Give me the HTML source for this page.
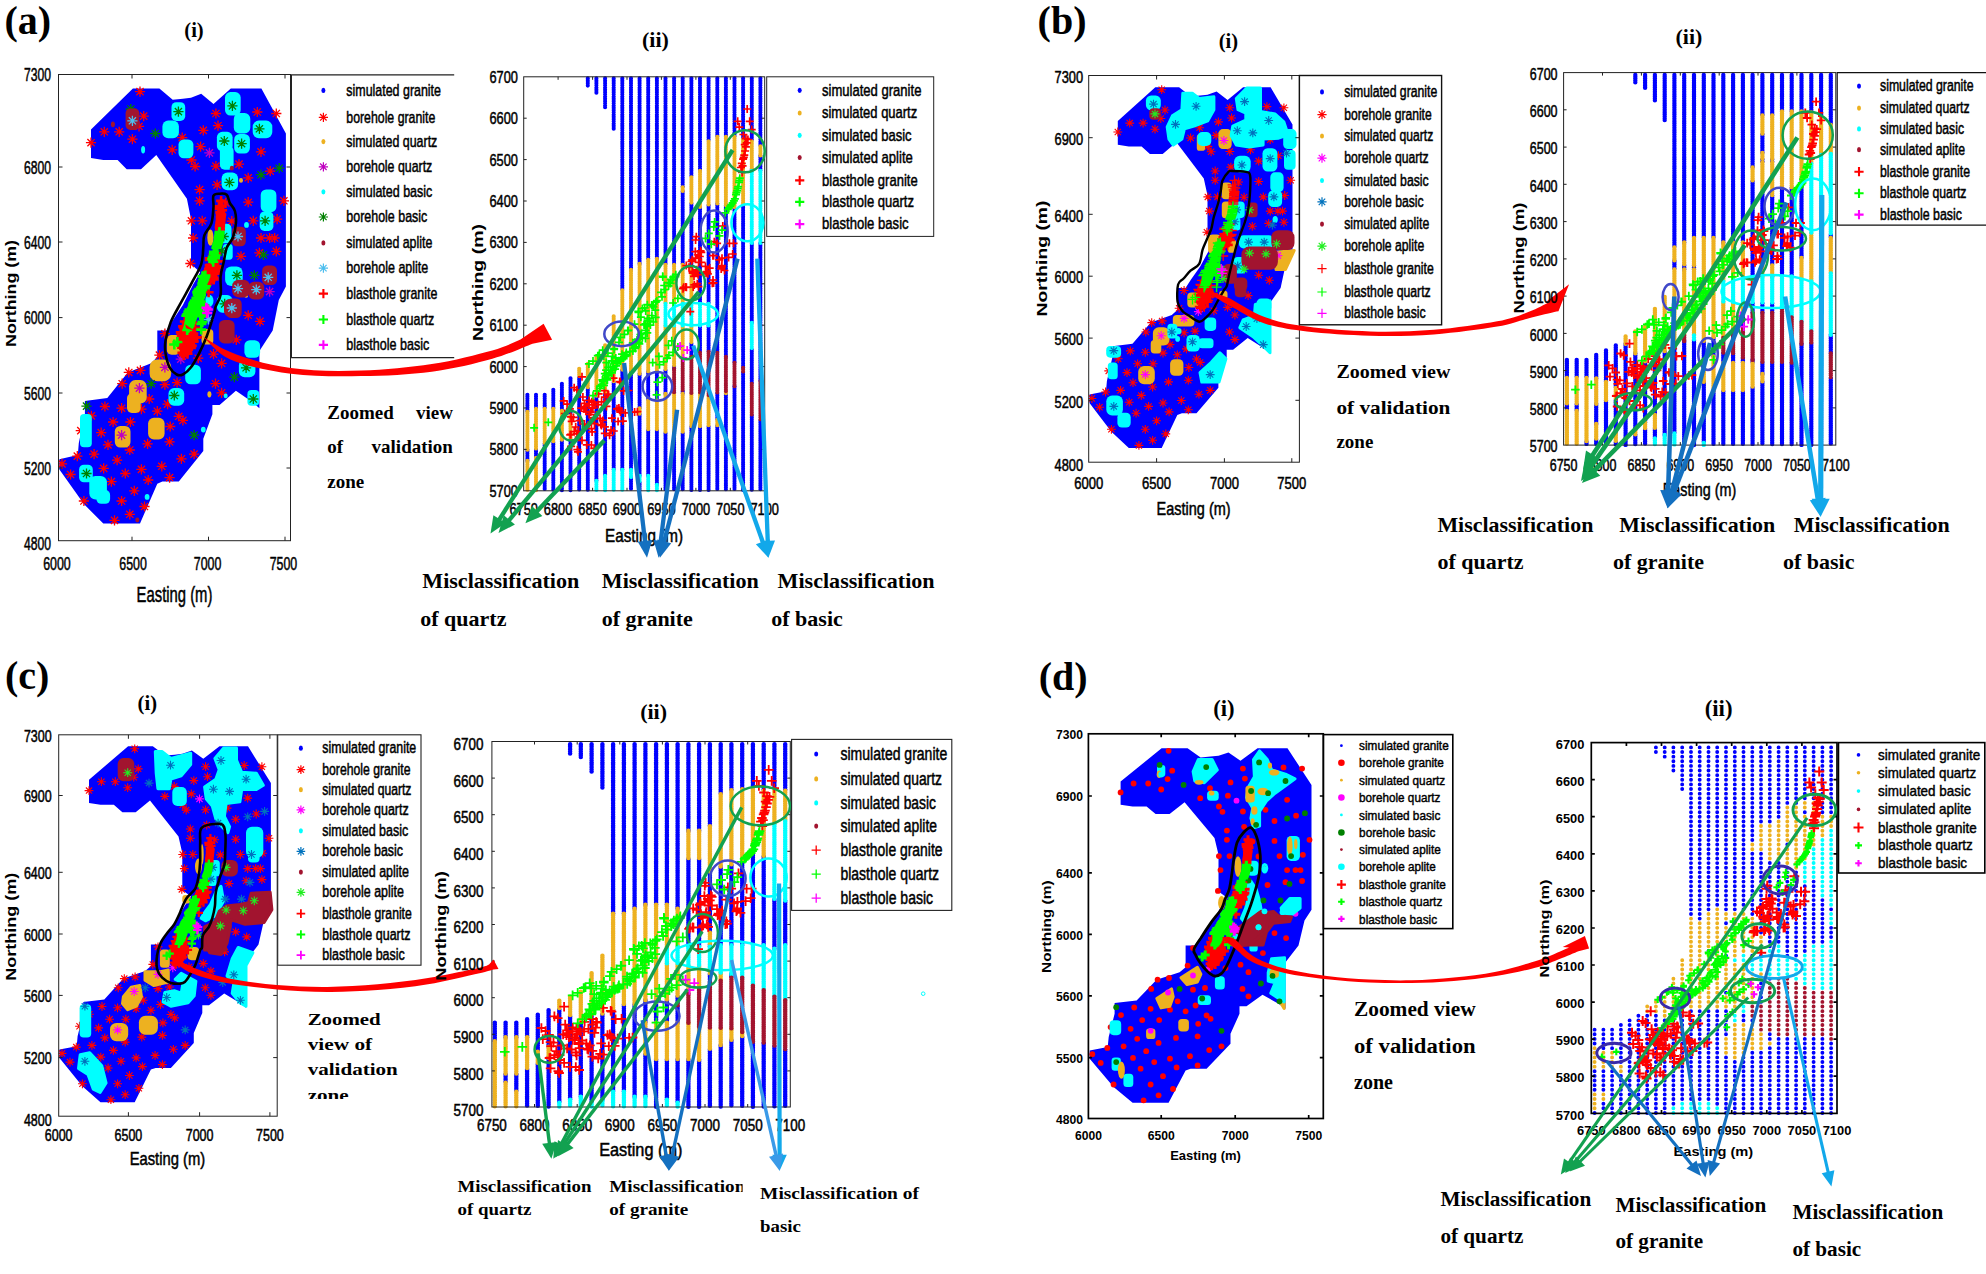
<!DOCTYPE html>
<html><head><meta charset="utf-8"><title>Figure</title>
<style>
html,body{margin:0;padding:0;background:#fff}
svg{display:block}
.lt2{stroke:#000;stroke-width:.45px}
.lt{stroke:#000;stroke-width:.5px}
text{font-family:"Liberation Sans",sans-serif}
.sf{font-family:"Liberation Serif",serif;font-weight:bold}
</style></head><body>
<svg width="1986" height="1274" viewBox="0 0 1986 1274">
<rect width="1986" height="1274" fill="#fff"/>
<clipPath id="ca"><rect x="58.5" y="74.5" width="232" height="466.2"/></clipPath><g clip-path="url(#ca)"><polygon points="132.9,88.6 159.4,88.6 172.7,99.8 182.9,98.8 191,97.8 201.2,93.7 213.5,103.9 230.8,88.6 261.4,88.6 285.9,133.5 285.9,286.5 278.8,300 272.7,330.6 259.4,351 259.4,408.2 252.2,402 235.9,390.8 219.6,405.1 212.4,405.1 212.4,414.3 203.3,438.8 203.3,451 178.8,481.6 162.4,481.6 157.3,483.7 140,523.5 103.3,523.5 83.9,504.1 59.4,469.4 59.4,459.2 77.8,455.1 78.8,442.9 84.9,414.3 84.9,401 107.3,398 127.8,372.4 151.2,363.3 157.3,357.1 157.3,330.6 166.5,330.6 172.7,320.4 182.9,304.9 193.1,284.5 200.2,272.2 191,264.1 191,219.2 186.9,198.8 156.3,154.9 141,169.2 126.7,169.2 117.6,160 103.3,160 91,158 91,129.4" fill="#0000ff" /><path d="M140 86.5v10.2M134.9 91.6h10.2M136.4 88l7.2 7.2M136.4 95.2l7.2 -7.2M143.7 111v10.2M138.6 116.1h10.2M140.1 112.5l7.2 7.2M140.1 119.7l7.2 -7.2M139 121.2v10.2M133.9 126.3h10.2M135.4 122.7l7.2 7.2M135.4 129.9l7.2 -7.2M104.3 126.7v10.2M99.2 131.8h10.2M100.7 128.2l7.2 7.2M100.7 135.4l7.2 -7.2M119.2 126.7v10.2M114.1 131.8h10.2M115.6 128.2l7.2 7.2M115.6 135.4l7.2 -7.2M91 137.6v10.2M85.9 142.7h10.2M87.4 139l7.2 7.2M87.4 146.3l7.2 -7.2M132.4 134.1v10.2M127.3 139.2h10.2M128.8 135.6l7.2 7.2M128.8 142.8l7.2 -7.2M215.9 108.4v10.2M210.8 113.5h10.2M212.3 109.9l7.2 7.2M212.3 117.1l7.2 -7.2M218 120.6v10.2M212.9 125.7h10.2M214.4 122.1l7.2 7.2M214.4 129.3l7.2 -7.2M203.3 125.3v10.2M198.2 130.4h10.2M199.7 126.8l7.2 7.2M199.7 134l7.2 -7.2M182.2 132.5v10.2M177.1 137.6h10.2M178.6 133.9l7.2 7.2M178.6 141.2l7.2 -7.2M172.2 144.7v10.2M167.1 149.8h10.2M168.6 146.2l7.2 7.2M168.6 153.4l7.2 -7.2M200.6 141.6v10.2M195.5 146.7h10.2M197 143.1l7.2 7.2M197 150.3l7.2 -7.2M191.4 154.9v10.2M186.3 160h10.2M187.8 156.4l7.2 7.2M187.8 163.6l7.2 -7.2M195.1 161.4v10.2M190 166.5h10.2M191.5 162.9l7.2 7.2M191.5 170.1l7.2 -7.2M215.9 161v10.2M210.8 166.1h10.2M212.3 162.5l7.2 7.2M212.3 169.7l7.2 -7.2M239 159v10.2M233.9 164.1h10.2M235.4 160.5l7.2 7.2M235.4 167.7l7.2 -7.2M257.3 106.9v10.2M252.2 112h10.2M253.7 108.4l7.2 7.2M253.7 115.6l7.2 -7.2M276.3 108.4v10.2M271.2 113.5h10.2M272.7 109.9l7.2 7.2M272.7 117.1l7.2 -7.2M261 146.7v10.2M255.9 151.8h10.2M257.4 148.2l7.2 7.2M257.4 155.4l7.2 -7.2M248.2 172.7v10.2M243.1 177.8h10.2M244.6 174.1l7.2 7.2M244.6 181.4l7.2 -7.2M270.2 166.1v10.2M265.1 171.2h10.2M266.6 167.6l7.2 7.2M266.6 174.8l7.2 -7.2M217.1 179.8v10.2M212 184.9h10.2M213.5 181.3l7.2 7.2M213.5 188.5l7.2 -7.2M199.6 184.5v10.2M194.5 189.6h10.2M196 186l7.2 7.2M196 193.2l7.2 -7.2M199.6 195.7v10.2M194.5 200.8h10.2M196 197.2l7.2 7.2M196 204.4l7.2 -7.2M248.2 197.1v10.2M243.1 202.2h10.2M244.6 198.6l7.2 7.2M244.6 205.9l7.2 -7.2M283.9 195.7v10.2M278.8 200.8h10.2M280.3 197.2l7.2 7.2M280.3 204.4l7.2 -7.2M191.4 215.7v10.2M186.3 220.8h10.2M187.8 217.2l7.2 7.2M187.8 224.4l7.2 -7.2M202.2 215.7v10.2M197.1 220.8h10.2M198.6 217.2l7.2 7.2M198.6 224.4l7.2 -7.2M231.8 216.1v10.2M226.7 221.2h10.2M228.2 217.6l7.2 7.2M228.2 224.8l7.2 -7.2M253.3 215.7v10.2M248.2 220.8h10.2M249.7 217.2l7.2 7.2M249.7 224.4l7.2 -7.2M277.1 214.1v10.2M272 219.2h10.2M273.5 215.6l7.2 7.2M273.5 222.8l7.2 -7.2M193.1 232.9v10.2M188 238h10.2M189.5 234.4l7.2 7.2M189.5 241.6l7.2 -7.2M261 232.9v10.2M255.9 238h10.2M257.4 234.4l7.2 7.2M257.4 241.6l7.2 -7.2M269.6 232.9v10.2M264.5 238h10.2M266 234.4l7.2 7.2M266 241.6l7.2 -7.2M274.7 232.9v10.2M269.6 238h10.2M271.1 234.4l7.2 7.2M271.1 241.6l7.2 -7.2M259.4 247.8v10.2M254.3 252.9h10.2M255.8 249.3l7.2 7.2M255.8 256.5l7.2 -7.2M276.3 246.3v10.2M271.2 251.4h10.2M272.7 247.8l7.2 7.2M272.7 255l7.2 -7.2M241 251.2v10.2M235.9 256.3h10.2M237.4 252.7l7.2 7.2M237.4 259.9l7.2 -7.2M190.4 258.4v10.2M185.3 263.5h10.2M186.8 259.9l7.2 7.2M186.8 267.1l7.2 -7.2M225.7 197.8v10.2M220.6 202.9h10.2M222.1 199.3l7.2 7.2M222.1 206.5l7.2 -7.2M248.2 310.2v10.2M243.1 315.3h10.2M244.6 311.7l7.2 7.2M244.6 318.9l7.2 -7.2M260 316.3v10.2M254.9 321.4h10.2M256.4 317.8l7.2 7.2M256.4 325l7.2 -7.2M236.3 334.7v10.2M231.2 339.8h10.2M232.7 336.2l7.2 7.2M232.7 343.4l7.2 -7.2M221.6 358.2v10.2M216.5 363.3h10.2M218 359.7l7.2 7.2M218 366.9l7.2 -7.2M198.2 353.1v10.2M193.1 358.2h10.2M194.6 354.6l7.2 7.2M194.6 361.8l7.2 -7.2M213.5 349v10.2M208.4 354.1h10.2M209.9 350.5l7.2 7.2M209.9 357.7l7.2 -7.2M159.4 350v10.2M154.3 355.1h10.2M155.8 351.5l7.2 7.2M155.8 358.7l7.2 -7.2M164.9 328.6v10.2M159.8 333.7h10.2M161.3 330.1l7.2 7.2M161.3 337.3l7.2 -7.2M128.8 367.3v10.2M123.7 372.4h10.2M125.2 368.8l7.2 7.2M125.2 376.1l7.2 -7.2M140.4 365.3v10.2M135.3 370.4h10.2M136.8 366.8l7.2 7.2M136.8 374l7.2 -7.2M122.2 378.6v10.2M117.1 383.7h10.2M118.6 380.1l7.2 7.2M118.6 387.3l7.2 -7.2M164.9 379.6v10.2M159.8 384.7h10.2M161.3 381.1l7.2 7.2M161.3 388.3l7.2 -7.2M177.1 377.6v10.2M172 382.7h10.2M173.5 379l7.2 7.2M173.5 386.3l7.2 -7.2M215.5 378.6v10.2M210.4 383.7h10.2M211.9 380.1l7.2 7.2M211.9 387.3l7.2 -7.2M221.6 387.8v10.2M216.5 392.9h10.2M218 389.3l7.2 7.2M218 396.5l7.2 -7.2M149.2 393.9v10.2M144.1 399h10.2M145.6 395.4l7.2 7.2M145.6 402.6l7.2 -7.2M104.9 401.4v10.2M99.8 406.5h10.2M101.3 402.9l7.2 7.2M101.3 410.1l7.2 -7.2M121.6 403.1v10.2M116.5 408.2h10.2M118 404.6l7.2 7.2M118 411.8l7.2 -7.2M141.4 404.1v10.2M136.3 409.2h10.2M137.8 405.6l7.2 7.2M137.8 412.8l7.2 -7.2M157.3 406.1v10.2M152.2 411.2h10.2M153.7 407.6l7.2 7.2M153.7 414.8l7.2 -7.2M167.6 399v10.2M162.5 404.1h10.2M163.9 400.5l7.2 7.2M163.9 407.7l7.2 -7.2M91.4 410.8v10.2M86.3 415.9h10.2M87.8 412.3l7.2 7.2M87.8 419.5l7.2 -7.2M113.1 416.9v10.2M108 422h10.2M109.5 418.4l7.2 7.2M109.5 425.6l7.2 -7.2M130.4 416.9v10.2M125.3 422h10.2M126.8 418.4l7.2 7.2M126.8 425.6l7.2 -7.2M178.8 411.2v10.2M173.7 416.3h10.2M175.2 412.7l7.2 7.2M175.2 419.9l7.2 -7.2M182.9 415.3v10.2M177.8 420.4h10.2M179.3 416.8l7.2 7.2M179.3 424l7.2 -7.2M170.2 421.4v10.2M165.1 426.5h10.2M166.6 422.9l7.2 7.2M166.6 430.1l7.2 -7.2M101.2 427.6v10.2M96.1 432.7h10.2M97.6 429l7.2 7.2M97.6 436.3l7.2 -7.2M80.8 425.5v10.2M75.7 430.6h10.2M77.2 427l7.2 7.2M77.2 434.2l7.2 -7.2M108 439.8v10.2M102.9 444.9h10.2M104.4 441.3l7.2 7.2M104.4 448.5l7.2 -7.2M147.6 438.8v10.2M142.5 443.9h10.2M143.9 440.3l7.2 7.2M143.9 447.5l7.2 -7.2M169.6 436.7v10.2M164.5 441.8h10.2M166 438.2l7.2 7.2M166 445.4l7.2 -7.2M129.8 444.9v10.2M124.7 450h10.2M126.2 446.4l7.2 7.2M126.2 453.6l7.2 -7.2M77.3 451v10.2M72.2 456.1h10.2M73.7 452.5l7.2 7.2M73.7 459.7l7.2 -7.2M94.1 449v10.2M89 454.1h10.2M90.5 450.5l7.2 7.2M90.5 457.7l7.2 -7.2M62 458.8v10.2M56.9 463.9h10.2M58.4 460.3l7.2 7.2M58.4 467.5l7.2 -7.2M117.1 455.1v10.2M112 460.2h10.2M113.5 456.6l7.2 7.2M113.5 463.8l7.2 -7.2M194.1 449v10.2M189 454.1h10.2M190.5 450.5l7.2 7.2M190.5 457.7l7.2 -7.2M181.4 453.7v10.2M176.3 458.8h10.2M177.8 455.2l7.2 7.2M177.8 462.4l7.2 -7.2M70.6 469.4v10.2M65.5 474.5h10.2M67 470.9l7.2 7.2M67 478.1l7.2 -7.2M103.7 463.3v10.2M98.6 468.4h10.2M100.1 464.8l7.2 7.2M100.1 472l7.2 -7.2M125.3 468.4v10.2M120.2 473.5h10.2M121.7 469.9l7.2 7.2M121.7 477.1l7.2 -7.2M141.4 464.3v10.2M136.3 469.4h10.2M137.8 465.8l7.2 7.2M137.8 473l7.2 -7.2M161.8 461.2v10.2M156.7 466.3h10.2M158.2 462.7l7.2 7.2M158.2 469.9l7.2 -7.2M169.6 472.5v10.2M164.5 477.6h10.2M166 473.9l7.2 7.2M166 481.2l7.2 -7.2M111.4 476.5v10.2M106.3 481.6h10.2M107.8 478l7.2 7.2M107.8 485.2l7.2 -7.2M148.2 474.9v10.2M143.1 480h10.2M144.6 476.4l7.2 7.2M144.6 483.6l7.2 -7.2M134.3 485.7v10.2M129.2 490.8h10.2M130.7 487.2l7.2 7.2M130.7 494.4l7.2 -7.2M83.9 495.9v10.2M78.8 501h10.2M80.3 497.4l7.2 7.2M80.3 504.6l7.2 -7.2M121.6 495.9v10.2M116.5 501h10.2M118 497.4l7.2 7.2M118 504.6l7.2 -7.2M144.5 501.4v10.2M139.4 506.5h10.2M140.9 502.9l7.2 7.2M140.9 510.1l7.2 -7.2M129.8 509.2v10.2M124.7 514.3h10.2M126.2 510.7l7.2 7.2M126.2 517.9l7.2 -7.2M114.5 515.3v10.2M109.4 520.4h10.2M110.9 516.8l7.2 7.2M110.9 524l7.2 -7.2" stroke="#ff0000" stroke-width="1.3" fill="none"/><ellipse cx="241" cy="180.4" rx="2" ry="2.4" fill="#edb120" /><ellipse cx="210.4" cy="237.6" rx="3.1" ry="8.2" fill="#edb120" /><ellipse cx="246.1" cy="295.7" rx="2" ry="2" fill="#edb120" /><rect x="149.6" y="359.6" width="21.6" height="21.6" rx="7.5" fill="#edb120"/><rect x="129.1" y="380.1" width="17.6" height="23.5" rx="6.2" fill="#edb120"/><rect x="127" y="393.3" width="13.7" height="19.6" rx="4.8" fill="#edb120"/><rect x="148.1" y="417.8" width="16.5" height="21.6" rx="5.8" fill="#edb120"/><rect x="114.8" y="426" width="15.7" height="21.6" rx="5.5" fill="#edb120"/><ellipse cx="209.4" cy="394.3" rx="2" ry="3.1" fill="#edb120" /><rect x="166.8" y="335.1" width="13.7" height="19.6" rx="4.8" fill="#edb120"/><rect x="201.5" y="328.9" width="11.8" height="15.7" rx="4.1" fill="#edb120"/><path d="M209.4 147.8v10.2M204.3 152.9h10.2M205.8 149.3l7.2 7.2M205.8 156.5l7.2 -7.2M269.6 286.5v10.2M264.5 291.6h10.2M266 288l7.2 7.2M266 295.2l7.2 -7.2M139.4 383.1v10.2M134.3 388.2h10.2M135.8 384.6l7.2 7.2M135.8 391.8l7.2 -7.2M121.6 430v10.2M116.5 435.1h10.2M118 431.5l7.2 7.2M118 438.7l7.2 -7.2M164.9 362.2v10.2M159.8 367.3h10.2M161.3 363.7l7.2 7.2M161.3 371l7.2 -7.2M180.8 354.1v10.2M175.7 359.2h10.2M177.2 355.6l7.2 7.2M177.2 362.8l7.2 -7.2" stroke="#bf00bf" stroke-width="1.3" fill="none"/><rect x="171.5" y="102.2" width="13.7" height="18.8" rx="4.8" fill="#00ffff"/><rect x="162.4" y="120.6" width="16.5" height="17.6" rx="5.8" fill="#00ffff"/><rect x="178.5" y="139.4" width="14.9" height="18.8" rx="5.2" fill="#00ffff"/><ellipse cx="143.1" cy="149.8" rx="2" ry="3.7" fill="#00ffff" /><rect x="225" y="92.1" width="15.7" height="23.5" rx="5.5" fill="#00ffff"/><rect x="233.8" y="113.1" width="16.5" height="20.4" rx="5.8" fill="#00ffff"/><rect x="252.7" y="120.6" width="19.6" height="17.6" rx="6.2" fill="#00ffff"/><rect x="216.9" y="131.8" width="15.7" height="19.6" rx="5.5" fill="#00ffff"/><rect x="234.2" y="133.9" width="15.7" height="19.6" rx="5.5" fill="#00ffff"/><rect x="219.9" y="146.2" width="13.7" height="23.5" rx="4.8" fill="#00ffff"/><rect x="221.6" y="172.6" width="16.5" height="17.6" rx="5.8" fill="#00ffff"/><rect x="260.7" y="189.5" width="15.7" height="22.7" rx="5.5" fill="#00ffff"/><rect x="259.7" y="211.4" width="13.7" height="19.6" rx="4.8" fill="#00ffff"/><ellipse cx="246.5" cy="224.9" rx="2.4" ry="2.9" fill="#00ffff" /><rect x="217.8" y="223.7" width="13.7" height="19.6" rx="4.8" fill="#00ffff"/><rect x="222.9" y="244" width="9.8" height="15.7" rx="3.4" fill="#00ffff"/><rect x="225.1" y="266.5" width="17.6" height="19.6" rx="6.2" fill="#00ffff"/><rect x="216.9" y="295.1" width="15.7" height="17.6" rx="5.5" fill="#00ffff"/><ellipse cx="209.4" cy="300.8" rx="4.1" ry="6.1" fill="#00ffff" /><rect x="244.4" y="340.2" width="15.7" height="17.6" rx="5.5" fill="#00ffff"/><rect x="238.9" y="359.6" width="16.5" height="17.6" rx="5.8" fill="#00ffff"/><rect x="185.2" y="364.7" width="15.7" height="19.6" rx="5.5" fill="#00ffff"/><rect x="168.5" y="388.1" width="15.7" height="17.6" rx="5.5" fill="#00ffff"/><rect x="247.4" y="390.1" width="11.8" height="15.7" rx="4.1" fill="#00ffff"/><rect x="80" y="414" width="11.8" height="33.3" rx="4.1" fill="#00ffff"/><ellipse cx="203.3" cy="429.6" rx="2.4" ry="2.9" fill="#00ffff" /><rect x="79.1" y="464.7" width="13.7" height="17.6" rx="4.8" fill="#00ffff"/><rect x="89.3" y="476" width="17.6" height="23.5" rx="6.2" fill="#00ffff"/><rect x="96.4" y="490.1" width="13.7" height="13.7" rx="4.8" fill="#00ffff"/><ellipse cx="147.1" cy="496.9" rx="2.4" ry="2.9" fill="#00ffff" /><ellipse cx="225.7" cy="395.9" rx="2" ry="2.4" fill="#00ffff" /><path d="M130.8 103.9v10.2M125.7 109h10.2M127.2 105.4l7.2 7.2M127.2 112.6l7.2 -7.2M178.4 106.5v10.2M173.3 111.6h10.2M174.8 108l7.2 7.2M174.8 115.2l7.2 -7.2M155.3 128.4v10.2M150.2 133.5h10.2M151.7 129.9l7.2 7.2M151.7 137.1l7.2 -7.2M232.4 100.8v10.2M227.3 105.9h10.2M228.8 102.3l7.2 7.2M228.8 109.5l7.2 -7.2M259.4 123.7v10.2M254.3 128.8h10.2M255.8 125.2l7.2 7.2M255.8 132.4l7.2 -7.2M224.3 135.9v10.2M219.2 141h10.2M220.7 137.4l7.2 7.2M220.7 144.6l7.2 -7.2M241.6 138.6v10.2M236.5 143.7h10.2M238 140.1l7.2 7.2M238 147.3l7.2 -7.2M279.2 163.1v10.2M274.1 168.2h10.2M275.6 164.6l7.2 7.2M275.6 171.8l7.2 -7.2M261 169.6v10.2M255.9 174.7h10.2M257.4 171.1l7.2 7.2M257.4 178.3l7.2 -7.2M229.4 177.3v10.2M224.3 182.4h10.2M225.8 178.8l7.2 7.2M225.8 186.1l7.2 -7.2M265.1 215.7v10.2M260 220.8h10.2M261.5 217.2l7.2 7.2M261.5 224.4l7.2 -7.2M223.7 231.4v10.2M218.6 236.5h10.2M220.1 232.9l7.2 7.2M220.1 240.1l7.2 -7.2M221.6 245.7v10.2M216.5 250.8h10.2M218 247.2l7.2 7.2M218 254.4l7.2 -7.2M263.5 249.8v10.2M258.4 254.9h10.2M259.9 251.3l7.2 7.2M259.9 258.5l7.2 -7.2M236.9 270.2v10.2M231.8 275.3h10.2M233.3 271.7l7.2 7.2M233.3 278.9l7.2 -7.2M254.3 270.2v10.2M249.2 275.3h10.2M250.7 271.7l7.2 7.2M250.7 278.9l7.2 -7.2M224.7 298.8v10.2M219.6 303.9h10.2M221.1 300.3l7.2 7.2M221.1 307.5l7.2 -7.2M246.1 362.7v10.2M241 367.8h10.2M242.5 364.1l7.2 7.2M242.5 371.4l7.2 -7.2M234.3 372v10.2M229.2 377.1h10.2M230.7 373.5l7.2 7.2M230.7 380.7l7.2 -7.2M151.2 378.6v10.2M146.1 383.7h10.2M147.6 380.1l7.2 7.2M147.6 387.3l7.2 -7.2M174.3 390.4v10.2M169.2 395.5h10.2M170.7 391.9l7.2 7.2M170.7 399.1l7.2 -7.2M253.3 393.9v10.2M248.2 399h10.2M249.7 395.4l7.2 7.2M249.7 402.6l7.2 -7.2M86.5 401v10.2M81.4 406.1h10.2M82.9 402.5l7.2 7.2M82.9 409.7l7.2 -7.2M194.1 430v10.2M189 435.1h10.2M190.5 431.5l7.2 7.2M190.5 438.7l7.2 -7.2M86.5 468.4v10.2M81.4 473.5h10.2M82.9 469.9l7.2 7.2M82.9 477.1l7.2 -7.2" stroke="#008000" stroke-width="1.3" fill="none"/><rect x="125.6" y="108.4" width="13.7" height="21.6" rx="4.8" fill="#a2142f"/><ellipse cx="112.9" cy="124.3" rx="2" ry="2.9" fill="#a2142f" /><ellipse cx="231.8" cy="168.2" rx="2" ry="2.4" fill="#a2142f" /><rect x="232.1" y="226.7" width="13.7" height="19.6" rx="4.8" fill="#a2142f"/><rect x="262.1" y="265.5" width="14.9" height="19.6" rx="5.2" fill="#a2142f"/><rect x="232.2" y="279.8" width="17.6" height="17.6" rx="6.2" fill="#a2142f"/><rect x="248.5" y="281.8" width="15.7" height="17.6" rx="5.5" fill="#a2142f"/><rect x="224" y="299.1" width="15.7" height="17.6" rx="5.5" fill="#a2142f"/><rect x="218.9" y="319.9" width="15.7" height="23.5" rx="5.5" fill="#a2142f"/><rect x="226" y="298.4" width="15.7" height="19.6" rx="5.5" fill="#a2142f"/><ellipse cx="137.3" cy="520" rx="2" ry="2.4" fill="#a2142f" /><path d="M132.4 115.7v10.2M127.3 120.8h10.2M128.8 117.2l7.2 7.2M128.8 124.4l7.2 -7.2M238 231.4v10.2M232.9 236.5h10.2M234.4 232.9l7.2 7.2M234.4 240.1l7.2 -7.2M268.2 272.2v10.2M263.1 277.3h10.2M264.6 273.7l7.2 7.2M264.6 281l7.2 -7.2M238 283.5v10.2M232.9 288.6h10.2M234.4 285l7.2 7.2M234.4 292.2l7.2 -7.2M256.3 284.5v10.2M251.2 289.6h10.2M252.7 286l7.2 7.2M252.7 293.2l7.2 -7.2M231.8 302.9v10.2M226.7 308h10.2M228.2 304.4l7.2 7.2M228.2 311.6l7.2 -7.2M231.8 303.1v10.2M226.7 308.2h10.2M228.2 304.6l7.2 7.2M228.2 311.8l7.2 -7.2M208.4 314.3v10.2M203.3 319.4h10.2M204.8 315.8l7.2 7.2M204.8 323l7.2 -7.2" stroke="#4dbeee" stroke-width="1.3" fill="none"/><path d="M221.1 195.9v10M216.1 200.9h10M219 201.4v10M214 206.4h10M221.7 201.4v10M216.7 206.4h10M219.4 204v10M214.4 209h10M222.1 205.2v10M217.1 210.2h10M220.3 207.4v10M215.3 212.4h10M220.8 209.2v10M215.8 214.2h10M221 211.1v10M216 216.1h10M220.8 213v10M215.8 218h10M220.7 214.8v10M215.7 219.8h10M220.5 216.7v10M215.5 221.7h10M220.2 218.5v10M215.2 223.5h10M219.9 220.4v10M214.9 225.4h10M219.7 222.2v10M214.7 227.2h10M220 224.5v10M215 229.5h10M215.8 248.6v10M210.8 253.6h10M209.8 254.9v10M204.8 259.9h10M214.5 256.4v10M209.5 261.4h10M217.2 256.4v10M212.2 261.4h10M210.9 259.7v10M205.9 264.7h10M210.3 261.6v10M205.3 266.6h10M209.8 263.1v10M204.8 268.1h10M213.6 262v10M208.6 267h10M215.6 263.1v10M210.6 268.1h10M217 262.7v10M212 267.7h10M208.9 264.6v10M203.9 269.6h10M211.1 264.9v10M206.1 269.9h10M212 266.8v10M207 271.8h10M215.4 267.9v10M210.4 272.9h10M208.3 267.2v10M203.3 272.2h10M209.1 269v10M204.1 274h10M212.3 269.4v10M207.3 274.4h10M216.1 268.7v10M211.1 273.7h10M209.4 271.3v10M204.4 276.3h10M213.6 274.2v10M208.6 279.2h10M207.6 276.1v10M202.6 281.1h10M209.2 276.1v10M204.2 281.1h10M221.3 209.6v10M216.3 214.6h10M220.6 212v10M215.6 217h10M220.4 217.6v10M215.4 222.6h10M220.1 221.5v10M215.1 226.5h10M209.1 269.8v10M204.1 274.8h10M212.1 269.8v10M207.1 274.8h10M207.8 276.2v10M202.8 281.2h10M209.5 275.1v10M204.5 280.1h10M213.4 274.4v10M208.4 279.4h10M208.6 287.2v10M203.6 292.2h10M184.8 316.5v10M179.8 321.5h10M183.1 321.4v10M178.1 326.4h10M193.1 318.6v10M188.1 323.6h10M194 322.9v10M189 327.9h10M181.5 328.9v10M176.5 333.9h10M185.3 328.5v10M180.3 333.5h10M186.4 327.1v10M181.4 332.1h10M184.6 330.6v10M179.6 335.6h10M187.1 330.6v10M182.1 335.6h10M189.1 327.8v10M184.1 332.8h10M189.8 325.7v10M184.8 330.7h10M192.9 330.6v10M187.9 335.6h10M193.3 332.4v10M188.3 337.4h10M196.4 332.4v10M191.4 337.4h10M182.4 334.5v10M177.4 339.5h10M186.4 333.5v10M181.4 338.5h10M188.8 335.2v10M183.8 340.2h10M189 338.1v10M184 343.1h10M192.7 336.6v10M187.7 341.6h10M183.4 339.1v10M178.4 344.1h10M186.9 339.8v10M181.9 344.8h10M189.8 342v10M184.8 347h10M191.2 340.5v10M186.2 345.5h10M182.2 342.7v10M177.2 347.7h10M184.8 345.1v10M179.8 350.1h10M186.9 347.3v10M181.9 352.3h10M183.8 349.4v10M178.8 354.4h10M185.7 332.1v10M180.7 337.1h10M187.7 329.2v10M182.7 334.2h10M187.4 335.6v10M182.4 340.6h10M184.3 336.3v10M179.3 341.3h10M183.1 341.2v10M178.1 346.2h10M190.5 324.3v10M185.5 329.3h10M209.9 253.4v10M204.9 258.4h10M213.9 255.7v10M208.9 260.7h10M218.1 256.4v10M213.1 261.4h10M211 260.5v10M206 265.5h10M209.7 260.1v10M204.7 265.1h10M210.7 262.3v10M205.7 267.3h10M213.7 262v10M208.7 267h10M215 263.8v10M210 268.8h10M217.9 261.2v10M212.9 266.2h10M209 263.8v10M204 268.8h10M210.4 264.9v10M205.4 269.9h10M212.9 267.5v10M207.9 272.5h10M215.5 266.4v10M210.5 271.4h10M207.7 266.4v10M202.7 271.4h10M210 269v10M205 274h10M212.5 270.1v10M207.5 275.1h10M215.5 267.2v10M210.5 272.2h10M210.3 270.5v10M205.3 275.5h10M213.7 274.2v10M208.7 279.2h10M207 276.8v10M202 281.8h10M210.1 274.6v10M205.1 279.6h10M210 268.3v10M205 273.3h10M212.2 269.1v10M207.2 274.1h10M207.1 276.2v10M202.1 281.2h10M210.4 275.9v10M205.4 280.9h10M213.6 272.9v10M208.6 277.9h10M183.7 322.4v10M178.7 327.4h10M193.2 319v10M188.2 324h10M191.7 317.1v10M186.7 322.1h10M195 322.7v10M190 327.7h10M182.1 330.9v10M177.1 335.9h10M180.8 327.4v10M175.8 332.4h10M185.5 330v10M180.5 335h10M187.4 328v10M182.4 333h10M185 325.6v10M180 330.6h10M185.2 331v10M180.2 336h10M187.2 330.5v10M182.2 335.5h10M186.3 329.1v10M181.3 334.1h10M190.2 329.9v10M185.2 334.9h10M190.4 327.2v10M185.4 332.2h10M188.5 324.2v10M183.5 329.2h10M193.1 331.6v10M188.1 336.6h10M194.3 332.8v10M189.3 337.8h10M192.5 330.9v10M187.5 335.9h10M197 332.2v10M192 337.2h10M182.5 336.6v10M177.5 341.6h10M181 333v10M176 338h10M187.4 335v10M182.4 340h10M189.4 336.2v10M184.4 341.2h10M188 333.7v10M183 338.7h10M189.1 338.4v10M184.1 343.4h10M193.8 336.5v10M188.8 341.5h10M191.4 335.2v10M186.4 340.2h10M184 341.2v10M179 346.2h10M187 341.3v10M182 346.3h10M186.1 338.3v10M181.1 343.3h10M190.9 342.9v10M185.9 347.9h10M191.8 340.9v10M186.8 345.9h10M189.8 339v10M184.8 344h10M182.4 342.5v10M177.4 347.5h10M185.9 347.2v10M180.9 352.2h10M184.1 343.6v10M179.1 348.6h10M187.5 348.7v10M182.5 353.7h10M183.9 350.3v10M178.9 355.3h10M182.4 347.9v10M177.4 352.9h10M186.7 332.4v10M181.7 337.4h10M188.3 329v10M183.3 334h10M187 327.7v10M182 332.7h10M187.6 337.6v10M182.6 342.6h10M185.4 337.8v10M180.4 342.8h10M182.9 334.8v10M177.9 339.8h10M183.7 342.2v10M178.7 347.2h10M190.7 324.6v10M185.7 329.6h10M189.7 322.8v10M184.7 327.8h10" stroke="#ff0000" stroke-width="2.6" fill="none"/><path d="M219.5 227.1v10M214.5 232.1h10M219.3 228.9v10M214.3 233.9h10M219.1 230.8v10M214.1 235.8h10M218.9 232.6v10M213.9 237.6h10M218.7 234.5v10M213.7 239.5h10M218.4 236.4v10M213.4 241.4h10M217.9 238.2v10M212.9 243.2h10M217.4 239.7v10M212.4 244.7h10M216.8 241.2v10M211.8 246.2h10M216.3 242.7v10M211.3 247.7h10M213.9 246.7v10M208.9 251.7h10M213.8 249v10M208.8 254h10M215.6 250.5v10M210.6 255.5h10M212.7 251.9v10M207.7 256.9h10M212 254.2v10M207 259.2h10M215 253.1v10M210 258.1h10M213.2 256.8v10M208.2 261.8h10M202.5 271.3v10M197.5 276.3h10M204 274.2v10M199 279.2h10M203.1 277.2v10M198.1 282.2h10M204.7 272.7v10M199.7 277.7h10M205.4 270.5v10M200.4 275.5h10M219.4 228v10M214.4 233h10M219 231.7v10M214 236.7h10M218.8 233.5v10M213.8 238.5h10M218.2 237.2v10M213.2 242.2h10M217.6 238.9v10M212.6 243.9h10M217.1 240.4v10M212.1 245.4h10M202.6 271.6v10M197.6 276.6h10M203.8 274.1v10M198.8 279.1h10M202.9 277.3v10M197.9 282.3h10M204.3 272.7v10M199.3 277.7h10M204.8 283.3v10M199.8 288.3h10M201 282.9v10M196 287.9h10M200.5 285v10M195.5 290h10M198.1 285.7v10M193.1 290.7h10M197.2 287.5v10M192.2 292.5h10M200.2 288.9v10M195.2 293.9h10M197.7 289.6v10M192.7 294.6h10M199.6 291.4v10M194.6 296.4h10M198.4 293.2v10M193.4 298.2h10M198.8 295.6v10M193.8 300.6h10M195 295.6v10M190 300.6h10M194.1 297.4v10M189.1 302.4h10M198.1 298.8v10M193.1 303.8h10M197.4 301.6v10M192.4 306.6h10M196.5 303.8v10M191.5 308.8h10M195.3 305.2v10M190.3 310.2h10M194.6 306.9v10M189.6 311.9h10M193.8 308v10M188.8 313h10M191.9 303.8v10M186.9 308.8h10M190.5 305.9v10M185.5 310.9h10M188.6 306.6v10M183.6 311.6h10M187.2 309.4v10M182.2 314.4h10M190.2 310.1v10M185.2 315.1h10M192.6 310.5v10M187.6 315.5h10M193.3 309.4v10M188.3 314.4h10M191 312.3v10M186 317.3h10M189.8 315.1v10M184.8 320.1h10M191 314.7v10M186 319.7h10M189.3 317.9v10M184.3 322.9h10M189.6 320.4v10M184.6 325.4h10M188.1 322.9v10M183.1 327.9h10M187.2 325v10M182.2 330h10M203.8 302.4v10M198.8 307.4h10M204.8 305.5v10M199.8 310.5h10M200.3 310.1v10M195.3 315.1h10M202.8 309.8v10M197.8 314.8h10M201.4 319v10M196.4 324h10M201.2 324.6v10M196.2 329.6h10M177.4 337v10M172.4 342h10M174.3 339.5v10M169.3 344.5h10M199.1 293.9v10M194.1 298.9h10M196.9 299.9v10M191.9 304.9h10M196 302.4v10M191 307.4h10M192.2 308v10M187.2 313h10M191.5 313.7v10M186.5 318.7h10M190.3 317.2v10M185.3 322.2h10M188.8 320.7v10M183.8 325.7h10M205.3 271.4v10M200.3 276.4h10M203.8 275.5v10M198.8 280.5h10M202.2 278.5v10M197.2 283.5h10M204.8 271.6v10M199.8 276.6h10M202.9 275.4v10M197.9 280.4h10M204.3 274.5v10M199.3 279.5h10M205.9 281.2v10M200.9 286.2h10M202.4 280.5v10M197.4 285.5h10M200.1 284.2v10M195.1 289.2h10M201.3 282.2v10M196.3 287.2h10M199.2 284.1v10M194.2 289.1h10M197.2 287v10M192.2 292h10M198.6 285.5v10M193.6 290.5h10M200.9 286.5v10M195.9 291.5h10M199.3 290.2v10M194.3 295.2h10M198.8 286.8v10M193.8 291.8h10M201 289.7v10M196 294.7h10M198.7 292.7v10M193.7 297.7h10M199.2 291.1v10M194.2 296.1h10M199.8 293.2v10M194.8 298.2h10M197.9 296.9v10M192.9 301.9h10M196.4 292.8v10M191.4 297.8h10M194.9 295.7v10M189.9 300.7h10M193.2 298.7v10M188.2 303.7h10M199.2 296.8v10M194.2 301.8h10M198.8 299.2v10M193.8 304.2h10M196.5 303v10M191.5 308h10M197.3 301v10M192.3 306h10M196.4 303.5v10M191.4 308.5h10M194.4 306.5v10M189.4 311.5h10M196 304.9v10M191 309.9h10M194.5 305.6v10M189.5 310.6h10M192.9 309.3v10M187.9 314.3h10M192.9 301v10M187.9 306h10M191.9 304.2v10M186.9 309.2h10M189.6 307.2v10M184.6 312.2h10M189.4 304.5v10M184.4 309.5h10M188.3 307v10M183.3 312h10M186.3 310.7v10M181.3 315.7h10M191.5 307.3v10M186.5 312.3h10M193.3 308.8v10M188.3 313.8h10M191.7 311.8v10M186.7 316.8h10M194.3 307.4v10M189.3 312.4h10M192.4 309.8v10M187.4 314.8h10M190.1 313.6v10M185.1 318.6h10M190.6 312.3v10M185.6 317.3h10M192.1 313v10M187.1 318h10M190.1 316v10M185.1 321h10M190.7 315.9v10M185.7 320.9h10M190.4 318v10M185.4 323h10M188.7 321.7v10M183.7 326.7h10M189.1 320.1v10M184.1 325.1h10M204.5 300.3v10M199.5 305.3h10M205.9 303.1v10M200.9 308.1h10M203.9 306.8v10M198.9 311.8h10M201.7 307.3v10M196.7 312.3h10M203.5 308.1v10M198.5 313.1h10M201.8 311.1v10M196.8 316.1h10M202.4 316.9v10M197.4 321.9h10M200.5 291.8v10M195.5 296.8h10M197.6 297.5v10M192.6 302.5h10M196 301.2v10M191 306.2h10M197.1 299.6v10M192.1 304.6h10M193.6 306.3v10M188.6 311.3h10M191.3 309.3v10M186.3 314.3h10M192.3 311.6v10M187.3 316.6h10M191.4 314.8v10M186.4 319.8h10M189.4 318.5v10M184.4 323.5h10M190.1 317.9v10M185.1 322.9h10" stroke="#00ff00" stroke-width="2.6" fill="none"/><path d="M206.4 302.7v10M201.4 307.7h10M207.9 304.5v10M202.9 309.5h10M207.1 308v10M202.1 313h10" stroke="#ff00ff" stroke-width="2.6" fill="none"/><path d="M213.5 195.7C214.5 193.5 217.4 193.8 219.6 193.7C221.8 193.5 225 193.2 226.7 194.7C228.4 196.2 228.4 200.1 229.8 202.9C231.2 205.6 233.9 207.6 234.9 211C235.9 214.4 236.3 218.8 235.9 223.3C235.6 227.7 234.4 233.5 232.9 237.6C231.3 241.6 228.3 243.7 226.7 247.8C225.2 251.8 224.7 257.3 223.7 262C222.7 266.8 221.1 270.9 220.6 276.3C220.1 281.8 221.5 289.6 220.6 294.7C219.8 299.8 216.5 304 215.5 306.9C214.5 309.9 215.9 307.6 214.5 312.2C213.1 316.9 209.9 327.9 207.3 334.7C204.8 341.5 201.9 347.6 199.2 353.1C196.5 358.5 193.7 363.8 191 367.3C188.3 370.9 185.2 373.3 182.9 374.5C180.5 375.7 178.9 375.7 176.7 374.5C174.5 373.3 171.5 370.9 169.6 367.3C167.7 363.8 166.2 357.5 165.5 353.1C164.8 348.6 164.7 345.9 165.5 340.8C166.4 335.7 168.1 328.8 170.6 322.4C173.2 316.1 177.2 309.5 180.8 302.9C184.4 296.2 188.6 288.9 192 282.4C195.4 276 199.4 269.9 201.2 264.1C203.1 258.3 202.8 252.5 203.3 247.8C203.8 243 202.9 239.6 204.3 235.5C205.6 231.4 209.9 228 211.4 223.3C213 218.5 213.1 211.5 213.5 206.9C213.8 202.3 212.4 197.9 213.5 195.7Z" fill="none" stroke="#000" stroke-width="2.6" stroke-linejoin="round"/></g><rect x="58.5" y="74.5" width="232" height="466.2" fill="none" stroke="#222" stroke-width="1"/><path d="M132 540.7v-4M132 74.5v4M208.5 540.7v-4M208.5 74.5v4M285 540.7v-4M285 74.5v4M58.5 167h4M290.5 167h-4M58.5 242h4M290.5 242h-4M58.5 317.6h4M290.5 317.6h-4M58.5 393h4M290.5 393h-4M58.5 468h4M290.5 468h-4" stroke="#222" stroke-width="1" fill="none"/><path d="M454.2 74.9H291.4V357.6H454.2" fill="#fff" stroke="#222" stroke-width="1.2"/><ellipse cx="323.4" cy="90.4" rx="2" ry="2.6" fill="#0000ff" /><path d="M323.4 112.7v9.2M318.8 117.3h9.2M320.1 114l6.5 6.5M320.1 120.6l6.5 -6.5" stroke="#ff0000" stroke-width="1.2" fill="none"/><ellipse cx="323.4" cy="141.6" rx="2" ry="2.6" fill="#edb120" /><path d="M323.4 162.2v9.2M318.8 166.8h9.2M320.1 163.5l6.5 6.5M320.1 170.1l6.5 -6.5" stroke="#bf00bf" stroke-width="1.2" fill="none"/><ellipse cx="323.4" cy="191.8" rx="2" ry="2.6" fill="#00ffff" /><path d="M323.4 212.4v9.2M318.8 217h9.2M320.1 213.7l6.5 6.5M320.1 220.3l6.5 -6.5" stroke="#008000" stroke-width="1.2" fill="none"/><ellipse cx="323.4" cy="242.9" rx="2" ry="2.6" fill="#a2142f" /><path d="M323.4 263.5v9.2M318.8 268.1h9.2M320.1 264.8l6.5 6.5M320.1 271.4l6.5 -6.5" stroke="#4dbeee" stroke-width="1.2" fill="none"/><path d="M323.4 289v9.2M318.8 293.6h9.2" stroke="#ff0000" stroke-width="2.1" fill="none"/><path d="M323.4 314.9v9.2M318.8 319.5h9.2" stroke="#00ff00" stroke-width="2.1" fill="none"/><path d="M323.4 340.3v9.2M318.8 344.9h9.2" stroke="#ff00ff" stroke-width="2.1" fill="none"/><text x="346.3" y="95.6" font-size="17" textLength="94.7" lengthAdjust="spacingAndGlyphs" class="lt">simulated granite</text><text x="346.3" y="122.5" font-size="17" textLength="89" lengthAdjust="spacingAndGlyphs" class="lt">borehole granite</text><text x="346.3" y="146.8" font-size="17" textLength="91" lengthAdjust="spacingAndGlyphs" class="lt">simulated quartz</text><text x="346.3" y="172" font-size="17" textLength="86" lengthAdjust="spacingAndGlyphs" class="lt">borehole quartz</text><text x="346.3" y="197" font-size="17" textLength="86" lengthAdjust="spacingAndGlyphs" class="lt">simulated basic</text><text x="346.3" y="222.2" font-size="17" textLength="81" lengthAdjust="spacingAndGlyphs" class="lt">borehole basic</text><text x="346.3" y="248.1" font-size="17" textLength="86" lengthAdjust="spacingAndGlyphs" class="lt">simulated aplite</text><text x="346.3" y="273.3" font-size="17" textLength="82" lengthAdjust="spacingAndGlyphs" class="lt">borehole aplite</text><text x="346.3" y="298.8" font-size="17" textLength="91" lengthAdjust="spacingAndGlyphs" class="lt">blasthole granite</text><text x="346.3" y="324.7" font-size="17" textLength="88" lengthAdjust="spacingAndGlyphs" class="lt">blasthole quartz</text><text x="346.3" y="350.1" font-size="17" textLength="83" lengthAdjust="spacingAndGlyphs" class="lt">blasthole basic</text><path d="M527.4 394.8V411.8M527.4 449.8V460.8M536 394.8V408.8M536 449.8V457.8M544.7 394.8V408.8M544.7 443.8V490.3M553.3 389.8V408.8M553.3 442.8V490.3M561.9 383.8V410.8M561.9 439.8V490.3M570.5 378.3V415.8M570.5 439.8V490.3M579.2 377.8V490.3M587.8 78.3V86.8M587.8 388.8V490.3M596.4 78.3V93.3M596.4 395.8V480.8M605.1 78.3V107.8M605.1 393.8V475.8M613.7 78.3V130.3M613.7 382.8V469.8M622.3 78.3V290.3M622.3 370.3V469.8M631 78.3V269.8M631 371.8V469.8M631 477.8V490.3M639.6 78.3V263.8M639.6 373.8V408.3M639.6 414.3V475.8M639.6 482.8V490.3M648.2 78.3V259.8M648.2 371.8V400.3M648.2 430.3V475.8M656.9 78.3V258.8M656.9 371.8V400.3M656.9 430.3V484.8M665.5 78.3V264.8M665.5 370.3V393.8M665.5 433.3V490.3M674.1 78.3V264.8M674.1 366.8V368.8M674.1 392.3V393.8M674.1 433.3V490.3M682.7 78.3V187.3M682.7 191.3V264.8M682.7 391.3V393.8M682.7 433.3V490.3M691.4 78.3V177.3M691.4 203.8V269.8M691.4 343.8V356.8M691.4 426.8V490.3M700 78.3V170.8M700 207.8V303.8M700 325.8V352.8M700 426.8V490.3M708.6 78.3V141.3M708.6 205.3V303.8M708.6 325.8V351.8M708.6 426.8V490.3M717.3 78.3V136.8M717.3 203.8V352.8M717.3 393.8V419.8M717.3 425.8V490.3M725.9 78.3V136.8M725.9 205.3V356.8M725.9 393.8V490.3M734.5 78.3V136.8M734.5 208.8V362.8M734.5 386.3V490.3M743.1 78.3V139.3M743.1 205.3V367.8M743.1 372.8V490.3M751.8 78.3V141.3M751.8 169.3V170.8M751.8 243.3V322.8M751.8 349.8V383.8M751.8 415.8V490.3M760.4 78.3V146.3M760.4 155.8V170.8M760.4 243.3V381.3M760.4 420.8V490.3" stroke="#0000ff" stroke-width="4.1" fill="none" stroke-dasharray="0.1 1.7" stroke-linecap="round"/><path d="M527.4 411.8V449.8M527.4 460.8V490.3M536 408.8V449.8M536 457.8V490.3M544.7 408.8V443.8M553.3 408.8V442.8M561.9 410.8V439.8M570.5 415.8V439.8M579.2 368.8V377.8M587.8 363.8V388.8M596.4 357.8V395.8M605.1 345.3V393.8M613.7 316.3V382.8M622.3 290.3V370.3M631 269.8V371.8M639.6 263.8V373.8M639.6 408.3V414.3M648.2 259.8V371.8M648.2 400.3V430.3M656.9 258.8V371.8M656.9 400.3V430.3M665.5 264.8V303.8M665.5 325.8V370.3M665.5 393.8V433.3M674.1 264.8V303.8M674.1 325.8V366.8M674.1 393.8V433.3M682.7 187.3V191.3M682.7 264.8V303.8M682.7 325.8V359.3M682.7 393.8V433.3M691.4 177.3V203.8M691.4 269.8V303.8M691.4 325.8V343.8M691.4 393.8V426.8M700 170.8V207.8M700 393.8V426.8M708.6 141.3V205.3M708.6 396.3V426.8M717.3 136.8V203.8M717.3 419.8V425.8M725.9 136.8V205.3M725.9 391.3V393.8M734.5 136.8V208.8M743.1 139.3V205.3M751.8 141.3V169.3M760.4 146.3V155.8" stroke="#edb120" stroke-width="4.1" fill="none" stroke-dasharray="0.1 1.7" stroke-linecap="round"/><path d="M596.4 480.8V490.3M605.1 475.8V490.3M613.7 469.8V490.3M622.3 469.8V490.3M631 469.8V477.8M639.6 475.8V482.8M648.2 475.8V490.3M656.9 484.8V490.3M665.5 303.8V325.8M674.1 303.8V325.8M682.7 303.8V325.8M691.4 303.8V325.8M700 303.8V325.8M708.6 303.8V325.8M751.8 170.8V243.3M751.8 322.8V349.8M760.4 170.8V243.3" stroke="#00ffff" stroke-width="4.1" fill="none" stroke-dasharray="0.1 1.7" stroke-linecap="round"/><path d="M674.1 368.8V392.3M682.7 359.3V391.3M691.4 356.8V393.8M700 352.8V393.8M708.6 351.8V396.3M717.3 352.8V393.8M725.9 356.8V391.3M734.5 362.8V386.3M743.1 367.8V372.8M751.8 383.8V415.8M760.4 381.3V420.8" stroke="#a2142f" stroke-width="4.1" fill="none" stroke-dasharray="0.1 1.7" stroke-linecap="round"/><path d="M747.2 105v8M743.2 109h8M737.7 117.3v8M733.7 121.3h8M749.7 117.3v8M745.7 121.3h8M739.3 123.1v8M735.3 127.1h8M751.7 125.6v8M747.7 129.6h8M743.4 130.5v8M739.4 134.5h8M745.9 134.6v8M741.9 138.6h8M746.7 138.8v8M742.7 142.8h8M745.9 142.9v8M741.9 146.9h8M745.1 147v8M741.1 151h8M744.3 151.1v8M740.3 155.1h8M743.1 155.2v8M739.1 159.2h8M741.8 159.4v8M737.8 163.4h8M741 163.5v8M737 167.5h8M742.1 168.4v8M738.1 172.4h8M722.8 222v8M718.8 226h8M695.6 236v8M691.6 240h8M717.1 239.3v8M713.1 243.3h8M729.4 239.3v8M725.4 243.3h8M700.6 246.8v8M696.6 250.8h8M698.1 250.9v8M694.1 254.9h8M695.6 254.2v8M691.6 258.2h8M712.9 251.7v8M708.9 255.7h8M722 254.2v8M718 258.2h8M728.6 253.4v8M724.6 257.4h8M691.5 257.5v8M687.5 261.5h8M701.4 258.3v8M697.4 262.3h8M705.5 262.4v8M701.5 266.4h8M721.2 264.9v8M717.2 268.9h8M689 263.2v8M685 267.2h8M692.3 267.4v8M688.3 271.4h8M707.2 268.2v8M703.2 272.2h8M724.5 266.5v8M720.5 270.5h8M694 272.3v8M690 276.3h8M712.9 278.9v8M708.9 282.9h8M685.7 283v8M681.7 287h8M693.2 283v8M689.2 287h8M747.9 135.5v8M743.9 139.5h8M744.8 140.7v8M740.8 144.7h8M743.8 153.3v8M739.8 157.3h8M742.6 161.8v8M738.6 165.8h8M692.7 269.1v8M688.7 273.1h8M706 269.1v8M702 273.1h8M686.4 283.3v8M682.4 287.3h8M694.3 280.9v8M690.3 284.9h8M712.3 279.3v8M708.3 283.3h8M690.3 307.6v8M686.3 311.6h8M582 372.8v8M578 376.8h8M574.2 383.7v8M570.2 387.7h8M619.7 377.5v8M615.7 381.5h8M623.6 386.9v8M619.6 390.9h8M567.1 400.2v8M563.1 404.2h8M584.4 399.4v8M580.4 403.4h8M589.1 396.3v8M585.1 400.3h8M581.2 404.1v8M577.2 408.1h8M592.2 404.1v8M588.2 408.1h8M601.6 397.9v8M597.6 401.9h8M604.8 393.2v8M600.8 397.2h8M618.9 404.1v8M614.9 408.1h8M620.5 408.1v8M616.5 412.1h8M634.6 408.1v8M630.6 412.1h8M571 412.8v8M567 416.8h8M589.1 410.4v8M585.1 414.4h8M600.1 414.4v8M596.1 418.4h8M600.8 420.6v8M596.8 424.6h8M618.1 417.5v8M614.1 421.5h8M575.7 423v8M571.7 427h8M591.4 424.6v8M587.4 428.6h8M604.8 429.3v8M600.8 433.3h8M611.1 426.1v8M607.1 430.1h8M570.2 430.8v8M566.2 434.8h8M582 436.3v8M578 440.3h8M591.4 441v8M587.4 445h8M577.3 445.7v8M573.3 449.7h8M585.9 407.3v8M581.9 411.3h8M595.4 401v8M591.4 405h8M593.8 415.1v8M589.8 419.1h8M579.7 416.7v8M575.7 420.7h8M574.2 427.7v8M570.2 431.7h8M607.9 390v8M603.9 394h8M696.3 232.7v8M692.3 236.7h8M714.3 237.7v8M710.3 241.7h8M733.6 239.3v8M729.6 243.3h8M701.3 248.4v8M697.3 252.4h8M695.3 247.6v8M691.3 251.6h8M699.8 252.5v8M695.8 256.5h8M713.6 251.7v8M709.6 255.7h8M719.3 255.8v8M715.3 259.8h8M732.7 250v8M728.7 254h8M692.2 255.8v8M688.2 259.8h8M698.6 258.3v8M694.6 262.3h8M709.7 264.1v8M705.7 268.1h8M721.9 261.6v8M717.9 265.6h8M686.3 261.6v8M682.3 265.6h8M696.5 267.4v8M692.5 271.4h8M707.9 269.8v8M703.9 273.8h8M721.7 263.2v8M717.7 267.2h8M698.1 270.7v8M694.1 274.7h8M713.6 278.9v8M709.6 282.9h8M683 284.7v8M679 288.7h8M697.3 279.7v8M693.3 283.7h8M696.8 265.8v8M692.8 269.8h8M706.7 267.5v8M702.7 271.5h8M683.7 283.3v8M679.7 287.3h8M698.4 282.6v8M694.4 286.6h8M713 276v8M709 280h8M576.9 385.8v8M572.9 389.8h8M620.4 378.3v8M616.4 382.3h8M613.5 374.1v8M609.5 378.1h8M628.4 386.5v8M624.4 390.5h8M569.9 404.8v8M565.9 408.8h8M563.7 396.9v8M559.7 400.9h8M585.1 402.7v8M581.1 406.7h8M593.9 398.4v8M589.9 402.4h8M582.9 393v8M578.9 397h8M584 405v8M580 409h8M592.9 403.7v8M588.9 407.7h8M588.8 400.8v8M584.8 404.8h8M606.5 402.4v8M602.5 406.4h8M607.5 396.5v8M603.5 400.5h8M598.6 389.8v8M594.6 393.8h8M619.6 406.2v8M615.6 410.2h8M625.3 408.9v8M621.3 412.9h8M617 404.8v8M613 408.8h8M637.4 407.7v8M633.4 411.7h8M571.7 417.3v8M567.7 421.3h8M564.8 409.5v8M560.8 413.5h8M593.9 413.7v8M589.9 417.7h8M602.8 416.4v8M598.8 420.4h8M596.6 411v8M592.6 415h8M601.5 421.5v8M597.5 425.5h8M622.9 417.1v8M618.9 421.1h8M611.9 414.2v8M607.9 418.2h8M578.5 427.5v8M574.5 431.5h8M592.1 427.9v8M588.1 431.9h8M588 421.2v8M584 425.2h8M609.6 431.3v8M605.6 435.3h8M613.8 427v8M609.8 431h8M604.9 422.8v8M600.9 426.8h8M570.9 430.4v8M566.9 434.4h8M586.8 440.9v8M582.8 444.9h8M578.6 433v8M574.6 437h8M594.2 444.4v8M590.2 448.4h8M578 447.8v8M574 451.8h8M571.1 442.4v8M567.1 446.4h8M590.8 408.1v8M586.8 412.1h8M598.1 400.6v8M594.1 404.6h8M591.9 397.7v8M587.9 401.7h8M594.5 419.7v8M590.5 423.7h8M584.5 420v8M580.5 424h8M573.5 413.4v8M569.5 417.4h8M576.9 429.8v8M572.9 433.8h8M608.6 390.8v8M604.6 394.8h8M604.5 386.7v8M600.5 390.7h8" stroke="#ff0000" stroke-width="1.7" fill="none"/><path d="M739.8 174.2v8M735.8 178.2h8M739 178.3v8M735 182.3h8M738.2 182.5v8M734.2 186.5h8M737.2 186.6v8M733.2 190.6h8M736 190.7v8M732 194.7h8M734.9 194.8v8M730.9 198.8h8M732.7 198.9v8M728.7 202.9h8M730.3 202.2v8M726.3 206.2h8M727.8 205.5v8M723.8 209.5h8M725.3 208.8v8M721.3 212.8h8M714.6 217.9v8M710.6 221.9h8M713.8 222.9v8M709.8 226.9h8M722 226.1v8M718 230.1h8M708.8 229.4v8M704.8 233.4h8M705.5 234.4v8M701.5 238.4h8M719.5 231.9v8M715.5 235.9h8M711.3 240.2v8M707.3 244.2h8M662.7 272.3v8M658.7 276.3h8M669.2 278.9v8M665.2 282.9h8M665.1 285.5v8M661.1 289.5h8M672.5 275.6v8M668.5 279.6h8M675.8 270.7v8M671.8 274.7h8M739.3 176.4v8M735.3 180.4h8M737.7 184.4v8M733.7 188.4h8M736.5 188.6v8M732.5 192.6h8M733.9 196.8v8M729.9 200.8h8M731.4 200.6v8M727.4 204.6h8M728.9 203.9v8M724.9 207.9h8M662.9 273.1v8M658.9 277.1h8M668.4 278.6v8M664.4 282.6h8M664.4 285.6v8M660.4 289.6h8M670.7 275.4v8M666.7 279.4h8M673.1 299v8M669.1 303h8M655.8 298.2v8M651.8 302.2h8M653.4 302.9v8M649.4 306.9h8M642.4 304.5v8M638.4 308.5h8M638.5 308.4v8M634.5 312.4h8M651.9 311.5v8M647.9 315.5h8M640.9 313.1v8M636.9 317.1h8M649.5 317v8M645.5 321h8M644 320.9v8M640 324.9h8M645.6 326.4v8M641.6 330.4h8M628.3 326.4v8M624.3 330.4h8M624.4 330.4v8M620.4 334.4h8M642.4 333.5v8M638.4 337.5h8M639.3 339.8v8M635.3 343.8h8M635.4 344.5v8M631.4 348.5h8M629.9 347.6v8M625.9 351.6h8M626.8 351.6v8M622.8 355.6h8M622.8 353.9v8M618.8 357.9h8M614.2 344.5v8M610.2 348.5h8M607.9 349.2v8M603.9 353.2h8M599.3 350.8v8M595.3 354.8h8M593 357.1v8M589 361.1h8M606.3 358.6v8M602.3 362.6h8M617.3 359.4v8M613.3 363.4h8M620.5 357.1v8M616.5 361.1h8M610.3 363.3v8M606.3 367.3h8M604.8 369.6v8M600.8 373.6h8M610.3 368.8v8M606.3 372.8h8M602.4 375.9v8M598.4 379.9h8M604 381.4v8M600 385.4h8M596.9 386.9v8M592.9 390.9h8M593 391.6v8M589 395.6h8M668.4 341.4v8M664.4 345.4h8M673.1 348.4v8M669.1 352.4h8M652.7 358.6v8M648.7 362.6h8M663.6 357.8v8M659.6 361.8h8M657.4 378.2v8M653.4 382.2h8M656.6 390.8v8M652.6 394.8h8M548.3 418.3v8M544.3 422.3h8M534.1 423.8v8M530.1 427.8h8M647.2 322.5v8M643.2 326.5h8M637 335.9v8M633 339.9h8M633 341.4v8M629 345.4h8M615.8 353.9v8M611.8 357.9h8M612.6 366.5v8M608.6 370.5h8M607.1 374.3v8M603.1 378.3h8M600.1 382.2v8M596.1 386.2h8M675.4 272.7v8M671.4 276.7h8M668.6 281.8v8M664.6 285.8h8M661 288.4v8M657 292.4h8M673.2 273.2v8M669.2 277.2h8M664.2 281.5v8M660.2 285.5h8M670.6 279.4v8M666.6 283.4h8M677.9 294.4v8M673.9 298.4h8M662 292.8v8M658 296.8h8M651.7 301.1v8M647.7 305.1h8M656.9 296.7v8M652.9 300.7h8M647.3 300.7v8M643.3 304.7h8M638.3 307.4v8M634.3 311.4h8M644.7 303.8v8M640.7 307.8h8M655.3 306.1v8M651.3 310.1h8M647.7 314.4v8M643.7 318.4h8M645.7 306.9v8M641.7 310.9h8M655.7 313.3v8M651.7 317.3h8M645.4 319.9v8M641.4 323.9h8M647.5 316.4v8M643.5 320.4h8M650.4 321.1v8M646.4 325.1h8M641.5 329.3v8M637.5 333.3h8M634.5 320.2v8M630.5 324.2h8M627.8 326.6v8M623.8 330.6h8M620.3 333.3v8M616.3 337.3h8M647.3 328.9v8M643.3 332.9h8M645.5 334.4v8M641.5 338.4h8M635.2 342.7v8M631.2 346.7h8M638.8 338.3v8M634.8 342.3h8M634.7 343.9v8M630.7 347.9h8M625.8 350.5v8M621.8 354.5h8M632.9 347v8M628.9 351h8M626.3 348.5v8M622.3 352.5h8M618.7 356.8v8M614.7 360.8h8M619 338.3v8M615 342.3h8M614.1 345.5v8M610.1 349.5h8M603.8 352.1v8M599.8 356.1h8M602.7 346.2v8M598.7 350.2h8M597.8 351.7v8M593.8 355.7h8M588.9 359.9v8M584.9 363.9h8M612.5 352.4v8M608.5 356.4h8M620.8 355.7v8M616.8 359.7h8M613.2 362.3v8M609.2 366.3h8M625.3 352.5v8M621.3 356.5h8M616.5 357.9v8M612.5 361.9h8M606.1 366.2v8M602.1 370.2h8M608.2 363.4v8M604.2 367.4h8M615.1 365.1v8M611.1 369.1h8M606.1 371.7v8M602.1 375.7h8M608.6 371.3v8M604.6 375.3h8M607.4 376v8M603.4 380h8M599.9 384.3v8M595.9 388.3h8M601.7 380.7v8M597.7 384.7h8M671.8 336.8v8M667.8 340.8h8M677.9 343v8M673.9 347h8M668.9 351.3v8M664.9 355.3h8M658.9 352.4v8M654.9 356.4h8M667.1 354.1v8M663.1 358.1h8M659.5 360.7v8M655.5 364.7h8M662.2 373.7v8M658.2 377.7h8M653.4 318v8M649.4 322h8M640.4 330.5v8M636.4 334.5h8M632.8 338.8v8M628.8 342.8h8M637.9 335.1v8M633.9 339.1h8M622 350.2v8M618 354.2h8M611.6 356.8v8M607.6 360.8h8M616.1 361.9v8M612.1 365.9h8M611.9 368.9v8M607.9 372.9h8M603 377.2v8M599 381.2h8M606.3 376v8M602.3 380h8" stroke="#00ff00" stroke-width="1.7" fill="none"/><path d="M680.1 342.1v8M676.1 346.1h8M687.2 346.1v8M683.2 350.1h8M683.3 353.9v8M679.3 357.9h8" stroke="#ff00ff" stroke-width="1.7" fill="none"/><rect x="523.7" y="76.8" width="241" height="414" fill="none" stroke="#222" stroke-width="1"/><path d="M558.1 490.8v-3M558.1 76.8v3M592.6 490.8v-3M592.6 76.8v3M627 490.8v-3M627 76.8v3M661.4 490.8v-3M661.4 76.8v3M695.9 490.8v-3M695.9 76.8v3M730.3 490.8v-3M730.3 76.8v3M523.7 118.2h3M764.7 118.2h-3M523.7 159.6h3M764.7 159.6h-3M523.7 201h3M764.7 201h-3M523.7 242.4h3M764.7 242.4h-3M523.7 283.8h3M764.7 283.8h-3M523.7 325.2h3M764.7 325.2h-3M523.7 366.6h3M764.7 366.6h-3M523.7 408h3M764.7 408h-3M523.7 449.4h3M764.7 449.4h-3" stroke="#222" stroke-width="1" fill="none"/><ellipse cx="745" cy="151.3" rx="19.7" ry="21" fill="none" stroke="#12a150" stroke-width="2.5"/><ellipse cx="714.1" cy="231.5" rx="13.6" ry="21" fill="none" stroke="#4048c8" stroke-width="2.5"/><ellipse cx="747.4" cy="222.8" rx="16" ry="18.5" fill="none" stroke="#00ffff" stroke-width="2.5"/><ellipse cx="690.7" cy="283.3" rx="14.3" ry="17.3" fill="none" stroke="#12a150" stroke-width="2.5"/><ellipse cx="693.2" cy="314.1" rx="24.7" ry="11.1" fill="none" stroke="#00ffff" stroke-width="2.5"/><ellipse cx="621.6" cy="333.9" rx="17.3" ry="12.3" fill="none" stroke="#4048c8" stroke-width="2.5"/><ellipse cx="686.5" cy="344.4" rx="12.3" ry="14.8" fill="none" stroke="#12a150" stroke-width="2.5"/><ellipse cx="657.4" cy="386.4" rx="14.8" ry="14.3" fill="none" stroke="#4048c8" stroke-width="2.5"/><ellipse cx="571" cy="425.8" rx="11.8" ry="14.8" fill="none" stroke="#12a150" stroke-width="2.5"/><rect x="766.7" y="76.8" width="167" height="159.6" fill="#fff" stroke="#222" stroke-width="1"/><ellipse cx="799.7" cy="90.3" rx="2" ry="2.6" fill="#0000ff" /><ellipse cx="799.7" cy="113" rx="2" ry="2.6" fill="#edb120" /><ellipse cx="799.7" cy="135.3" rx="2" ry="2.6" fill="#00ffff" /><ellipse cx="799.7" cy="157.5" rx="2" ry="2.6" fill="#a2142f" /><path d="M799.7 175.8v9.2M795.1 180.4h9.2" stroke="#ff0000" stroke-width="2.1" fill="none"/><path d="M799.7 197.3v9.2M795.1 201.9h9.2" stroke="#00ff00" stroke-width="2.1" fill="none"/><path d="M799.7 219.5v9.2M795.1 224.1h9.2" stroke="#ff00ff" stroke-width="2.1" fill="none"/><text x="822" y="95.5" font-size="17" textLength="99.4" lengthAdjust="spacingAndGlyphs" class="lt">simulated granite</text><text x="822" y="118.2" font-size="17" textLength="95.2" lengthAdjust="spacingAndGlyphs" class="lt">simulated quartz</text><text x="822" y="140.5" font-size="17" textLength="89.6" lengthAdjust="spacingAndGlyphs" class="lt">simulated basic</text><text x="822" y="162.7" font-size="17" textLength="90.8" lengthAdjust="spacingAndGlyphs" class="lt">simulated aplite</text><text x="822" y="185.6" font-size="17" textLength="95.7" lengthAdjust="spacingAndGlyphs" class="lt">blasthole granite</text><text x="822" y="207.1" font-size="17" textLength="92" lengthAdjust="spacingAndGlyphs" class="lt">blasthole quartz</text><text x="822" y="229.3" font-size="17" textLength="86.6" lengthAdjust="spacingAndGlyphs" class="lt">blasthole basic</text><path d="M185.1 324.2C192.7 328.8 212.8 344.6 230.4 352C248 359.3 269 365 290.8 368.1C312.7 371.2 337.8 371.2 361.3 370.5C384.8 369.8 410 367.4 431.8 364C453.7 360.7 477.5 354.4 492.3 350.4C507 346.3 515.8 341.3 520.5 339.5L543.6 323.8L552.1 339.7L532.5 343.7C525.8 346.2 509 354.1 492.3 358.8C475.5 363.5 453.7 368.8 431.8 371.7C410 374.6 384.8 375.8 361.3 376.1C337.8 376.5 312.7 376.5 290.8 373.7C269 370.9 245.5 366 230.4 359.4C215.3 352.8 207.6 339.4 200.2 334.2C192.8 329 188.5 329.2 186.1 328.2Z" fill="#ff0000"/><text x="4.4" y="34.2" font-size="40" class="sf">(a)</text><text x="194" y="36.7" font-size="20.6" class="sf" text-anchor="middle">(i)</text><text x="655.4" y="47.2" font-size="22" class="sf" text-anchor="middle">(ii)</text><text x="51" y="81.3" font-size="18" text-anchor="end" textLength="27" lengthAdjust="spacingAndGlyphs" class="lt">7300</text><text x="51" y="173.8" font-size="18" text-anchor="end" textLength="27" lengthAdjust="spacingAndGlyphs" class="lt">6800</text><text x="51" y="248.8" font-size="18" text-anchor="end" textLength="27" lengthAdjust="spacingAndGlyphs" class="lt">6400</text><text x="51" y="324.4" font-size="18" text-anchor="end" textLength="27" lengthAdjust="spacingAndGlyphs" class="lt">6000</text><text x="51" y="399.8" font-size="18" text-anchor="end" textLength="27" lengthAdjust="spacingAndGlyphs" class="lt">5600</text><text x="51" y="474.8" font-size="18" text-anchor="end" textLength="27" lengthAdjust="spacingAndGlyphs" class="lt">5200</text><text x="51" y="549.8" font-size="18" text-anchor="end" textLength="27" lengthAdjust="spacingAndGlyphs" class="lt">4800</text><text x="57" y="570.3" font-size="18" text-anchor="middle" textLength="27.5" lengthAdjust="spacingAndGlyphs" class="lt">6000</text><text x="133.1" y="570.3" font-size="18" text-anchor="middle" textLength="27.5" lengthAdjust="spacingAndGlyphs" class="lt">6500</text><text x="207.6" y="570.3" font-size="18" text-anchor="middle" textLength="27.5" lengthAdjust="spacingAndGlyphs" class="lt">7000</text><text x="283.5" y="570.3" font-size="18" text-anchor="middle" textLength="27.5" lengthAdjust="spacingAndGlyphs" class="lt">7500</text><text x="174.5" y="601.5" font-size="21.6" text-anchor="middle" textLength="75.8" lengthAdjust="spacingAndGlyphs" class="lt">Easting (m)</text><text x="16" y="293.5" font-size="15" font-weight="bold" text-anchor="middle" textLength="107" lengthAdjust="spacingAndGlyphs" transform="rotate(-90 16 293.5)">Northing (m)</text><text x="518" y="82.8" font-size="17" text-anchor="end" textLength="28.5" lengthAdjust="spacingAndGlyphs" class="lt">6700</text><text x="518" y="124.2" font-size="17" text-anchor="end" textLength="28.5" lengthAdjust="spacingAndGlyphs" class="lt">6600</text><text x="518" y="165.6" font-size="17" text-anchor="end" textLength="28.5" lengthAdjust="spacingAndGlyphs" class="lt">6500</text><text x="518" y="207" font-size="17" text-anchor="end" textLength="28.5" lengthAdjust="spacingAndGlyphs" class="lt">6400</text><text x="518" y="248.4" font-size="17" text-anchor="end" textLength="28.5" lengthAdjust="spacingAndGlyphs" class="lt">6300</text><text x="518" y="289.8" font-size="17" text-anchor="end" textLength="28.5" lengthAdjust="spacingAndGlyphs" class="lt">6200</text><text x="518" y="331.2" font-size="17" text-anchor="end" textLength="28.5" lengthAdjust="spacingAndGlyphs" class="lt">6100</text><text x="518" y="372.6" font-size="17" text-anchor="end" textLength="28.5" lengthAdjust="spacingAndGlyphs" class="lt">6000</text><text x="518" y="414" font-size="17" text-anchor="end" textLength="28.5" lengthAdjust="spacingAndGlyphs" class="lt">5900</text><text x="518" y="455.4" font-size="17" text-anchor="end" textLength="28.5" lengthAdjust="spacingAndGlyphs" class="lt">5800</text><text x="518" y="496.8" font-size="17" text-anchor="end" textLength="28.5" lengthAdjust="spacingAndGlyphs" class="lt">5700</text><text x="523.7" y="515" font-size="17" text-anchor="middle" textLength="28.5" lengthAdjust="spacingAndGlyphs" class="lt">6750</text><text x="558.1" y="515" font-size="17" text-anchor="middle" textLength="28.5" lengthAdjust="spacingAndGlyphs" class="lt">6800</text><text x="592.6" y="515" font-size="17" text-anchor="middle" textLength="28.5" lengthAdjust="spacingAndGlyphs" class="lt">6850</text><text x="627" y="515" font-size="17" text-anchor="middle" textLength="28.5" lengthAdjust="spacingAndGlyphs" class="lt">6900</text><text x="661.4" y="515" font-size="17" text-anchor="middle" textLength="28.5" lengthAdjust="spacingAndGlyphs" class="lt">6950</text><text x="695.9" y="515" font-size="17" text-anchor="middle" textLength="28.5" lengthAdjust="spacingAndGlyphs" class="lt">7000</text><text x="730.3" y="515" font-size="17" text-anchor="middle" textLength="28.5" lengthAdjust="spacingAndGlyphs" class="lt">7050</text><text x="764.7" y="515" font-size="17" text-anchor="middle" textLength="28.5" lengthAdjust="spacingAndGlyphs" class="lt">7100</text><text x="644" y="542" font-size="19" text-anchor="middle" textLength="78" lengthAdjust="spacingAndGlyphs" class="lt">Easting (m)</text><text x="483" y="282.5" font-size="15" font-weight="bold" text-anchor="middle" textLength="117" lengthAdjust="spacingAndGlyphs" transform="rotate(-90 483 282.5)">Northing (m)</text><text x="327.3" y="419.2" font-size="19" class="sf">Zoomed</text><text x="452.9" y="419.2" font-size="19" class="sf" text-anchor="end">view</text><text x="327.3" y="453.1" font-size="19" class="sf">of</text><text x="452.9" y="453.1" font-size="19" class="sf" text-anchor="end">validation</text><text x="327.3" y="488" font-size="19" class="sf">zone</text><text x="422.3" y="588.4" font-size="22" class="sf" textLength="157" lengthAdjust="spacingAndGlyphs">Misclassification</text><text x="420.3" y="625.9" font-size="22" class="sf">of quartz</text><text x="601.8" y="588.4" font-size="22" class="sf" textLength="157" lengthAdjust="spacingAndGlyphs">Misclassification</text><text x="601.8" y="625.9" font-size="22" class="sf">of granite</text><text x="777.6" y="588.4" font-size="22" class="sf" textLength="157" lengthAdjust="spacingAndGlyphs">Misclassification</text><text x="771.3" y="625.9" font-size="22" class="sf">of basic</text><line x1="732.6" y1="150" x2="498.5" y2="520.8" stroke="#12a150" stroke-width="4.3"/><polygon points="490.5,533.5 493.4,515.3 505.7,523" fill="#12a150" /><line x1="698.8" y1="292" x2="508.1" y2="521.5" stroke="#12a150" stroke-width="4.3"/><polygon points="498.5,533 503.8,515.3 514.9,524.6" fill="#12a150" /><line x1="604.3" y1="440.6" x2="535.8" y2="512.4" stroke="#12a150" stroke-width="4.3"/><polygon points="525.4,523.3 531.9,506 542.4,516" fill="#12a150" /><line x1="624.1" y1="362.9" x2="645.2" y2="542.9" stroke="#1470c0" stroke-width="4.3"/><polygon points="647,557.8 637.8,541.8 652.2,540.1" fill="#1470c0" /><line x1="677.1" y1="409.8" x2="660.5" y2="542.9" stroke="#1470c0" stroke-width="4.3"/><polygon points="658.6,557.8 653.5,540 667.9,541.8" fill="#1470c0" /><line x1="737.6" y1="258.6" x2="663.7" y2="543.3" stroke="#1470c0" stroke-width="4.3"/><polygon points="659.9,557.8 657.2,539.5 671.2,543.2" fill="#1470c0" /><line x1="693.2" y1="345.6" x2="763.4" y2="543.7" stroke="#12a8ea" stroke-width="4.3"/><polygon points="768.4,557.8 755.9,544.2 769.6,539.4" fill="#12a8ea" /><line x1="757.3" y1="258.6" x2="767.8" y2="542.8" stroke="#12a8ea" stroke-width="4.3"/><polygon points="768.4,557.8 760.5,541.1 775,540.5" fill="#12a8ea" />
<clipPath id="cb"><rect x="1088.7" y="75.5" width="210.7" height="386.7"/></clipPath><g clip-path="url(#cb)"><polygon points="1155.3,87.2 1179.1,87.2 1191,96.5 1200.2,95.6 1207.5,94.8 1216.6,91.4 1227.6,99.9 1243.1,87.2 1270.6,87.2 1292.5,124.4 1292.5,251.4 1286.1,262.5 1280.6,287.9 1268.7,304.9 1268.7,352.3 1262.3,347.2 1247.7,337.9 1233.1,349.7 1226.7,349.7 1226.7,357.3 1218.4,377.7 1218.4,387.8 1196.5,413.2 1181.9,413.2 1177.3,414.9 1161.7,447.9 1128.8,447.9 1111.4,431.8 1089.5,403 1089.5,394.6 1106,391.2 1106.9,381 1112.4,357.3 1112.4,346.3 1132.5,343.8 1150.8,322.6 1171.8,315 1177.3,309.9 1177.3,287.9 1185.5,287.9 1191,279.5 1200.2,266.6 1209.3,249.7 1215.7,239.5 1207.5,232.8 1207.5,195.5 1203.8,178.6 1176.4,142.2 1162.7,154 1149.9,154 1141.6,146.4 1128.8,146.4 1117.8,144.7 1117.8,121" fill="#0000ff" /><path d="M1161.7 85.3v8.8M1157.3 89.7h8.8M1158.6 86.6l6.2 6.2M1158.6 92.8l6.2 -6.2M1165 105.6v8.8M1160.6 110h8.8M1161.9 106.9l6.2 6.2M1161.9 113.1l6.2 -6.2M1160.8 114.1v8.8M1156.4 118.5h8.8M1157.7 115.4l6.2 6.2M1157.7 121.6l6.2 -6.2M1129.7 118.7v8.8M1125.3 123.1h8.8M1126.6 119.9l6.2 6.2M1126.6 126.2l6.2 -6.2M1143.1 118.7v8.8M1138.7 123.1h8.8M1140 119.9l6.2 6.2M1140 126.2l6.2 -6.2M1117.8 127.6v8.8M1113.4 132h8.8M1114.7 128.9l6.2 6.2M1114.7 135.1l6.2 -6.2M1155 124.8v8.8M1150.6 129.2h8.8M1151.9 126l6.2 6.2M1151.9 132.3l6.2 -6.2M1229.8 103.4v8.8M1225.4 107.8h8.8M1226.7 104.7l6.2 6.2M1226.7 110.9l6.2 -6.2M1231.6 113.6v8.8M1227.2 118h8.8M1228.5 114.9l6.2 6.2M1228.5 121.1l6.2 -6.2M1218.4 117.5v8.8M1214 121.9h8.8M1215.3 118.8l6.2 6.2M1215.3 125l6.2 -6.2M1199.6 123.4v8.8M1195.2 127.8h8.8M1196.5 124.7l6.2 6.2M1196.5 130.9l6.2 -6.2M1190.6 133.6v8.8M1186.2 138h8.8M1187.5 134.8l6.2 6.2M1187.5 141.1l6.2 -6.2M1216.1 131v8.8M1211.7 135.4h8.8M1213 132.3l6.2 6.2M1213 138.5l6.2 -6.2M1207.8 142v8.8M1203.4 146.4h8.8M1204.7 143.3l6.2 6.2M1204.7 149.5l6.2 -6.2M1211.1 147.4v8.8M1206.7 151.8h8.8M1208 148.7l6.2 6.2M1208 154.9l6.2 -6.2M1229.8 147.1v8.8M1225.4 151.5h8.8M1226.7 148.4l6.2 6.2M1226.7 154.6l6.2 -6.2M1250.5 145.4v8.8M1246.1 149.8h8.8M1247.3 146.7l6.2 6.2M1247.3 152.9l6.2 -6.2M1266.9 102.2v8.8M1262.5 106.6h8.8M1263.8 103.5l6.2 6.2M1263.8 109.8l6.2 -6.2M1283.9 103.4v8.8M1279.5 107.8h8.8M1280.8 104.7l6.2 6.2M1280.8 110.9l6.2 -6.2M1270.2 135.2v8.8M1265.8 139.6h8.8M1267.1 136.5l6.2 6.2M1267.1 142.8l6.2 -6.2M1258.7 156.7v8.8M1254.3 161.1h8.8M1255.6 158l6.2 6.2M1255.6 164.3l6.2 -6.2M1278.4 151.3v8.8M1274 155.7h8.8M1275.3 152.6l6.2 6.2M1275.3 158.8l6.2 -6.2M1230.9 162.7v8.8M1226.5 167.1h8.8M1227.8 164l6.2 6.2M1227.8 170.2l6.2 -6.2M1215.2 166.6v8.8M1210.8 171h8.8M1212 167.9l6.2 6.2M1212 174.1l6.2 -6.2M1215.2 175.9v8.8M1210.8 180.3h8.8M1212 177.2l6.2 6.2M1212 183.4l6.2 -6.2M1258.7 177.1v8.8M1254.3 181.5h8.8M1255.6 178.3l6.2 6.2M1255.6 184.6l6.2 -6.2M1290.7 175.9v8.8M1286.3 180.3h8.8M1287.6 177.2l6.2 6.2M1287.6 183.4l6.2 -6.2M1207.8 192.5v8.8M1203.4 196.9h8.8M1204.7 193.8l6.2 6.2M1204.7 200l6.2 -6.2M1217.5 192.5v8.8M1213.1 196.9h8.8M1214.4 193.8l6.2 6.2M1214.4 200l6.2 -6.2M1244.1 192.8v8.8M1239.7 197.2h8.8M1240.9 194.1l6.2 6.2M1240.9 200.3l6.2 -6.2M1263.3 192.5v8.8M1258.9 196.9h8.8M1260.1 193.8l6.2 6.2M1260.1 200l6.2 -6.2M1284.7 191.1v8.8M1280.3 195.5h8.8M1281.5 192.4l6.2 6.2M1281.5 198.6l6.2 -6.2M1209.3 206.7v8.8M1204.9 211.1h8.8M1206.2 208l6.2 6.2M1206.2 214.2l6.2 -6.2M1270.2 206.7v8.8M1265.8 211.1h8.8M1267.1 208l6.2 6.2M1267.1 214.2l6.2 -6.2M1277.9 206.7v8.8M1273.5 211.1h8.8M1274.8 208l6.2 6.2M1274.8 214.2l6.2 -6.2M1282.5 206.7v8.8M1278.1 211.1h8.8M1279.4 208l6.2 6.2M1279.4 214.2l6.2 -6.2M1268.7 219v8.8M1264.3 223.4h8.8M1265.6 220.3l6.2 6.2M1265.6 226.6l6.2 -6.2M1283.9 217.9v8.8M1279.5 222.3h8.8M1280.8 219.1l6.2 6.2M1280.8 225.4l6.2 -6.2M1252.3 221.9v8.8M1247.9 226.3h8.8M1249.2 223.2l6.2 6.2M1249.2 229.4l6.2 -6.2M1206.9 227.8v8.8M1202.5 232.2h8.8M1203.8 229.1l6.2 6.2M1203.8 235.4l6.2 -6.2M1238.6 177.6v8.8M1234.2 182h8.8M1235.5 178.9l6.2 6.2M1235.5 185.1l6.2 -6.2M1258.7 270.8v8.8M1254.3 275.2h8.8M1255.6 272.1l6.2 6.2M1255.6 278.4l6.2 -6.2M1269.3 275.9v8.8M1264.9 280.3h8.8M1266.2 277.2l6.2 6.2M1266.2 283.4l6.2 -6.2M1248.1 291.2v8.8M1243.7 295.6h8.8M1245 292.4l6.2 6.2M1245 298.7l6.2 -6.2M1234.9 310.6v8.8M1230.5 315h8.8M1231.8 311.9l6.2 6.2M1231.8 318.1l6.2 -6.2M1213.9 306.4v8.8M1209.5 310.8h8.8M1210.8 307.7l6.2 6.2M1210.8 313.9l6.2 -6.2M1227.6 303v8.8M1223.2 307.4h8.8M1224.5 304.3l6.2 6.2M1224.5 310.5l6.2 -6.2M1179.1 303.9v8.8M1174.7 308.3h8.8M1176 305.1l6.2 6.2M1176 311.4l6.2 -6.2M1184.1 286.1v8.8M1179.7 290.5h8.8M1180.9 287.4l6.2 6.2M1180.9 293.6l6.2 -6.2M1151.7 318.2v8.8M1147.3 322.6h8.8M1148.6 319.5l6.2 6.2M1148.6 325.8l6.2 -6.2M1162.1 316.5v8.8M1157.7 320.9h8.8M1159 317.8l6.2 6.2M1159 324.1l6.2 -6.2M1145.8 327.6v8.8M1141.4 332h8.8M1142.7 328.8l6.2 6.2M1142.7 335.1l6.2 -6.2M1184.1 328.4v8.8M1179.7 332.8h8.8M1180.9 329.7l6.2 6.2M1180.9 335.9l6.2 -6.2M1195 326.7v8.8M1190.6 331.1h8.8M1191.9 328l6.2 6.2M1191.9 334.2l6.2 -6.2M1229.4 327.6v8.8M1225 332h8.8M1226.3 328.8l6.2 6.2M1226.3 335.1l6.2 -6.2M1234.9 335.2v8.8M1230.5 339.6h8.8M1231.8 336.5l6.2 6.2M1231.8 342.7l6.2 -6.2M1170 340.2v8.8M1165.6 344.6h8.8M1166.9 341.5l6.2 6.2M1166.9 347.8l6.2 -6.2M1130.3 346.5v8.8M1125.9 350.9h8.8M1127.2 347.8l6.2 6.2M1127.2 354l6.2 -6.2M1145.3 347.9v8.8M1140.9 352.3h8.8M1142.2 349.2l6.2 6.2M1142.2 355.4l6.2 -6.2M1163 348.7v8.8M1158.6 353.1h8.8M1159.9 350l6.2 6.2M1159.9 356.2l6.2 -6.2M1177.3 350.4v8.8M1172.9 354.8h8.8M1174.2 351.7l6.2 6.2M1174.2 357.9l6.2 -6.2M1186.4 344.5v8.8M1182 348.9h8.8M1183.3 345.8l6.2 6.2M1183.3 352l6.2 -6.2M1118.2 354.3v8.8M1113.8 358.7h8.8M1115.1 355.6l6.2 6.2M1115.1 361.8l6.2 -6.2M1137.6 359.4v8.8M1133.2 363.8h8.8M1134.5 360.7l6.2 6.2M1134.5 366.9l6.2 -6.2M1153.1 359.4v8.8M1148.7 363.8h8.8M1150 360.7l6.2 6.2M1150 366.9l6.2 -6.2M1196.5 354.6v8.8M1192.1 359h8.8M1193.4 355.9l6.2 6.2M1193.4 362.1l6.2 -6.2M1200.2 358v8.8M1195.8 362.4h8.8M1197 359.3l6.2 6.2M1197 365.5l6.2 -6.2M1188.8 363.1v8.8M1184.4 367.5h8.8M1185.7 364.4l6.2 6.2M1185.7 370.6l6.2 -6.2M1127 368.2v8.8M1122.6 372.6h8.8M1123.9 369.5l6.2 6.2M1123.9 375.7l6.2 -6.2M1108.7 366.5v8.8M1104.3 370.9h8.8M1105.6 367.8l6.2 6.2M1105.6 374l6.2 -6.2M1133 378.3v8.8M1128.6 382.7h8.8M1129.9 379.6l6.2 6.2M1129.9 385.8l6.2 -6.2M1168.5 377.5v8.8M1164.1 381.9h8.8M1165.4 378.8l6.2 6.2M1165.4 385l6.2 -6.2M1188.3 375.8v8.8M1183.9 380.2h8.8M1185.2 377.1l6.2 6.2M1185.2 383.3l6.2 -6.2M1152.6 382.6v8.8M1148.2 387h8.8M1149.5 383.9l6.2 6.2M1149.5 390.1l6.2 -6.2M1105.6 387.6v8.8M1101.2 392h8.8M1102.5 388.9l6.2 6.2M1102.5 395.2l6.2 -6.2M1120.6 386v8.8M1116.2 390.4h8.8M1117.5 387.2l6.2 6.2M1117.5 393.5l6.2 -6.2M1091.9 394.1v8.8M1087.5 398.5h8.8M1088.8 395.4l6.2 6.2M1088.8 401.6l6.2 -6.2M1141.3 391v8.8M1136.9 395.4h8.8M1138.1 392.3l6.2 6.2M1138.1 398.5l6.2 -6.2M1210.2 386v8.8M1205.8 390.4h8.8M1207.1 387.2l6.2 6.2M1207.1 393.5l6.2 -6.2M1198.9 389.8v8.8M1194.5 394.2h8.8M1195.8 391.1l6.2 6.2M1195.8 397.4l6.2 -6.2M1099.6 402.9v8.8M1095.2 407.3h8.8M1096.4 404.2l6.2 6.2M1096.4 410.4l6.2 -6.2M1129.2 397.8v8.8M1124.8 402.2h8.8M1126.1 399.1l6.2 6.2M1126.1 405.3l6.2 -6.2M1148.6 402v8.8M1144.2 406.4h8.8M1145.5 403.3l6.2 6.2M1145.5 409.5l6.2 -6.2M1163 398.6v8.8M1158.6 403h8.8M1159.9 399.9l6.2 6.2M1159.9 406.2l6.2 -6.2M1181.3 396.1v8.8M1176.9 400.5h8.8M1178.2 397.4l6.2 6.2M1178.2 403.6l6.2 -6.2M1188.3 405.4v8.8M1183.9 409.8h8.8M1185.2 406.7l6.2 6.2M1185.2 412.9l6.2 -6.2M1136.1 408.8v8.8M1131.7 413.2h8.8M1133 410.1l6.2 6.2M1133 416.3l6.2 -6.2M1169.1 407.5v8.8M1164.7 411.9h8.8M1165.9 408.7l6.2 6.2M1165.9 415l6.2 -6.2M1156.6 416.4v8.8M1152.2 420.8h8.8M1153.5 417.7l6.2 6.2M1153.5 423.9l6.2 -6.2M1111.4 424.9v8.8M1107 429.3h8.8M1108.3 426.2l6.2 6.2M1108.3 432.4l6.2 -6.2M1145.3 424.9v8.8M1140.9 429.3h8.8M1142.2 426.2l6.2 6.2M1142.2 432.4l6.2 -6.2M1165.8 429.5v8.8M1161.4 433.9h8.8M1162.7 430.7l6.2 6.2M1162.7 437l6.2 -6.2M1152.6 435.9v8.8M1148.2 440.3h8.8M1149.5 437.2l6.2 6.2M1149.5 443.4l6.2 -6.2M1138.9 441v8.8M1134.5 445.4h8.8M1135.8 442.3l6.2 6.2M1135.8 448.5l6.2 -6.2" stroke="#ff0000" stroke-width="1.1" fill="none"/><rect x="1196.8" y="134.2" width="8.3" height="16.6" rx="2.9" fill="#edb120"/><rect x="1218.4" y="129.1" width="13.3" height="19.9" rx="4.6" fill="#edb120"/><rect x="1221.8" y="182.6" width="9.9" height="16.6" rx="3.5" fill="#edb120"/><rect x="1221.8" y="201.6" width="9.9" height="16.6" rx="3.5" fill="#edb120"/><rect x="1208.1" y="234.5" width="13.3" height="19.9" rx="4.6" fill="#edb120"/><rect x="1227.8" y="239.5" width="8.3" height="13.3" rx="2.9" fill="#edb120"/><polygon points="1276,252.2 1294.2,250.5 1285.5,269.5 1276,269.5" fill="#edb120" stroke="#edb120" stroke-width="3" stroke-linejoin="round"/><rect x="1172.8" y="315" width="21.6" height="11.6" rx="4.1" fill="#edb120"/><rect x="1152.9" y="327.2" width="16.6" height="18.2" rx="5.8" fill="#edb120"/><rect x="1150.7" y="340.1" width="10.6" height="13.3" rx="3.7" fill="#edb120"/><rect x="1170.1" y="359.2" width="13.3" height="16.6" rx="4.6" fill="#edb120"/><rect x="1138.2" y="366.1" width="16.6" height="18.2" rx="5.8" fill="#edb120"/><rect x="1187.3" y="292.6" width="11.6" height="14.9" rx="4.1" fill="#edb120"/><rect x="1219.2" y="290.8" width="8.3" height="8.3" rx="2.9" fill="#edb120"/><path d="M1223.9 136.1v8.8M1219.5 140.5h8.8M1220.8 137.4l6.2 6.2M1220.8 143.6l6.2 -6.2M1277.9 251.2v8.8M1273.5 255.6h8.8M1274.8 252.5l6.2 6.2M1274.8 258.7l6.2 -6.2M1161.2 331.3v8.8M1156.8 335.7h8.8M1158.1 332.6l6.2 6.2M1158.1 338.8l6.2 -6.2M1145.3 370.2v8.8M1140.9 374.6h8.8M1142.2 371.5l6.2 6.2M1142.2 377.7l6.2 -6.2M1184.1 314v8.8M1179.7 318.4h8.8M1180.9 315.3l6.2 6.2M1180.9 321.5l6.2 -6.2M1198.3 307.2v8.8M1193.9 311.6h8.8M1195.2 308.5l6.2 6.2M1195.2 314.7l6.2 -6.2" stroke="#ff00ff" stroke-width="1.1" fill="none"/><rect x="1145.9" y="95.4" width="14.9" height="14.9" rx="5.2" fill="#00ffff"/><rect x="1197.4" y="132.1" width="13.9" height="13.9" rx="4.9" fill="#00ffff"/><rect x="1234.1" y="155.8" width="16.6" height="16.6" rx="5.8" fill="#00ffff"/><rect x="1262.5" y="148.2" width="14.9" height="23.2" rx="5.2" fill="#00ffff"/><rect x="1283.2" y="129.1" width="13.3" height="19.9" rx="4.6" fill="#00ffff"/><rect x="1284" y="149.9" width="11.6" height="19.9" rx="4.1" fill="#00ffff"/><rect x="1270.3" y="172.3" width="13.3" height="19.9" rx="4.6" fill="#00ffff"/><rect x="1268.2" y="190.4" width="13.9" height="16.6" rx="4.9" fill="#00ffff"/><rect x="1233.1" y="201.6" width="11.6" height="16.6" rx="4.1" fill="#00ffff"/><rect x="1230.5" y="217.1" width="9.9" height="13.3" rx="3.5" fill="#00ffff"/><ellipse cx="1275.2" cy="219.4" rx="2.6" ry="3.5" fill="#00ffff" /><rect x="1233.1" y="256.9" width="13.3" height="16.6" rx="4.6" fill="#00ffff"/><rect x="1238.9" y="235.3" width="34.5" height="13.1" rx="4.6" fill="#00ffff"/><polygon points="1182.8,93.3 1192.3,93.3 1199.2,98.5 1213.9,96.8 1213.9,109.7 1207.8,120.9 1194,126.1 1184.5,128.7 1181.9,139.1 1173.3,145.1 1168.9,139.1 1167.2,127 1172.4,115.8 1181.9,109.7" fill="#00ffff" stroke="#00ffff" stroke-width="3" stroke-linejoin="round"/><polygon points="1246.7,88.1 1260.5,88.1 1260.5,111.5 1275.2,114 1283.8,121.8 1288.1,134.8 1278.6,138.2 1263.1,139.1 1263.1,145.1 1249.3,146.9 1236.3,145.1 1231.1,135.6 1232.8,126.1 1245.8,120.1 1245.8,113.2 1238,109.7 1236.3,98.5" fill="#00ffff" stroke="#00ffff" stroke-width="3" stroke-linejoin="round"/><rect x="1106.2" y="346.1" width="14.9" height="11.6" rx="4.1" fill="#00ffff"/><rect x="1107.8" y="362.6" width="9.9" height="16.6" rx="3.5" fill="#00ffff"/><rect x="1106.3" y="395.5" width="16.6" height="19.9" rx="5.8" fill="#00ffff"/><rect x="1117.4" y="412.7" width="13.3" height="14.9" rx="4.6" fill="#00ffff"/><rect x="1167.4" y="323.7" width="9.9" height="14.9" rx="3.5" fill="#00ffff"/><ellipse cx="1178.4" cy="331.2" rx="3.1" ry="3.1" fill="#00ffff" /><ellipse cx="1177.6" cy="338.9" rx="2.4" ry="2.8" fill="#00ffff" /><rect x="1186.5" y="335" width="13.3" height="16.6" rx="4.6" fill="#00ffff"/><rect x="1198.6" y="338.3" width="14.9" height="9.9" rx="3.5" fill="#00ffff"/><rect x="1204.6" y="317.6" width="11.6" height="13.3" rx="4.1" fill="#00ffff"/><rect x="1256.5" y="298.6" width="14.9" height="13.3" rx="4.6" fill="#00ffff"/><polygon points="1255.3,304.4 1270,300.9 1270,352.8 1263.1,345.9 1252.7,336.4 1239.8,327.7 1243.2,319.9 1254.4,315.6" fill="#00ffff" stroke="#00ffff" stroke-width="3" stroke-linejoin="round"/><polygon points="1219.9,352.8 1225.9,358.8 1219,382.1 1201.8,382.1 1200,372.6 1211.3,362.3" fill="#00ffff" stroke="#00ffff" stroke-width="3" stroke-linejoin="round"/><path d="M1153.5 99.7v8.8M1149.1 104.1h8.8M1150.4 101l6.2 6.2M1150.4 107.2l6.2 -6.2M1196.1 101.9v8.8M1191.7 106.3h8.8M1193 103.2l6.2 6.2M1193 109.4l6.2 -6.2M1175.5 120v8.8M1171.1 124.4h8.8M1172.4 121.3l6.2 6.2M1172.4 127.5l6.2 -6.2M1244.6 97.2v8.8M1240.2 101.6h8.8M1241.5 98.4l6.2 6.2M1241.5 104.7l6.2 -6.2M1268.7 116.1v8.8M1264.3 120.5h8.8M1265.6 117.4l6.2 6.2M1265.6 123.6l6.2 -6.2M1237.3 126.3v8.8M1232.9 130.7h8.8M1234.2 127.6l6.2 6.2M1234.2 133.8l6.2 -6.2M1252.8 128.5v8.8M1248.4 132.9h8.8M1249.7 129.8l6.2 6.2M1249.7 136l6.2 -6.2M1286.5 148.8v8.8M1282.1 153.2h8.8M1283.4 150.1l6.2 6.2M1283.4 156.3l6.2 -6.2M1270.2 154.2v8.8M1265.8 158.6h8.8M1267.1 155.5l6.2 6.2M1267.1 161.7l6.2 -6.2M1241.9 160.6v8.8M1237.5 165h8.8M1238.7 161.9l6.2 6.2M1238.7 168.2l6.2 -6.2M1273.9 192.5v8.8M1269.5 196.9h8.8M1270.8 193.8l6.2 6.2M1270.8 200l6.2 -6.2M1236.7 205.5v8.8M1232.3 209.9h8.8M1233.6 206.8l6.2 6.2M1233.6 213l6.2 -6.2M1234.9 217.3v8.8M1230.5 221.7h8.8M1231.8 218.6l6.2 6.2M1231.8 224.9l6.2 -6.2M1272.4 220.7v8.8M1268 225.1h8.8M1269.3 222l6.2 6.2M1269.3 228.2l6.2 -6.2M1248.6 237.7v8.8M1244.2 242.1h8.8M1245.5 239l6.2 6.2M1245.5 245.2l6.2 -6.2M1264.2 237.7v8.8M1259.8 242.1h8.8M1261.1 239l6.2 6.2M1261.1 245.2l6.2 -6.2M1237.7 261.4v8.8M1233.3 265.8h8.8M1234.5 262.7l6.2 6.2M1234.5 268.9l6.2 -6.2M1256.9 314.3v8.8M1252.5 318.7h8.8M1253.7 315.6l6.2 6.2M1253.7 321.9l6.2 -6.2M1246.2 322.1v8.8M1241.8 326.5h8.8M1243.1 323.4l6.2 6.2M1243.1 329.6l6.2 -6.2M1171.8 327.6v8.8M1167.4 332h8.8M1168.7 328.8l6.2 6.2M1168.7 335.1l6.2 -6.2M1192.5 337.4v8.8M1188.1 341.8h8.8M1189.4 338.7l6.2 6.2M1189.4 344.9l6.2 -6.2M1263.3 340.2v8.8M1258.9 344.6h8.8M1260.1 341.5l6.2 6.2M1260.1 347.8l6.2 -6.2M1113.8 346.2v8.8M1109.4 350.6h8.8M1110.7 347.5l6.2 6.2M1110.7 353.7l6.2 -6.2M1210.2 370.2v8.8M1205.8 374.6h8.8M1207.1 371.5l6.2 6.2M1207.1 377.7l6.2 -6.2M1113.8 402v8.8M1109.4 406.4h8.8M1110.7 403.3l6.2 6.2M1110.7 409.5l6.2 -6.2" stroke="#0072bd" stroke-width="1.1" fill="none"/><rect x="1149.3" y="108.2" width="11.6" height="11.6" rx="4.1" fill="#a2142f"/><rect x="1247.7" y="202.4" width="9.9" height="14.9" rx="3.5" fill="#a2142f"/><rect x="1271.3" y="230.2" width="23.2" height="19.9" rx="7" fill="#a2142f"/><rect x="1241.4" y="246.6" width="36.5" height="23.2" rx="8.1" fill="#a2142f"/><rect x="1223.6" y="263.9" width="13.3" height="19.9" rx="4.6" fill="#a2142f"/><rect x="1234" y="277.5" width="13.3" height="13.3" rx="4.6" fill="#a2142f"/><rect x="1234.8" y="280.6" width="11.6" height="16.6" rx="4.1" fill="#a2142f"/><path d="M1155 109.5v8.8M1150.6 113.9h8.8M1151.9 110.8l6.2 6.2M1151.9 117l6.2 -6.2M1249.5 205.5v8.8M1245.1 209.9h8.8M1246.4 206.8l6.2 6.2M1246.4 213l6.2 -6.2M1276.6 239.4v8.8M1272.2 243.8h8.8M1273.5 240.6l6.2 6.2M1273.5 246.9l6.2 -6.2M1249.5 248.7v8.8M1245.1 253.1h8.8M1246.4 250l6.2 6.2M1246.4 256.2l6.2 -6.2M1266 249.5v8.8M1261.6 253.9h8.8M1262.9 250.8l6.2 6.2M1262.9 257l6.2 -6.2M1244.1 264.7v8.8M1239.7 269.1h8.8M1240.9 266l6.2 6.2M1240.9 272.3l6.2 -6.2M1244.1 264.9v8.8M1239.7 269.3h8.8M1240.9 266.2l6.2 6.2M1240.9 272.4l6.2 -6.2M1223 274.2v8.8M1218.6 278.6h8.8M1219.9 275.5l6.2 6.2M1219.9 281.7l6.2 -6.2" stroke="#20ee20" stroke-width="1.1" fill="none"/><path d="M1234.5 175.3v10M1229.5 180.3h10M1232.6 179.9v10M1227.6 184.9h10M1234.9 179.9v10M1229.9 184.9h10M1232.9 182.1v10M1227.9 187.1h10M1235.3 183v10M1230.3 188h10M1233.7 184.9v10M1228.7 189.9h10M1234.2 186.4v10M1229.2 191.4h10M1234.4 188v10M1229.4 193h10M1234.2 189.5v10M1229.2 194.5h10M1234 191v10M1229 196h10M1233.9 192.6v10M1228.9 197.6h10M1233.6 194.1v10M1228.6 199.1h10M1233.4 195.7v10M1228.4 200.7h10M1233.2 197.2v10M1228.2 202.2h10M1233.4 199v10M1228.4 204h10M1229.6 219.1v10M1224.6 224.1h10M1224.3 224.3v10M1219.3 229.3h10M1228.5 225.5v10M1223.5 230.5h10M1230.9 225.5v10M1225.9 230.5h10M1225.3 228.3v10M1220.3 233.3h10M1224.8 229.8v10M1219.8 234.8h10M1224.3 231.1v10M1219.3 236.1h10M1227.7 230.2v10M1222.7 235.2h10M1229.5 231.1v10M1224.5 236.1h10M1230.8 230.8v10M1225.8 235.8h10M1223.5 232.3v10M1218.5 237.3h10M1225.4 232.6v10M1220.4 237.6h10M1226.2 234.2v10M1221.2 239.2h10M1229.3 235.1v10M1224.3 240.1h10M1223 234.5v10M1218 239.5h10M1223.6 236v10M1218.6 241h10M1226.6 236.3v10M1221.6 241.3h10M1230 235.7v10M1225 240.7h10M1224 237.9v10M1219 242.9h10M1227.7 240.3v10M1222.7 245.3h10M1222.3 241.9v10M1217.3 246.9h10M1223.8 241.9v10M1218.8 246.9h10M1234.6 186.7v10M1229.6 191.7h10M1234 188.7v10M1229 193.7h10M1233.8 193.4v10M1228.8 198.4h10M1233.5 196.6v10M1228.5 201.6h10M1223.7 236.7v10M1218.7 241.7h10M1226.3 236.7v10M1221.3 241.7h10M1222.5 241.9v10M1217.5 246.9h10M1224 241.1v10M1219 246.1h10M1227.6 240.5v10M1222.6 245.5h10M1223.2 251v10M1218.2 256h10M1201.9 275.4v10M1196.9 280.4h10M1200.4 279.5v10M1195.4 284.5h10M1209.3 277.1v10M1204.3 282.1h10M1210.1 280.7v10M1205.1 285.7h10M1199 285.6v10M1194 290.6h10M1202.4 285.3v10M1197.4 290.3h10M1203.3 284.2v10M1198.3 289.2h10M1201.8 287.1v10M1196.8 292.1h10M1203.9 287.1v10M1198.9 292.1h10M1205.8 284.8v10M1200.8 289.8h10M1206.4 283v10M1201.4 288h10M1209.2 287.1v10M1204.2 292.1h10M1209.5 288.6v10M1204.5 293.6h10M1212.3 288.6v10M1207.3 293.6h10M1199.7 290.3v10M1194.7 295.3h10M1203.3 289.5v10M1198.3 294.5h10M1205.5 290.9v10M1200.5 295.9h10M1205.6 293.3v10M1200.6 298.3h10M1209 292.1v10M1204 297.1h10M1200.7 294.1v10M1195.7 299.1h10M1203.8 294.7v10M1198.8 299.7h10M1206.4 296.5v10M1201.4 301.5h10M1207.6 295.3v10M1202.6 300.3h10M1199.6 297.1v10M1194.6 302.1h10M1201.9 299.1v10M1196.9 304.1h10M1203.8 300.9v10M1198.8 305.9h10M1201 302.7v10M1196 307.7h10M1202.7 288.3v10M1197.7 293.3h10M1204.5 285.9v10M1199.5 290.9h10M1204.2 291.2v10M1199.2 296.2h10M1201.4 291.8v10M1196.4 296.8h10M1200.4 295.9v10M1195.4 300.9h10M1207 281.8v10M1202 286.8h10M1224.4 223.1v10M1219.4 228.1h10M1228 224.9v10M1223 229.9h10M1231.8 225.5v10M1226.8 230.5h10M1225.4 228.9v10M1220.4 233.9h10M1224.2 228.6v10M1219.2 233.6h10M1225.1 230.5v10M1220.1 235.5h10M1227.8 230.2v10M1222.8 235.2h10M1228.9 231.7v10M1223.9 236.7h10M1231.6 229.5v10M1226.6 234.5h10M1223.6 231.7v10M1218.6 236.7h10M1224.9 232.6v10M1219.9 237.6h10M1227 234.8v10M1222 239.8h10M1229.5 233.8v10M1224.5 238.8h10M1222.4 233.8v10M1217.4 238.8h10M1224.5 236v10M1219.5 241h10M1226.7 236.9v10M1221.7 241.9h10M1229.4 234.5v10M1224.4 239.5h10M1224.8 237.2v10M1219.8 242.2h10M1227.8 240.3v10M1222.8 245.3h10M1221.8 242.5v10M1216.8 247.5h10M1224.6 240.6v10M1219.6 245.6h10M1224.5 235.4v10M1219.5 240.4h10M1226.5 236v10M1221.5 241h10M1221.9 241.9v10M1216.9 246.9h10M1224.8 241.7v10M1219.8 246.7h10M1227.7 239.2v10M1222.7 244.2h10M1200.9 280.3v10M1195.9 285.3h10M1209.5 277.4v10M1204.5 282.4h10M1208.1 275.9v10M1203.1 280.9h10M1211.1 280.5v10M1206.1 285.5h10M1199.5 287.3v10M1194.5 292.3h10M1198.3 284.4v10M1193.3 289.4h10M1202.5 286.6v10M1197.5 291.6h10M1204.2 284.9v10M1199.2 289.9h10M1202.1 282.9v10M1197.1 287.9h10M1202.3 287.4v10M1197.3 292.4h10M1204.1 287v10M1199.1 292h10M1203.2 285.9v10M1198.2 290.9h10M1206.7 286.5v10M1201.7 291.5h10M1206.9 284.2v10M1201.9 289.2h10M1205.2 281.8v10M1200.2 286.8h10M1209.3 287.9v10M1204.3 292.9h10M1210.4 288.9v10M1205.4 293.9h10M1208.8 287.3v10M1203.8 292.3h10M1212.8 288.4v10M1207.8 293.4h10M1199.9 292v10M1194.9 297h10M1198.5 289.1v10M1193.5 294.1h10M1204.2 290.7v10M1199.2 295.7h10M1206 291.7v10M1201 296.7h10M1204.8 289.7v10M1199.8 294.7h10M1205.8 293.6v10M1200.8 298.6h10M1210 291.9v10M1205 296.9h10M1207.8 290.9v10M1202.8 295.9h10M1201.2 295.8v10M1196.2 300.8h10M1203.9 296v10M1198.9 301h10M1203.1 293.5v10M1198.1 298.5h10M1207.3 297.3v10M1202.3 302.3h10M1208.2 295.6v10M1203.2 300.6h10M1206.4 294.1v10M1201.4 299.1h10M1199.7 296.9v10M1194.7 301.9h10M1202.9 300.8v10M1197.9 305.8h10M1201.2 297.9v10M1196.2 302.9h10M1204.3 302.1v10M1199.3 307.1h10M1201.1 303.4v10M1196.1 308.4h10M1199.8 301.4v10M1194.8 306.4h10M1203.6 288.6v10M1198.6 293.6h10M1205.1 285.8v10M1200.1 290.8h10M1203.9 284.7v10M1198.9 289.7h10M1204.4 292.9v10M1199.4 297.9h10M1202.4 293v10M1197.4 298h10M1200.2 290.6v10M1195.2 295.6h10M1200.9 296.7v10M1195.9 301.7h10M1207.1 282.1v10M1202.1 287.1h10M1206.3 280.6v10M1201.3 285.6h10" stroke="#ff0000" stroke-width="1.3" fill="none"/><path d="M1233 201.2v10M1228 206.2h10M1232.8 202.7v10M1227.8 207.7h10M1232.7 204.3v10M1227.7 209.3h10M1232.5 205.8v10M1227.5 210.8h10M1232.2 207.4v10M1227.2 212.4h10M1232 208.9v10M1227 213.9h10M1231.6 210.4v10M1226.6 215.4h10M1231.1 211.7v10M1226.1 216.7h10M1230.6 212.9v10M1225.6 217.9h10M1230.1 214.1v10M1225.1 219.1h10M1228 217.5v10M1223 222.5h10M1227.9 219.4v10M1222.9 224.4h10M1229.5 220.6v10M1224.5 225.6h10M1226.9 221.8v10M1221.9 226.8h10M1226.2 223.7v10M1221.2 228.7h10M1229 222.8v10M1224 227.8h10M1227.4 225.8v10M1222.4 230.8h10M1217.8 237.9v10M1212.8 242.9h10M1219.1 240.3v10M1214.1 245.3h10M1218.3 242.8v10M1213.3 247.8h10M1219.7 239.1v10M1214.7 244.1h10M1220.4 237.2v10M1215.4 242.2h10M1232.9 202v10M1227.9 207h10M1232.6 205v10M1227.6 210h10M1232.3 206.6v10M1227.3 211.6h10M1231.8 209.6v10M1226.8 214.6h10M1231.3 211.1v10M1226.3 216.1h10M1230.8 212.3v10M1225.8 217.3h10M1217.8 238.1v10M1212.8 243.1h10M1218.9 240.2v10M1213.9 245.2h10M1218.1 242.8v10M1213.1 247.8h10M1219.4 239v10M1214.4 244h10M1219.8 247.8v10M1214.8 252.8h10M1216.4 247.5v10M1211.4 252.5h10M1216 249.3v10M1211 254.3h10M1213.8 249.9v10M1208.8 254.9h10M1213 251.3v10M1208 256.3h10M1215.7 252.5v10M1210.7 257.5h10M1213.5 253.1v10M1208.5 258.1h10M1215.2 254.6v10M1210.2 259.6h10M1214.1 256v10M1209.1 261h10M1214.4 258.1v10M1209.4 263.1h10M1211 258.1v10M1206 263.1h10M1210.3 259.5v10M1205.3 264.5h10M1213.8 260.7v10M1208.8 265.7h10M1213.2 263.1v10M1208.2 268.1h10M1212.4 264.8v10M1207.4 269.8h10M1211.3 266v10M1206.3 271h10M1210.7 267.5v10M1205.7 272.5h10M1209.9 268.3v10M1204.9 273.3h10M1208.2 264.8v10M1203.2 269.8h10M1207 266.6v10M1202 271.6h10M1205.3 267.2v10M1200.3 272.2h10M1204.1 269.5v10M1199.1 274.5h10M1206.7 270.1v10M1201.7 275.1h10M1208.9 270.4v10M1203.9 275.4h10M1209.5 269.5v10M1204.5 274.5h10M1207.5 271.9v10M1202.5 276.9h10M1206.4 274.2v10M1201.4 279.2h10M1207.5 273.9v10M1202.5 278.9h10M1205.9 276.5v10M1200.9 281.5h10M1206.2 278.6v10M1201.2 283.6h10M1204.8 280.7v10M1199.8 285.7h10M1204.1 282.4v10M1199.1 287.4h10M1218.9 263.6v10M1213.9 268.6h10M1219.8 266.3v10M1214.8 271.3h10M1215.8 270.1v10M1210.8 275.1h10M1218 269.8v10M1213 274.8h10M1216.7 277.4v10M1211.7 282.4h10M1216.6 282.1v10M1211.6 287.1h10M1195.3 292.4v10M1190.3 297.4h10M1192.5 294.4v10M1187.5 299.4h10M1214.7 256.6v10M1209.7 261.6h10M1212.7 261.6v10M1207.7 266.6h10M1212 263.6v10M1207 268.6h10M1208.6 268.3v10M1203.6 273.3h10M1207.9 273v10M1202.9 278h10M1206.9 276v10M1201.9 281h10M1205.5 278.9v10M1200.5 283.9h10M1220.3 238v10M1215.3 243h10M1219 241.4v10M1214 246.4h10M1217.5 243.9v10M1212.5 248.9h10M1219.9 238.2v10M1214.9 243.2h10M1218.1 241.3v10M1213.1 246.3h10M1219.4 240.5v10M1214.4 245.5h10M1220.8 246.1v10M1215.8 251.1h10M1217.7 245.5v10M1212.7 250.5h10M1215.6 248.6v10M1210.6 253.6h10M1216.7 247v10M1211.7 252h10M1214.8 248.5v10M1209.8 253.5h10M1213 250.9v10M1208 255.9h10M1214.3 249.6v10M1209.3 254.6h10M1216.3 250.5v10M1211.3 255.5h10M1214.9 253.6v10M1209.9 258.6h10M1214.5 250.8v10M1209.5 255.8h10M1216.4 253.2v10M1211.4 258.2h10M1214.4 255.6v10M1209.4 260.6h10M1214.8 254.3v10M1209.8 259.3h10M1215.4 256.1v10M1210.4 261.1h10M1213.6 259.2v10M1208.6 264.2h10M1212.2 255.8v10M1207.2 260.8h10M1210.9 258.1v10M1205.9 263.1h10M1209.4 260.6v10M1204.4 265.6h10M1214.8 259v10M1209.8 264h10M1214.4 261v10M1209.4 266h10M1212.4 264.1v10M1207.4 269.1h10M1213.1 262.5v10M1208.1 267.5h10M1212.3 264.6v10M1207.3 269.6h10M1210.5 267.1v10M1205.5 272.1h10M1211.9 265.8v10M1206.9 270.8h10M1210.6 266.3v10M1205.6 271.3h10M1209.1 269.4v10M1204.1 274.4h10M1209.2 262.5v10M1204.2 267.5h10M1208.2 265.2v10M1203.2 270.2h10M1206.2 267.7v10M1201.2 272.7h10M1206 265.5v10M1201 270.5h10M1205 267.5v10M1200 272.5h10M1203.3 270.6v10M1198.3 275.6h10M1207.9 267.8v10M1202.9 272.8h10M1209.5 269v10M1204.5 274h10M1208.1 271.5v10M1203.1 276.5h10M1210.4 267.8v10M1205.4 272.8h10M1208.7 269.8v10M1203.7 274.8h10M1206.7 272.9v10M1201.7 277.9h10M1207.1 271.9v10M1202.1 276.9h10M1208.4 272.5v10M1203.4 277.5h10M1206.7 275v10M1201.7 280h10M1207.1 274.8v10M1202.1 279.8h10M1206.9 276.6v10M1201.9 281.6h10M1205.4 279.7v10M1200.4 284.7h10M1205.8 278.3v10M1200.8 283.3h10M1219.6 261.9v10M1214.6 266.9h10M1220.8 264.3v10M1215.8 269.3h10M1219 267.4v10M1214 272.4h10M1217 267.8v10M1212 272.8h10M1218.7 268.4v10M1213.7 273.4h10M1217.2 270.9v10M1212.2 275.9h10M1217.7 275.7v10M1212.7 280.7h10M1216 254.9v10M1211 259.9h10M1213.4 259.6v10M1208.4 264.6h10M1211.9 262.7v10M1206.9 267.7h10M1212.9 261.3v10M1207.9 266.3h10M1209.8 266.9v10M1204.8 271.9h10M1207.7 269.4v10M1202.7 274.4h10M1208.6 271.3v10M1203.6 276.3h10M1207.8 274v10M1202.8 279h10M1206 277v10M1201 282h10M1206.7 276.6v10M1201.7 281.6h10" stroke="#00ff00" stroke-width="1.3" fill="none"/><path d="M1221.2 263.9v10M1216.2 268.9h10M1222.6 265.4v10M1217.6 270.4h10M1221.9 268.3v10M1216.9 273.3h10" stroke="#ff00ff" stroke-width="1.3" fill="none"/><path d="M1232 171C1234.9 171 1242.8 171.2 1245.8 171.9C1248.8 172.6 1249.4 172.2 1250.1 175.4C1250.8 178.5 1250.4 185.4 1250.1 190.9C1249.8 196.4 1249.3 203 1248.4 208.2C1247.5 213.4 1246.4 217.4 1244.9 222C1243.5 226.6 1241.2 231.8 1239.8 235.8C1238.3 239.8 1237.5 242.1 1236.3 246.2C1235.2 250.2 1234 255.4 1232.8 260C1231.7 264.6 1230.4 269.5 1229.4 273.8C1228.4 278.1 1227.7 283.2 1226.8 285.9C1225.9 288.5 1225.7 287.4 1224.2 289.7C1222.8 292.1 1220 296.8 1218.2 300.1C1216.3 303.4 1215 306.7 1213 309.6C1211 312.5 1208.4 315.3 1206.1 317.4C1203.8 319.4 1202 322 1199.2 321.7C1196.3 321.4 1191.7 317.5 1188.8 315.6C1185.9 313.8 1183.8 312.8 1181.9 310.4C1180 308.1 1178.2 306.1 1177.6 301.8C1176.9 297.5 1177.1 288.4 1178.1 284.5C1179.1 280.7 1181.6 280.8 1183.6 278.5C1185.7 276.2 1187.9 273.2 1190.5 270.7C1193.1 268.3 1197.2 267.3 1199.2 263.8C1201.2 260.3 1201.3 253.7 1202.6 249.6C1203.9 245.5 1205.5 242.7 1206.9 239.3C1208.4 235.8 1210.1 232.6 1211.3 228.9C1212.4 225.2 1212.7 221.1 1213.9 216.8C1215 212.5 1217 207.3 1218.2 203C1219.3 198.7 1220 194.6 1220.8 190.9C1221.5 187.2 1221.2 183.7 1222.5 180.5C1223.8 177.4 1226.9 173.5 1228.5 171.9C1230.1 170.3 1229.1 171 1232 171Z" fill="none" stroke="#000" stroke-width="2.4" stroke-linejoin="round"/></g><rect x="1088.7" y="75.5" width="210.7" height="386.7" fill="none" stroke="#222" stroke-width="1"/><path d="M1156.6 462.2v-4M1156.6 75.5v4M1224.4 462.2v-4M1224.4 75.5v4M1291.8 462.2v-4M1291.8 75.5v4M1088.7 137.7h4M1299.4 137.7h-4M1088.7 214.3h4M1299.4 214.3h-4M1088.7 276.2h4M1299.4 276.2h-4M1088.7 338.1h4M1299.4 338.1h-4M1088.7 400.3h4M1299.4 400.3h-4" stroke="#222" stroke-width="1" fill="none"/><rect x="1299.4" y="75.5" width="142.2" height="249.3" fill="#fff" stroke="#111" stroke-width="1.4"/><ellipse cx="1322" cy="91.9" rx="2" ry="2.6" fill="#0000ff" /><path d="M1322 110v9.2M1317.4 114.6h9.2M1318.7 111.3l6.5 6.5M1318.7 117.9l6.5 -6.5" stroke="#ff0000" stroke-width="1.2" fill="none"/><ellipse cx="1322" cy="136" rx="2" ry="2.6" fill="#edb120" /><path d="M1322 153.5v9.2M1317.4 158.1h9.2M1318.7 154.8l6.5 6.5M1318.7 161.4l6.5 -6.5" stroke="#ff00ff" stroke-width="1.2" fill="none"/><ellipse cx="1322" cy="180.5" rx="2" ry="2.6" fill="#00ffff" /><path d="M1322 197.3v9.2M1317.4 201.9h9.2M1318.7 198.6l6.5 6.5M1318.7 205.2l6.5 -6.5" stroke="#0072bd" stroke-width="1.2" fill="none"/><ellipse cx="1322" cy="224.1" rx="2" ry="2.6" fill="#a2142f" /><path d="M1322 241.6v9.2M1317.4 246.2h9.2M1318.7 242.9l6.5 6.5M1318.7 249.5l6.5 -6.5" stroke="#20ee20" stroke-width="1.2" fill="none"/><path d="M1322 264v9.2M1317.4 268.6h9.2" stroke="#ff0000" stroke-width="1.2" fill="none"/><path d="M1322 287.4v9.2M1317.4 292h9.2" stroke="#00ff00" stroke-width="1.2" fill="none"/><path d="M1322 308.8v9.2M1317.4 313.4h9.2" stroke="#ff00ff" stroke-width="1.2" fill="none"/><text x="1344.2" y="96.9" font-size="16" textLength="93" lengthAdjust="spacingAndGlyphs" class="lt">simulated granite</text><text x="1344.2" y="119.6" font-size="16" textLength="87.5" lengthAdjust="spacingAndGlyphs" class="lt">borehole granite</text><text x="1344.2" y="141" font-size="16" textLength="89" lengthAdjust="spacingAndGlyphs" class="lt">simulated quartz</text><text x="1344.2" y="163.1" font-size="16" textLength="84.5" lengthAdjust="spacingAndGlyphs" class="lt">borehole quartz</text><text x="1344.2" y="185.5" font-size="16" textLength="84.5" lengthAdjust="spacingAndGlyphs" class="lt">simulated basic</text><text x="1344.2" y="206.9" font-size="16" textLength="79.5" lengthAdjust="spacingAndGlyphs" class="lt">borehole basic</text><text x="1344.2" y="229.1" font-size="16" textLength="85" lengthAdjust="spacingAndGlyphs" class="lt">simulated aplite</text><text x="1344.2" y="251.2" font-size="16" textLength="80" lengthAdjust="spacingAndGlyphs" class="lt">borehole aplite</text><text x="1344.2" y="273.6" font-size="16" textLength="89.5" lengthAdjust="spacingAndGlyphs" class="lt">blasthole granite</text><text x="1344.2" y="297" font-size="16" textLength="86.5" lengthAdjust="spacingAndGlyphs" class="lt">blasthole quartz</text><text x="1344.2" y="318.4" font-size="16" textLength="81.5" lengthAdjust="spacingAndGlyphs" class="lt">blasthole basic</text><path d="M1566.9 360V378M1566.9 404.5V411M1576.7 360V378M1576.7 404.5V411M1586.5 360V378M1586.5 442V445M1596.2 355V378.5M1596.2 404V424M1596.2 440V445M1606 350.5V382M1606 400.5V445M1615.8 345.5V388M1615.8 400.5V433.5M1615.8 442.5V445M1625.6 344V445M1635.3 75V83.5M1635.3 353.5V430.5M1635.3 435V445M1645.1 75V88M1645.1 363V422.5M1645.1 429V445M1654.9 75V102M1654.9 360V415M1654.9 429V438.5M1664.7 75V120.5M1664.7 352V435M1674.4 75V247.5M1674.4 261V269.5M1674.4 344V433.5M1684.2 75V242.5M1684.2 265.5V269.5M1684.2 341V445M1694 75V238M1694 265.5V269.5M1694 340.5V445M1703.8 75V238M1703.8 341V360M1703.8 382V443M1713.5 75V238M1713.5 338V356.5M1713.5 391.5V445M1723.3 75V242.5M1723.3 353.5V363M1723.3 391.5V445M1733.1 75V242.5M1733.1 328.5V335M1733.1 353.5V363M1733.1 391.5V445M1742.9 75V242.5M1742.9 316V328.5M1742.9 358.5V363M1742.9 391.5V445M1752.6 75V167.5M1752.6 181.5V278.5M1752.6 303.5V313M1752.6 360V363M1752.6 388V445M1762.4 75V115.5M1762.4 134.5V153M1762.4 159.5V162.5M1762.4 192.5V264M1762.4 303.5V313M1762.4 363V374M1762.4 382V445M1772.2 75V115.5M1772.2 159.5V162.5M1772.2 195.5V265.5M1772.2 276.5V277M1772.2 303.5V313M1772.2 363V445M1782 75V111.5M1782 188V276.5M1782 308V309.5M1782 363V445M1791.7 75V111.5M1791.7 188V276.5M1791.7 363V445M1801.5 75V111.5M1801.5 180V258M1801.5 344V445M1811.3 75V112.5M1811.3 344V445M1821.1 75V117M1821.1 230V238M1821.1 335V445M1830.8 75V125M1830.8 235V238M1830.8 335V353.5M1830.8 378.5V445" stroke="#0000ff" stroke-width="4.4" fill="none" stroke-dasharray="0.1 1.7" stroke-linecap="round"/><path d="M1566.9 378V404.5M1566.9 411V445M1576.7 378V404.5M1576.7 411V445M1586.5 378V442M1596.2 378.5V404M1596.2 424V440M1606 382V400.5M1615.8 388V400.5M1615.8 433.5V442.5M1625.6 336.5V344M1635.3 331.5V353.5M1635.3 430.5V435M1645.1 327V363M1645.1 422.5V429M1654.9 309V360M1654.9 415V429M1664.7 297V352M1674.4 247.5V261M1674.4 269.5V344M1684.2 242.5V265.5M1684.2 269.5V335.5M1694 238V265.5M1694 269.5V335.5M1703.8 238V341M1703.8 360V382M1713.5 238V338M1713.5 356.5V391.5M1723.3 242.5V281.5M1723.3 302V338M1723.3 363V391.5M1733.1 242.5V280M1733.1 302V328.5M1733.1 363V391.5M1742.9 242.5V278.5M1742.9 303.5V316M1742.9 363V391.5M1752.6 167.5V181.5M1752.6 363V388M1762.4 115.5V134.5M1762.4 153V159.5M1762.4 162.5V192.5M1762.4 264V277M1762.4 374V382M1772.2 115.5V159.5M1772.2 162.5V195.5M1772.2 265.5V276.5M1782 111.5V188M1791.7 111.5V188M1801.5 111.5V180M1801.5 258V280M1811.3 112.5V164M1811.3 233.5V281.5M1821.1 117V155M1821.1 238V273.5M1830.8 125V154M1830.8 238V273.5" stroke="#edb120" stroke-width="4.4" fill="none" stroke-dasharray="0.1 1.7" stroke-linecap="round"/><path d="M1654.9 438.5V445M1664.7 435V445M1674.4 433.5V445M1694 335.5V340.5M1703.8 443V445M1723.3 281.5V302M1733.1 280V302M1742.9 278.5V303.5M1752.6 278.5V303.5M1762.4 277V303.5M1772.2 277V303.5M1782 276.5V308M1791.7 276.5V317.5M1801.5 280V322M1811.3 164V233.5M1811.3 281.5V331.5M1821.1 155V230M1821.1 273.5V335M1830.8 154V235M1830.8 273.5V335" stroke="#00ffff" stroke-width="4.4" fill="none" stroke-dasharray="0.1 1.7" stroke-linecap="round"/><path d="M1684.2 335.5V341M1723.3 338V353.5M1733.1 335V353.5M1742.9 328.5V358.5M1752.6 313V360M1762.4 313V363M1772.2 313V363M1782 309.5V363M1791.7 317.5V363M1801.5 322V344M1811.3 331.5V344M1830.8 353.5V378.5" stroke="#a2142f" stroke-width="4.4" fill="none" stroke-dasharray="0.1 1.7" stroke-linecap="round"/><path d="M1816.1 97.4v8.6M1811.8 101.7h8.6M1805.3 108.5v8.6M1801 112.8h8.6M1818.9 108.5v8.6M1814.6 112.8h8.6M1807.1 113.7v8.6M1802.8 118h8.6M1821.1 116v8.6M1816.8 120.3h8.6M1811.8 120.4v8.6M1807.5 124.7h8.6M1814.6 124.2v8.6M1810.3 128.5h8.6M1815.5 127.9v8.6M1811.2 132.2h8.6M1814.6 131.6v8.6M1810.3 135.9h8.6M1813.6 135.3v8.6M1809.3 139.6h8.6M1812.7 139.1v8.6M1808.4 143.4h8.6M1811.4 142.8v8.6M1807.1 147.1h8.6M1809.9 146.5v8.6M1805.6 150.8h8.6M1809 150.2v8.6M1804.7 154.5h8.6M1810.3 154.7v8.6M1806 159h8.6M1788.5 203.1v8.6M1784.2 207.4h8.6M1757.8 215.8v8.6M1753.5 220.1h8.6M1782 218.7v8.6M1777.7 223h8.6M1796 218.7v8.6M1791.7 223h8.6M1763.4 225.5v8.6M1759.1 229.8h8.6M1760.6 229.2v8.6M1756.3 233.5h8.6M1757.8 232.2v8.6M1753.5 236.5h8.6M1777.3 229.9v8.6M1773 234.2h8.6M1787.6 232.2v8.6M1783.3 236.5h8.6M1795 231.4v8.6M1790.7 235.7h8.6M1753.1 235.1v8.6M1748.8 239.4h8.6M1764.3 235.9v8.6M1760 240.2h8.6M1769 239.6v8.6M1764.7 243.9h8.6M1786.6 241.8v8.6M1782.3 246.1h8.6M1750.3 240.3v8.6M1746 244.6h8.6M1754.1 244.1v8.6M1749.8 248.4h8.6M1770.8 244.8v8.6M1766.5 249.1h8.6M1790.4 243.3v8.6M1786.1 247.6h8.6M1755.9 248.5v8.6M1751.6 252.8h8.6M1777.3 254.5v8.6M1773 258.8h8.6M1746.6 258.2v8.6M1742.3 262.5h8.6M1755 258.2v8.6M1750.7 262.5h8.6M1816.8 124.9v8.6M1812.5 129.2h8.6M1813.3 129.7v8.6M1809 134h8.6M1812.2 141v8.6M1807.9 145.3h8.6M1810.8 148.7v8.6M1806.5 153h8.6M1754.4 245.7v8.6M1750.1 250h8.6M1769.5 245.7v8.6M1765.2 250h8.6M1747.4 258.4v8.6M1743.1 262.7h8.6M1756.2 256.3v8.6M1751.9 260.6h8.6M1776.6 254.9v8.6M1772.3 259.2h8.6M1751.8 280.4v8.6M1747.5 284.7h8.6M1629.5 339.3v8.6M1625.2 343.6h8.6M1620.6 349.2v8.6M1616.3 353.5h8.6M1672 343.5v8.6M1667.7 347.8h8.6M1676.4 352v8.6M1672.1 356.3h8.6M1612.6 364.1v8.6M1608.3 368.4h8.6M1632.1 363.4v8.6M1627.8 367.7h8.6M1637.4 360.5v8.6M1633.1 364.8h8.6M1628.6 367.6v8.6M1624.3 371.9h8.6M1641 367.6v8.6M1636.7 371.9h8.6M1651.6 362v8.6M1647.3 366.3h8.6M1655.2 357.7v8.6M1650.9 362h8.6M1671.1 367.6v8.6M1666.8 371.9h8.6M1672.9 371.2v8.6M1668.6 375.5h8.6M1688.8 371.2v8.6M1684.5 375.5h8.6M1617 375.4v8.6M1612.7 379.7h8.6M1637.4 373.3v8.6M1633.1 377.6h8.6M1649.8 376.9v8.6M1645.5 381.2h8.6M1650.7 382.5v8.6M1646.4 386.8h8.6M1670.2 379.7v8.6M1665.9 384h8.6M1622.4 384.7v8.6M1618.1 389h8.6M1640.1 386.1v8.6M1635.8 390.4h8.6M1655.2 390.3v8.6M1650.9 394.6h8.6M1662.3 387.5v8.6M1658 391.8h8.6M1616.2 391.7v8.6M1611.9 396h8.6M1629.5 396.7v8.6M1625.2 401h8.6M1640.1 401v8.6M1635.8 405.3h8.6M1624.1 405.2v8.6M1619.8 409.5h8.6M1633.9 370.5v8.6M1629.6 374.8h8.6M1644.5 364.8v8.6M1640.2 369.1h8.6M1642.8 377.6v8.6M1638.5 381.9h8.6M1626.8 379v8.6M1622.5 383.3h8.6M1620.6 388.9v8.6M1616.3 393.2h8.6M1658.7 354.9v8.6M1654.4 359.2h8.6M1758.6 212.8v8.6M1754.3 217.1h8.6M1778.9 217.3v8.6M1774.6 221.6h8.6M1800.6 218.7v8.6M1796.3 223h8.6M1764.1 226.9v8.6M1759.8 231.2h8.6M1757.5 226.2v8.6M1753.2 230.5h8.6M1762.4 230.7v8.6M1758.1 235h8.6M1778.1 229.9v8.6M1773.8 234.2h8.6M1784.5 233.6v8.6M1780.2 237.9h8.6M1799.7 228.4v8.6M1795.4 232.7h8.6M1753.9 233.6v8.6M1749.6 237.9h8.6M1761.2 235.9v8.6M1756.9 240.2h8.6M1773.6 241.1v8.6M1769.3 245.4h8.6M1787.4 238.8v8.6M1783.1 243.1h8.6M1747.2 238.8v8.6M1742.9 243.1h8.6M1758.7 244.1v8.6M1754.4 248.4h8.6M1771.6 246.3v8.6M1767.3 250.6h8.6M1787.3 240.3v8.6M1783 244.6h8.6M1760.6 247v8.6M1756.3 251.3h8.6M1778.1 254.5v8.6M1773.8 258.8h8.6M1743.5 259.7v8.6M1739.2 264h8.6M1759.7 255.2v8.6M1755.4 259.5h8.6M1759.1 242.7v8.6M1754.8 247h8.6M1770.3 244.2v8.6M1766 248.5h8.6M1744.2 258.4v8.6M1739.9 262.7h8.6M1760.9 257.8v8.6M1756.6 262.1h8.6M1777.4 251.9v8.6M1773.1 256.2h8.6M1623.7 351.1v8.6M1619.4 355.4h8.6M1672.8 344.3v8.6M1668.5 348.6h8.6M1665 340.5v8.6M1660.7 344.8h8.6M1681.9 351.7v8.6M1677.6 356h8.6M1615.7 368.2v8.6M1611.4 372.5h8.6M1608.7 361.1v8.6M1604.4 365.4h8.6M1632.9 366.4v8.6M1628.6 370.7h8.6M1642.9 362.4v8.6M1638.6 366.7h8.6M1630.4 357.6v8.6M1626.1 361.9h8.6M1631.7 368.4v8.6M1627.4 372.7h8.6M1641.8 367.3v8.6M1637.5 371.6h8.6M1637.1 364.6v8.6M1632.8 368.9h8.6M1657.1 366.1v8.6M1652.8 370.4h8.6M1658.3 360.7v8.6M1654 365h8.6M1648.2 354.7v8.6M1643.9 359h8.6M1671.9 369.5v8.6M1667.6 373.8h8.6M1678.3 371.9v8.6M1674 376.2h8.6M1669 368.2v8.6M1664.7 372.5h8.6M1692 370.8v8.6M1687.7 375.1h8.6M1617.8 379.5v8.6M1613.5 383.8h8.6M1610 372.4v8.6M1605.7 376.7h8.6M1642.9 376.3v8.6M1638.6 380.6h8.6M1653 378.7v8.6M1648.7 383h8.6M1646 373.9v8.6M1641.7 378.2h8.6M1651.5 383.3v8.6M1647.2 387.6h8.6M1675.7 379.3v8.6M1671.4 383.6h8.6M1663.2 376.7v8.6M1658.9 381h8.6M1625.5 388.8v8.6M1621.2 393.1h8.6M1640.9 389.1v8.6M1636.6 393.4h8.6M1636.2 383.1v8.6M1631.9 387.4h8.6M1660.6 392.2v8.6M1656.3 396.5h8.6M1665.4 388.2v8.6M1661.1 392.5h8.6M1655.3 384.5v8.6M1651 388.8h8.6M1616.9 391.4v8.6M1612.6 395.7h8.6M1634.9 400.8v8.6M1630.6 405.1h8.6M1625.6 393.7v8.6M1621.3 398h8.6M1643.2 404v8.6M1638.9 408.3h8.6M1624.9 407.1v8.6M1620.6 411.4h8.6M1617.1 402.2v8.6M1612.8 406.5h8.6M1639.3 371.2v8.6M1635 375.5h8.6M1647.6 364.4v8.6M1643.3 368.7h8.6M1640.6 361.8v8.6M1636.3 366.1h8.6M1643.5 381.7v8.6M1639.2 386h8.6M1632.2 382v8.6M1627.9 386.3h8.6M1619.8 376v8.6M1615.5 380.3h8.6M1623.7 390.8v8.6M1619.4 395.1h8.6M1659.5 355.6v8.6M1655.2 359.9h8.6M1654.8 351.9v8.6M1650.5 356.2h8.6" stroke="#ff0000" stroke-width="1.8" fill="none"/><path d="M1807.7 159.9v8.6M1803.4 164.2h8.6M1806.8 163.6v8.6M1802.5 167.9h8.6M1805.8 167.4v8.6M1801.5 171.7h8.6M1804.7 171.1v8.6M1800.4 175.4h8.6M1803.4 174.8v8.6M1799.1 179.1h8.6M1802.1 178.5v8.6M1797.8 182.8h8.6M1799.7 182.3v8.6M1795.4 186.6h8.6M1796.9 185.2v8.6M1792.6 189.5h8.6M1794.1 188.2v8.6M1789.8 192.5h8.6M1791.3 191.2v8.6M1787 195.5h8.6M1779.2 199.4v8.6M1774.9 203.7h8.6M1778.3 203.9v8.6M1774 208.2h8.6M1787.6 206.8v8.6M1783.3 211.1h8.6M1772.7 209.8v8.6M1768.4 214.1h8.6M1769 214.3v8.6M1764.7 218.6h8.6M1784.8 212v8.6M1780.5 216.3h8.6M1775.5 219.5v8.6M1771.2 223.8h8.6M1720.5 248.5v8.6M1716.2 252.8h8.6M1728 254.5v8.6M1723.7 258.8h8.6M1723.3 260.5v8.6M1719 264.8h8.6M1731.7 251.5v8.6M1727.4 255.8h8.6M1735.4 247v8.6M1731.1 251.3h8.6M1807.1 161.8v8.6M1802.8 166.1h8.6M1805.3 169.1v8.6M1801 173.4h8.6M1804 172.9v8.6M1799.7 177.2h8.6M1801 180.3v8.6M1796.7 184.6h8.6M1798.2 183.7v8.6M1793.9 188h8.6M1795.4 186.7v8.6M1791.1 191h8.6M1720.8 249.2v8.6M1716.5 253.5h8.6M1727 254.2v8.6M1722.7 258.5h8.6M1722.5 260.6v8.6M1718.2 264.9h8.6M1729.6 251.3v8.6M1725.3 255.6h8.6M1732.3 272.6v8.6M1728 276.9h8.6M1712.8 271.9v8.6M1708.5 276.2h8.6M1710.1 276.2v8.6M1705.8 280.5h8.6M1697.7 277.6v8.6M1693.4 281.9h8.6M1693.3 281.1v8.6M1689 285.4h8.6M1708.4 284v8.6M1704.1 288.3h8.6M1695.9 285.4v8.6M1691.6 289.7h8.6M1705.7 288.9v8.6M1701.4 293.2h8.6M1699.5 292.5v8.6M1695.2 296.8h8.6M1701.3 297.4v8.6M1697 301.7h8.6M1681.8 297.4v8.6M1677.5 301.7h8.6M1677.3 301v8.6M1673 305.3h8.6M1697.7 303.8v8.6M1693.4 308.1h8.6M1694.2 309.5v8.6M1689.9 313.8h8.6M1689.7 313.7v8.6M1685.4 318h8.6M1683.5 316.6v8.6M1679.2 320.9h8.6M1680 320.1v8.6M1675.7 324.4h8.6M1675.6 322.3v8.6M1671.3 326.6h8.6M1665.8 313.7v8.6M1661.5 318h8.6M1658.7 318v8.6M1654.4 322.3h8.6M1649 319.4v8.6M1644.7 323.7h8.6M1641.9 325.1v8.6M1637.6 329.4h8.6M1656.9 326.5v8.6M1652.6 330.8h8.6M1669.3 327.2v8.6M1665 331.5h8.6M1672.9 325.1v8.6M1668.6 329.4h8.6M1661.4 330.8v8.6M1657.1 335.1h8.6M1655.2 336.4v8.6M1650.9 340.7h8.6M1661.4 335.7v8.6M1657.1 340h8.6M1652.5 342.1v8.6M1648.2 346.4h8.6M1654.3 347.1v8.6M1650 351.4h8.6M1646.3 352v8.6M1642 356.3h8.6M1641.9 356.3v8.6M1637.6 360.6h8.6M1727 310.9v8.6M1722.7 315.2h8.6M1732.3 317.3v8.6M1728 321.6h8.6M1709.2 326.5v8.6M1704.9 330.8h8.6M1721.6 325.8v8.6M1717.3 330.1h8.6M1714.6 344.2v8.6M1710.3 348.5h8.6M1713.7 355.6v8.6M1709.4 359.9h8.6M1591.3 380.4v8.6M1587 384.7h8.6M1575.4 385.4v8.6M1571.1 389.7h8.6M1703 293.9v8.6M1698.7 298.2h8.6M1691.5 305.9v8.6M1687.2 310.2h8.6M1687.1 310.9v8.6M1682.8 315.2h8.6M1667.6 322.3v8.6M1663.3 326.6h8.6M1664 333.6v8.6M1659.7 337.9h8.6M1657.8 340.7v8.6M1653.5 345h8.6M1649.8 347.8v8.6M1645.5 352.1h8.6M1735 248.9v8.6M1730.7 253.2h8.6M1727.2 257.1v8.6M1722.9 261.4h8.6M1718.7 263.1v8.6M1714.4 267.4h8.6M1732.4 249.3v8.6M1728.1 253.6h8.6M1722.3 256.8v8.6M1718 261.1h8.6M1729.5 255v8.6M1725.2 259.3h8.6M1737.7 268.5v8.6M1733.4 272.8h8.6M1719.8 267v8.6M1715.5 271.3h8.6M1708.1 274.5v8.6M1703.8 278.8h8.6M1714 270.6v8.6M1709.7 274.9h8.6M1703.2 274.2v8.6M1698.9 278.5h8.6M1693 280.2v8.6M1688.7 284.5h8.6M1700.3 277v8.6M1696 281.3h8.6M1712.2 279.1v8.6M1707.9 283.4h8.6M1703.7 286.6v8.6M1699.4 290.9h8.6M1701.4 279.8v8.6M1697.1 284.1h8.6M1712.7 285.6v8.6M1708.4 289.9h8.6M1701 291.5v8.6M1696.7 295.8h8.6M1703.4 288.4v8.6M1699.1 292.7h8.6M1706.7 292.6v8.6M1702.4 296.9h8.6M1696.6 300.1v8.6M1692.3 304.4h8.6M1688.8 291.8v8.6M1684.5 296.1h8.6M1681.2 297.6v8.6M1676.9 301.9h8.6M1672.7 303.6v8.6M1668.4 307.9h8.6M1703.2 299.7v8.6M1698.9 304h8.6M1701.2 304.6v8.6M1696.9 308.9h8.6M1689.5 312.1v8.6M1685.2 316.4h8.6M1693.6 308.1v8.6M1689.3 312.4h8.6M1689 313.2v8.6M1684.7 317.5h8.6M1678.9 319.2v8.6M1674.6 323.5h8.6M1687 316v8.6M1682.7 320.3h8.6M1679.4 317.4v8.6M1675.1 321.7h8.6M1670.9 324.9v8.6M1666.6 329.2h8.6M1671.2 308.1v8.6M1666.9 312.4h8.6M1665.7 314.6v8.6M1661.4 318.9h8.6M1654 320.6v8.6M1649.7 324.9h8.6M1652.8 315.3v8.6M1648.5 319.6h8.6M1647.3 320.2v8.6M1643 324.5h8.6M1637.2 327.7v8.6M1632.9 332h8.6M1663.9 320.9v8.6M1659.6 325.2h8.6M1673.2 323.8v8.6M1668.9 328.1h8.6M1664.7 329.8v8.6M1660.4 334.1h8.6M1678.3 321v8.6M1674 325.3h8.6M1668.4 325.9v8.6M1664.1 330.2h8.6M1656.7 333.4v8.6M1652.4 337.7h8.6M1659.1 330.8v8.6M1654.8 335.1h8.6M1666.8 332.4v8.6M1662.5 336.7h8.6M1656.7 338.3v8.6M1652.4 342.6h8.6M1659.5 338v8.6M1655.2 342.3h8.6M1658.2 342.2v8.6M1653.9 346.5h8.6M1649.6 349.7v8.6M1645.3 354h8.6M1651.7 346.4v8.6M1647.4 350.7h8.6M1730.9 306.8v8.6M1726.6 311.1h8.6M1737.7 312.4v8.6M1733.4 316.7h8.6M1727.6 319.9v8.6M1723.3 324.2h8.6M1716.2 320.9v8.6M1711.9 325.2h8.6M1725.5 322.4v8.6M1721.2 326.7h8.6M1717 328.4v8.6M1712.7 332.7h8.6M1720 340.1v8.6M1715.7 344.4h8.6M1710 289.8v8.6M1705.7 294.1h8.6M1695.4 301.1v8.6M1691.1 305.4h8.6M1686.8 308.6v8.6M1682.5 312.9h8.6M1692.5 305.3v8.6M1688.2 309.6h8.6M1674.6 318.9v8.6M1670.3 323.2h8.6M1662.9 324.9v8.6M1658.6 329.2h8.6M1667.9 329.5v8.6M1663.6 333.8h8.6M1663.3 335.8v8.6M1659 340.1h8.6M1653.2 343.3v8.6M1648.9 347.6h8.6M1656.8 342.2v8.6M1652.5 346.5h8.6" stroke="#00ff00" stroke-width="1.8" fill="none"/><path d="M1740.3 311.6v8.6M1736 315.9h8.6M1748.2 315.2v8.6M1743.9 319.5h8.6M1743.8 322.3v8.6M1739.5 326.6h8.6" stroke="#ff00ff" stroke-width="1.8" fill="none"/><rect x="1563.6" y="72.6" width="272.2" height="372.5" fill="none" stroke="#222" stroke-width="1"/><path d="M1602.5 445.1v-3M1602.5 72.6v3M1641.4 445.1v-3M1641.4 72.6v3M1680.3 445.1v-3M1680.3 72.6v3M1719.2 445.1v-3M1719.2 72.6v3M1758 445.1v-3M1758 72.6v3M1796.9 445.1v-3M1796.9 72.6v3M1563.6 109.8h3M1835.8 109.8h-3M1563.6 147.1h3M1835.8 147.1h-3M1563.6 184.3h3M1835.8 184.3h-3M1563.6 221.6h3M1835.8 221.6h-3M1563.6 258.9h3M1835.8 258.9h-3M1563.6 296.1h3M1835.8 296.1h-3M1563.6 333.4h3M1835.8 333.4h-3M1563.6 370.6h3M1835.8 370.6h-3M1563.6 407.9h3M1835.8 407.9h-3" stroke="#222" stroke-width="1" fill="none"/><ellipse cx="1807.7" cy="135.2" rx="25.1" ry="23.6" fill="none" stroke="#12a150" stroke-width="2.5"/><ellipse cx="1779.4" cy="206.6" rx="14.9" ry="18.8" fill="none" stroke="#4048c8" stroke-width="2.5"/><ellipse cx="1813.2" cy="204.3" rx="18" ry="25.9" fill="none" stroke="#00ffff" stroke-width="2.5"/><ellipse cx="1781.7" cy="238.8" rx="24.3" ry="11.8" fill="none" stroke="#12a150" stroke-width="2.5"/><ellipse cx="1750.9" cy="254.9" rx="17.1" ry="24.5" fill="none" stroke="#12a150" stroke-width="2.5"/><ellipse cx="1771" cy="291.6" rx="49.5" ry="16.5" fill="none" stroke="#00ffff" stroke-width="2.5"/><ellipse cx="1670.6" cy="297" rx="8" ry="13" fill="none" stroke="#4048c8" stroke-width="2.5"/><ellipse cx="1745.5" cy="319.7" rx="8.6" ry="17.1" fill="none" stroke="#12a150" stroke-width="2.5"/><ellipse cx="1708" cy="354" rx="9.8" ry="15.9" fill="none" stroke="#4048c8" stroke-width="2.5"/><ellipse cx="1633.4" cy="401.7" rx="18.4" ry="8.6" fill="none" stroke="#12a150" stroke-width="2.5"/><path d="M1990 72.6H1837.2V225.1H1990" fill="#fff" stroke="#111" stroke-width="1.2"/><ellipse cx="1859" cy="86.1" rx="2" ry="2.6" fill="#0000ff" /><ellipse cx="1859" cy="108.1" rx="2" ry="2.6" fill="#edb120" /><ellipse cx="1859" cy="128.9" rx="2" ry="2.6" fill="#00ffff" /><ellipse cx="1859" cy="149.7" rx="2" ry="2.6" fill="#a2142f" /><path d="M1859 167.1v9.2M1854.4 171.7h9.2" stroke="#ff0000" stroke-width="2.1" fill="none"/><path d="M1859 188.7v9.2M1854.4 193.3h9.2" stroke="#00ff00" stroke-width="2.1" fill="none"/><path d="M1859 210v9.2M1854.4 214.6h9.2" stroke="#ff00ff" stroke-width="2.1" fill="none"/><text x="1880" y="91.1" font-size="16" textLength="93.6" lengthAdjust="spacingAndGlyphs" class="lt">simulated granite</text><text x="1880" y="113.1" font-size="16" textLength="89.5" lengthAdjust="spacingAndGlyphs" class="lt">simulated quartz</text><text x="1880" y="133.9" font-size="16" textLength="84" lengthAdjust="spacingAndGlyphs" class="lt">simulated basic</text><text x="1880" y="154.7" font-size="16" textLength="85" lengthAdjust="spacingAndGlyphs" class="lt">simulated aplite</text><text x="1880" y="176.7" font-size="16" textLength="90" lengthAdjust="spacingAndGlyphs" class="lt">blasthole granite</text><text x="1880" y="198.3" font-size="16" textLength="86.5" lengthAdjust="spacingAndGlyphs" class="lt">blasthole quartz</text><text x="1880" y="219.6" font-size="16" textLength="82" lengthAdjust="spacingAndGlyphs" class="lt">blasthole basic</text><path d="M1205.4 291.7C1208.9 292.6 1216.7 292.8 1226.5 297C1236.4 301.2 1251.2 312.2 1264.6 317.1C1278 322 1289.3 324.2 1306.9 326.6C1324.5 329 1349.2 330.9 1370.3 331.5C1391.5 332 1412.6 331.5 1433.8 329.8C1454.9 328.1 1481.3 324.3 1497.2 321.3C1513.1 318.3 1520.3 315 1528.9 311.8C1537.5 308.6 1545.7 303.9 1549 302.3L1546.9 301.2L1569.1 284.3L1558.5 311.2L1556.4 311.4C1551.8 312.5 1538.8 315.6 1528.9 318.2C1519 320.7 1513.1 323.9 1497.2 326.6C1481.3 329.3 1454.9 332.9 1433.8 334.4C1412.6 335.9 1391.5 336.2 1370.3 335.7C1349.2 335.2 1324.5 333.5 1306.9 331.5C1289.3 329.4 1276.9 327.4 1264.6 323.4C1252.2 319.5 1241.7 312.3 1232.9 307.6C1224.1 302.8 1215.2 297 1211.7 294.9Z" fill="#ff0000"/><text x="1037.6" y="34" font-size="40" class="sf">(b)</text><text x="1228.4" y="47.8" font-size="20.6" class="sf" text-anchor="middle">(i)</text><text x="1689" y="44" font-size="22" class="sf" text-anchor="middle">(ii)</text><text x="1083" y="82.7" font-size="16" text-anchor="end" textLength="28.5" lengthAdjust="spacingAndGlyphs" class="lt">7300</text><text x="1083" y="144.9" font-size="16" text-anchor="end" textLength="28.5" lengthAdjust="spacingAndGlyphs" class="lt">6900</text><text x="1083" y="221.5" font-size="16" text-anchor="end" textLength="28.5" lengthAdjust="spacingAndGlyphs" class="lt">6400</text><text x="1083" y="283.4" font-size="16" text-anchor="end" textLength="28.5" lengthAdjust="spacingAndGlyphs" class="lt">6000</text><text x="1083" y="345.3" font-size="16" text-anchor="end" textLength="28.5" lengthAdjust="spacingAndGlyphs" class="lt">5600</text><text x="1083" y="407.5" font-size="16" text-anchor="end" textLength="28.5" lengthAdjust="spacingAndGlyphs" class="lt">5200</text><text x="1083" y="471.4" font-size="16" text-anchor="end" textLength="28.5" lengthAdjust="spacingAndGlyphs" class="lt">4800</text><text x="1088.7" y="489.3" font-size="16" text-anchor="middle" textLength="29" lengthAdjust="spacingAndGlyphs" class="lt">6000</text><text x="1156.6" y="489.3" font-size="16" text-anchor="middle" textLength="29" lengthAdjust="spacingAndGlyphs" class="lt">6500</text><text x="1224.4" y="489.3" font-size="16" text-anchor="middle" textLength="29" lengthAdjust="spacingAndGlyphs" class="lt">7000</text><text x="1291.8" y="489.3" font-size="16" text-anchor="middle" textLength="29" lengthAdjust="spacingAndGlyphs" class="lt">7500</text><text x="1193.6" y="514.5" font-size="18" text-anchor="middle" textLength="74" lengthAdjust="spacingAndGlyphs" class="lt">Easting (m)</text><text x="1047" y="258.5" font-size="15" font-weight="bold" text-anchor="middle" textLength="116" lengthAdjust="spacingAndGlyphs" transform="rotate(-90 1047 258.5)">Northing (m)</text><text x="1557.5" y="79.8" font-size="16" text-anchor="end" textLength="27.7" lengthAdjust="spacingAndGlyphs" class="lt">6700</text><text x="1557.5" y="117" font-size="16" text-anchor="end" textLength="27.7" lengthAdjust="spacingAndGlyphs" class="lt">6600</text><text x="1557.5" y="154.3" font-size="16" text-anchor="end" textLength="27.7" lengthAdjust="spacingAndGlyphs" class="lt">6500</text><text x="1557.5" y="191.5" font-size="16" text-anchor="end" textLength="27.7" lengthAdjust="spacingAndGlyphs" class="lt">6400</text><text x="1557.5" y="228.8" font-size="16" text-anchor="end" textLength="27.7" lengthAdjust="spacingAndGlyphs" class="lt">6300</text><text x="1557.5" y="266.1" font-size="16" text-anchor="end" textLength="27.7" lengthAdjust="spacingAndGlyphs" class="lt">6200</text><text x="1557.5" y="303.3" font-size="16" text-anchor="end" textLength="27.7" lengthAdjust="spacingAndGlyphs" class="lt">6100</text><text x="1557.5" y="340.6" font-size="16" text-anchor="end" textLength="27.7" lengthAdjust="spacingAndGlyphs" class="lt">6000</text><text x="1557.5" y="377.8" font-size="16" text-anchor="end" textLength="27.7" lengthAdjust="spacingAndGlyphs" class="lt">5900</text><text x="1557.5" y="415.1" font-size="16" text-anchor="end" textLength="27.7" lengthAdjust="spacingAndGlyphs" class="lt">5800</text><text x="1557.5" y="452.3" font-size="16" text-anchor="end" textLength="27.7" lengthAdjust="spacingAndGlyphs" class="lt">5700</text><text x="1563.6" y="471" font-size="16" text-anchor="middle" textLength="27.7" lengthAdjust="spacingAndGlyphs" class="lt">6750</text><text x="1602.5" y="471" font-size="16" text-anchor="middle" textLength="27.7" lengthAdjust="spacingAndGlyphs" class="lt">6800</text><text x="1641.4" y="471" font-size="16" text-anchor="middle" textLength="27.7" lengthAdjust="spacingAndGlyphs" class="lt">6850</text><text x="1680.3" y="471" font-size="16" text-anchor="middle" textLength="27.7" lengthAdjust="spacingAndGlyphs" class="lt">6900</text><text x="1719.2" y="471" font-size="16" text-anchor="middle" textLength="27.7" lengthAdjust="spacingAndGlyphs" class="lt">6950</text><text x="1758" y="471" font-size="16" text-anchor="middle" textLength="27.7" lengthAdjust="spacingAndGlyphs" class="lt">7000</text><text x="1796.9" y="471" font-size="16" text-anchor="middle" textLength="27.7" lengthAdjust="spacingAndGlyphs" class="lt">7050</text><text x="1835.8" y="471" font-size="16" text-anchor="middle" textLength="27.7" lengthAdjust="spacingAndGlyphs" class="lt">7100</text><text x="1699.5" y="496.3" font-size="18" text-anchor="middle" textLength="73.4" lengthAdjust="spacingAndGlyphs" class="lt">Easting (m)</text><text x="1523.5" y="258" font-size="15" font-weight="bold" text-anchor="middle" textLength="111" lengthAdjust="spacingAndGlyphs" transform="rotate(-90 1523.5 258)">Northing (m)</text><text x="1336.4" y="378.4" font-size="19" class="sf" textLength="114" lengthAdjust="spacingAndGlyphs">Zoomed view</text><text x="1336.4" y="413.6" font-size="19" class="sf" textLength="114" lengthAdjust="spacingAndGlyphs">of  validation</text><text x="1336.4" y="447.6" font-size="19" class="sf">zone</text><text x="1437.4" y="531.5" font-size="22" class="sf" textLength="156" lengthAdjust="spacingAndGlyphs">Misclassification</text><text x="1437.4" y="568.7" font-size="22" class="sf">of quartz</text><text x="1619.2" y="531.5" font-size="22" class="sf" textLength="156" lengthAdjust="spacingAndGlyphs">Misclassification</text><text x="1613" y="568.7" font-size="22" class="sf">of granite</text><text x="1793.7" y="531.5" font-size="22" class="sf" textLength="156" lengthAdjust="spacingAndGlyphs">Misclassification</text><text x="1783" y="568.7" font-size="22" class="sf">of basic</text><line x1="1797.4" y1="137.5" x2="1591.7" y2="456.6" stroke="#12a150" stroke-width="4.6"/><polygon points="1583,470 1586,450.5 1599.5,459.2" fill="#12a150" /><line x1="1744.7" y1="245.2" x2="1590.1" y2="467.9" stroke="#12a150" stroke-width="4.6"/><polygon points="1581,481 1584.7,461.7 1597.8,470.8" fill="#12a150" /><line x1="1745" y1="318" x2="1593.2" y2="471.6" stroke="#12a150" stroke-width="4.6"/><polygon points="1582,483 1589,464.6 1600.3,475.8" fill="#12a150" /><line x1="1786.3" y1="202.3" x2="1673.4" y2="493.3" stroke="#1470c0" stroke-width="4.6"/><polygon points="1667.6,508.2 1666.7,488.5 1681.6,494.3" fill="#1470c0" /><line x1="1674.3" y1="296.5" x2="1668.1" y2="492.2" stroke="#1470c0" stroke-width="4.6"/><polygon points="1667.6,508.2 1660.2,490 1676.2,490.5" fill="#1470c0" /><line x1="1710" y1="343" x2="1671.6" y2="492.7" stroke="#1470c0" stroke-width="4.6"/><polygon points="1667.6,508.2 1664.3,488.8 1679.8,492.8" fill="#1470c0" /><line x1="1821.8" y1="195" x2="1820.7" y2="500.8" stroke="#12a8ea" stroke-width="5.2"/><polygon points="1820.6,516.8 1811.7,498.8 1829.7,498.8" fill="#12a8ea" /><line x1="1785.1" y1="296.5" x2="1818.1" y2="501" stroke="#12a8ea" stroke-width="4.6"/><polygon points="1820.6,516.8 1809.8,500.3 1825.6,497.8" fill="#12a8ea" />
<clipPath id="cc"><rect x="58.7" y="734.8" width="218.5" height="381.4"/></clipPath><g clip-path="url(#cc)"><polygon points="128.1,746.3 152.8,746.3 165.2,755.5 174.7,754.7 182.3,753.8 191.9,750.5 203.3,758.8 219.5,746.3 248,746.3 270.9,783.1 270.9,908.3 264.2,919.3 258.5,944.4 246.1,961.1 246.1,1007.8 239.5,1002.8 224.2,993.6 209,1005.3 202.3,1005.3 202.3,1012.9 193.8,1032.9 193.8,1042.9 170.9,1068 155.7,1068 150.9,1069.6 134.7,1102.2 100.5,1102.2 82.4,1086.3 59.5,1057.9 59.5,1049.6 76.7,1046.3 77.6,1036.2 83.3,1012.9 83.3,1002 104.3,999.5 123.3,978.6 145.2,971.1 150.9,966.1 150.9,944.4 159.5,944.4 165.2,936 174.7,923.3 184.3,906.6 190.9,896.6 182.3,889.9 182.3,853.2 178.5,836.5 150,800.6 135.7,812.3 122.4,812.3 113.8,804.8 100.5,804.8 89,803.1 89,779.7" fill="#0000ff" /><path d="M134.7 744.4v8.8M130.3 748.8h8.8M131.6 745.7l6.2 6.2M131.6 751.9l6.2 -6.2M138.2 764.5v8.8M133.8 768.9h8.8M135.1 765.7l6.2 6.2M135.1 772l6.2 -6.2M133.8 772.8v8.8M129.4 777.2h8.8M130.7 774.1l6.2 6.2M130.7 780.3l6.2 -6.2M101.4 777.3v8.8M97 781.7h8.8M98.3 778.6l6.2 6.2M98.3 784.8l6.2 -6.2M115.3 777.3v8.8M110.9 781.7h8.8M112.2 778.6l6.2 6.2M112.2 784.8l6.2 -6.2M89 786.2v8.8M84.6 790.6h8.8M85.9 787.5l6.2 6.2M85.9 793.7l6.2 -6.2M127.7 783.3v8.8M123.3 787.7h8.8M124.6 784.6l6.2 6.2M124.6 790.8l6.2 -6.2M205.6 762.3v8.8M201.2 766.7h8.8M202.5 763.6l6.2 6.2M202.5 769.8l6.2 -6.2M207.5 772.3v8.8M203.1 776.7h8.8M204.4 773.6l6.2 6.2M204.4 779.8l6.2 -6.2M193.8 776.2v8.8M189.4 780.6h8.8M190.7 777.4l6.2 6.2M190.7 783.7l6.2 -6.2M174.2 782v8.8M169.8 786.4h8.8M171.1 783.3l6.2 6.2M171.1 789.5l6.2 -6.2M164.8 792v8.8M160.4 796.4h8.8M161.7 793.3l6.2 6.2M161.7 799.5l6.2 -6.2M191.3 789.5v8.8M186.9 793.9h8.8M188.2 790.8l6.2 6.2M188.2 797l6.2 -6.2M182.7 800.4v8.8M178.3 804.8h8.8M179.6 801.7l6.2 6.2M179.6 807.9l6.2 -6.2M186.2 805.7v8.8M181.8 810.1h8.8M183 807l6.2 6.2M183 813.2l6.2 -6.2M205.6 805.4v8.8M201.2 809.8h8.8M202.5 806.7l6.2 6.2M202.5 812.9l6.2 -6.2M227.1 803.7v8.8M222.7 808.1h8.8M224 805l6.2 6.2M224 811.2l6.2 -6.2M244.2 761.1v8.8M239.8 765.5h8.8M241.1 762.4l6.2 6.2M241.1 768.6l6.2 -6.2M261.9 762.3v8.8M257.5 766.7h8.8M258.8 763.6l6.2 6.2M258.8 769.8l6.2 -6.2M247.7 793.7v8.8M243.3 798.1h8.8M244.6 795l6.2 6.2M244.6 801.2l6.2 -6.2M235.7 814.9v8.8M231.3 819.3h8.8M232.6 816.2l6.2 6.2M232.6 822.4l6.2 -6.2M256.2 809.6v8.8M251.8 814h8.8M253.1 810.8l6.2 6.2M253.1 817.1l6.2 -6.2M206.7 820.7v8.8M202.3 825.1h8.8M203.6 822l6.2 6.2M203.6 828.3l6.2 -6.2M190.3 824.6v8.8M185.9 829h8.8M187.2 825.9l6.2 6.2M187.2 832.1l6.2 -6.2M190.3 833.8v8.8M185.9 838.2h8.8M187.2 835.1l6.2 6.2M187.2 841.3l6.2 -6.2M235.7 834.9v8.8M231.3 839.3h8.8M232.6 836.2l6.2 6.2M232.6 842.4l6.2 -6.2M269 833.8v8.8M264.6 838.2h8.8M265.9 835.1l6.2 6.2M265.9 841.3l6.2 -6.2M182.7 850.1v8.8M178.3 854.5h8.8M179.6 851.4l6.2 6.2M179.6 857.6l6.2 -6.2M192.8 850.1v8.8M188.4 854.5h8.8M189.7 851.4l6.2 6.2M189.7 857.6l6.2 -6.2M220.4 850.5v8.8M216 854.9h8.8M217.3 851.8l6.2 6.2M217.3 858l6.2 -6.2M240.4 850.1v8.8M236 854.5h8.8M237.3 851.4l6.2 6.2M237.3 857.6l6.2 -6.2M262.7 848.8v8.8M258.3 853.2h8.8M259.6 850.1l6.2 6.2M259.6 856.3l6.2 -6.2M184.3 864.2v8.8M179.9 868.6h8.8M181.1 865.5l6.2 6.2M181.1 871.7l6.2 -6.2M247.7 864.2v8.8M243.3 868.6h8.8M244.6 865.5l6.2 6.2M244.6 871.7l6.2 -6.2M255.7 864.2v8.8M251.3 868.6h8.8M252.6 865.5l6.2 6.2M252.6 871.7l6.2 -6.2M260.4 864.2v8.8M256 868.6h8.8M257.3 865.5l6.2 6.2M257.3 871.7l6.2 -6.2M246.1 876.4v8.8M241.7 880.8h8.8M243 877.6l6.2 6.2M243 883.9l6.2 -6.2M261.9 875.2v8.8M257.5 879.6h8.8M258.8 876.5l6.2 6.2M258.8 882.7l6.2 -6.2M229 879.2v8.8M224.6 883.6h8.8M225.9 880.5l6.2 6.2M225.9 886.7l6.2 -6.2M181.8 885v8.8M177.4 889.4h8.8M178.7 886.3l6.2 6.2M178.7 892.5l6.2 -6.2M214.7 835.4v8.8M210.3 839.8h8.8M211.6 836.7l6.2 6.2M211.6 842.9l6.2 -6.2M235.7 927.5v8.8M231.3 931.9h8.8M232.6 928.7l6.2 6.2M232.6 935l6.2 -6.2M246.7 932.5v8.8M242.3 936.9h8.8M243.6 933.8l6.2 6.2M243.6 940l6.2 -6.2M224.6 947.5v8.8M220.2 951.9h8.8M221.5 948.8l6.2 6.2M221.5 955l6.2 -6.2M210.9 966.7v8.8M206.5 971.1h8.8M207.8 968l6.2 6.2M207.8 974.2l6.2 -6.2M189 962.5v8.8M184.6 966.9h8.8M185.9 963.8l6.2 6.2M185.9 970l6.2 -6.2M203.3 959.2v8.8M198.9 963.6h8.8M200.2 960.5l6.2 6.2M200.2 966.7l6.2 -6.2M152.8 960v8.8M148.4 964.4h8.8M149.7 961.3l6.2 6.2M149.7 967.5l6.2 -6.2M158 942.5v8.8M153.6 946.9h8.8M154.9 943.8l6.2 6.2M154.9 950l6.2 -6.2M124.3 974.2v8.8M119.9 978.6h8.8M121.2 975.5l6.2 6.2M121.2 981.7l6.2 -6.2M135.1 972.5v8.8M130.7 976.9h8.8M132 973.8l6.2 6.2M132 980.1l6.2 -6.2M118.2 983.4v8.8M113.8 987.8h8.8M115.1 984.7l6.2 6.2M115.1 990.9l6.2 -6.2M158 984.2v8.8M153.6 988.6h8.8M154.9 985.5l6.2 6.2M154.9 991.7l6.2 -6.2M169.4 982.6v8.8M165 987h8.8M166.3 983.9l6.2 6.2M166.3 990.1l6.2 -6.2M205.2 983.4v8.8M200.8 987.8h8.8M202.1 984.7l6.2 6.2M202.1 990.9l6.2 -6.2M210.9 990.9v8.8M206.5 995.3h8.8M207.8 992.2l6.2 6.2M207.8 998.4l6.2 -6.2M143.3 995.9v8.8M138.9 1000.3h8.8M140.2 997.2l6.2 6.2M140.2 1003.4l6.2 -6.2M102 1002.1v8.8M97.6 1006.5h8.8M98.9 1003.4l6.2 6.2M98.9 1009.6l6.2 -6.2M117.6 1003.4v8.8M113.2 1007.8h8.8M114.5 1004.7l6.2 6.2M114.5 1011l6.2 -6.2M136.1 1004.3v8.8M131.7 1008.7h8.8M133 1005.6l6.2 6.2M133 1011.8l6.2 -6.2M150.9 1005.9v8.8M146.5 1010.3h8.8M147.8 1007.2l6.2 6.2M147.8 1013.5l6.2 -6.2M160.5 1000.1v8.8M156.1 1004.5h8.8M157.3 1001.4l6.2 6.2M157.3 1007.6l6.2 -6.2M89.4 1009.8v8.8M85 1014.2h8.8M86.3 1011.1l6.2 6.2M86.3 1017.3l6.2 -6.2M109.6 1014.8v8.8M105.2 1019.2h8.8M106.5 1016.1l6.2 6.2M106.5 1022.3l6.2 -6.2M125.8 1014.8v8.8M121.4 1019.2h8.8M122.7 1016.1l6.2 6.2M122.7 1022.3l6.2 -6.2M170.9 1010.1v8.8M166.5 1014.5h8.8M167.8 1011.4l6.2 6.2M167.8 1017.6l6.2 -6.2M174.7 1013.5v8.8M170.3 1017.9h8.8M171.6 1014.8l6.2 6.2M171.6 1021l6.2 -6.2M162.9 1018.5v8.8M158.5 1022.9h8.8M159.8 1019.8l6.2 6.2M159.8 1026l6.2 -6.2M98.6 1023.5v8.8M94.2 1027.9h8.8M95.5 1024.8l6.2 6.2M95.5 1031l6.2 -6.2M79.5 1021.8v8.8M75.1 1026.2h8.8M76.4 1023.1l6.2 6.2M76.4 1029.3l6.2 -6.2M104.8 1033.5v8.8M100.4 1037.9h8.8M101.7 1034.8l6.2 6.2M101.7 1041l6.2 -6.2M141.8 1032.7v8.8M137.4 1037.1h8.8M138.7 1034l6.2 6.2M138.7 1040.2l6.2 -6.2M162.4 1031v8.8M158 1035.4h8.8M159.2 1032.3l6.2 6.2M159.2 1038.5l6.2 -6.2M125.2 1037.7v8.8M120.8 1042.1h8.8M122.1 1039l6.2 6.2M122.1 1045.2l6.2 -6.2M76.3 1042.7v8.8M71.9 1047.1h8.8M73.2 1044l6.2 6.2M73.2 1050.2l6.2 -6.2M91.9 1041v8.8M87.5 1045.4h8.8M88.8 1042.3l6.2 6.2M88.8 1048.5l6.2 -6.2M62 1049v8.8M57.6 1053.4h8.8M58.9 1050.3l6.2 6.2M58.9 1056.5l6.2 -6.2M113.4 1046v8.8M109 1050.4h8.8M110.3 1047.3l6.2 6.2M110.3 1053.5l6.2 -6.2M185.2 1041v8.8M180.8 1045.4h8.8M182.1 1042.3l6.2 6.2M182.1 1048.5l6.2 -6.2M173.4 1044.9v8.8M169 1049.3h8.8M170.3 1046.1l6.2 6.2M170.3 1052.4l6.2 -6.2M70 1057.7v8.8M65.6 1062.1h8.8M66.9 1059l6.2 6.2M66.9 1065.2l6.2 -6.2M100.8 1052.7v8.8M96.4 1057.1h8.8M97.7 1054l6.2 6.2M97.7 1060.2l6.2 -6.2M121 1056.9v8.8M116.6 1061.3h8.8M117.9 1058.2l6.2 6.2M117.9 1064.4l6.2 -6.2M136.1 1053.5v8.8M131.7 1057.9h8.8M133 1054.8l6.2 6.2M133 1061.1l6.2 -6.2M155.1 1051v8.8M150.7 1055.4h8.8M152 1052.3l6.2 6.2M152 1058.6l6.2 -6.2M162.4 1060.2v8.8M158 1064.6h8.8M159.2 1061.5l6.2 6.2M159.2 1067.7l6.2 -6.2M108.1 1063.6v8.8M103.7 1068h8.8M105 1064.9l6.2 6.2M105 1071.1l6.2 -6.2M142.4 1062.2v8.8M138 1066.6h8.8M139.2 1063.5l6.2 6.2M139.2 1069.7l6.2 -6.2M129.4 1071.1v8.8M125 1075.5h8.8M126.3 1072.4l6.2 6.2M126.3 1078.6l6.2 -6.2M82.4 1079.4v8.8M78 1083.8h8.8M79.3 1080.7l6.2 6.2M79.3 1086.9l6.2 -6.2M117.6 1079.4v8.8M113.2 1083.8h8.8M114.5 1080.7l6.2 6.2M114.5 1086.9l6.2 -6.2M138.9 1083.9v8.8M134.5 1088.3h8.8M135.8 1085.2l6.2 6.2M135.8 1091.4l6.2 -6.2M125.2 1090.3v8.8M120.8 1094.7h8.8M122.1 1091.6l6.2 6.2M122.1 1097.8l6.2 -6.2M110.9 1095.3v8.8M106.5 1099.7h8.8M107.8 1096.6l6.2 6.2M107.8 1102.8l6.2 -6.2" stroke="#ff0000" stroke-width="1.1" fill="none"/><ellipse cx="198.5" cy="866.4" rx="3.5" ry="7.8" fill="#edb120" /><rect x="182.3" y="895.1" width="8.3" height="8.3" rx="2.9" fill="#edb120"/><ellipse cx="202" cy="854.3" rx="1.7" ry="10.4" fill="#edb120" /><rect x="110" y="1023" width="18.2" height="18.2" rx="6.4" fill="#edb120"/><rect x="159.9" y="949.6" width="9.9" height="18.2" rx="3.5" fill="#edb120"/><rect x="187.5" y="946.9" width="11.6" height="13.3" rx="4.1" fill="#edb120"/><rect x="138.9" y="1015.7" width="19" height="19" rx="6.6" fill="#edb120"/><polygon points="145,971.7 160.5,971.7 168.3,969.9 168.3,982 153.6,985.5 145,980.3" fill="#edb120" stroke="#edb120" stroke-width="3" stroke-linejoin="round"/><polygon points="131.2,987.2 139.8,985.5 141.5,996.7 136.3,1006.2 127.7,1009.7 122.5,1003.6 123.4,996.7" fill="#edb120" stroke="#edb120" stroke-width="3" stroke-linejoin="round"/><path d="M199.5 794.5v8.8M195.1 798.9h8.8M196.4 795.8l6.2 6.2M196.4 802l6.2 -6.2M255.7 908.1v8.8M251.3 912.5h8.8M252.6 909.4l6.2 6.2M252.6 915.6l6.2 -6.2M134.2 987.1v8.8M129.8 991.5h8.8M131.1 988.4l6.2 6.2M131.1 994.6l6.2 -6.2M117.6 1025.5v8.8M113.2 1029.9h8.8M114.5 1026.8l6.2 6.2M114.5 1033l6.2 -6.2M158 970v8.8M153.6 974.4h8.8M154.9 971.3l6.2 6.2M154.9 977.6l6.2 -6.2M172.8 963.4v8.8M168.4 967.8h8.8M169.7 964.7l6.2 6.2M169.7 970.9l6.2 -6.2" stroke="#ff00ff" stroke-width="1.1" fill="none"/><rect x="209.9" y="859.9" width="9.9" height="16.6" rx="3.5" fill="#00ffff"/><rect x="208.2" y="874.4" width="8.3" height="11.6" rx="2.9" fill="#00ffff"/><rect x="248" y="846" width="11.6" height="16.6" rx="4.1" fill="#00ffff"/><rect x="172.3" y="787" width="14.5" height="19" rx="5.1" fill="#00ffff"/><rect x="246" y="826.7" width="17.3" height="31.1" rx="6" fill="#00ffff"/><polygon points="155.3,751.6 162.2,751.6 170.9,758.5 190.7,753.3 190.7,764.5 181.2,775.8 170.9,779.2 169.2,788.7 157.9,788.7 156.2,773.2" fill="#00ffff" stroke="#00ffff" stroke-width="3" stroke-linejoin="round"/><polygon points="223.5,748.1 236.5,748.1 236.5,760.2 241.7,772.3 256.4,773.2 263.3,785.3 256.4,789.6 241.7,789.6 239.9,801.7 226.1,803.4 224.4,816.3 229.6,826.7 227.9,832.7 221,825.8 215.8,818.9 212.3,806 206.3,799.1 204.6,787 215.8,779.2 219.2,769.7 214.9,758.5" fill="#00ffff" stroke="#00ffff" stroke-width="3" stroke-linejoin="round"/><polygon points="221,886.3 223.5,901 215.8,915.6 205.4,920.8 201.1,918.2 205.4,911.3 210.6,904.4 215.8,892.3" fill="#00ffff" stroke="#00ffff" stroke-width="3" stroke-linejoin="round"/><rect x="79.6" y="1004.3" width="11.6" height="33.2" rx="4.1" fill="#00ffff"/><polygon points="238.2,947.5 252.9,952.7 246,965.6 246,1006.2 239.9,1002.7 232.2,993.2 233.9,982.9 227,976 232.2,958.7" fill="#00ffff" stroke="#00ffff" stroke-width="3" stroke-linejoin="round"/><polygon points="181.2,973.4 195.9,981.2 194.2,995.8 188.1,1002.7 170.9,1006.2 163.1,1001.9 164.8,992.4 174.3,990.7 181.2,993.2 183,982.9 175.2,979.4" fill="#00ffff" stroke="#00ffff" stroke-width="3" stroke-linejoin="round"/><polygon points="80.2,1054.6 89.7,1052.8 101.8,1065.8 106.1,1083 100.1,1092.5 93.2,1089.1 88,1074.4 78.5,1068.4" fill="#00ffff" stroke="#00ffff" stroke-width="3" stroke-linejoin="round"/><path d="M126.2 758.6v8.8M121.8 763h8.8M123.1 759.9l6.2 6.2M123.1 766.1l6.2 -6.2M170.5 760.8v8.8M166.1 765.2h8.8M167.4 762.1l6.2 6.2M167.4 768.3l6.2 -6.2M149 778.7v8.8M144.6 783.1h8.8M145.9 779.9l6.2 6.2M145.9 786.2l6.2 -6.2M221 756.1v8.8M216.6 760.5h8.8M217.9 757.4l6.2 6.2M217.9 763.6l6.2 -6.2M246.1 774.8v8.8M241.7 779.2h8.8M243 776.1l6.2 6.2M243 782.3l6.2 -6.2M213.4 784.8v8.8M209 789.2h8.8M210.3 786.1l6.2 6.2M210.3 792.3l6.2 -6.2M229.6 787v8.8M225.2 791.4h8.8M226.5 788.3l6.2 6.2M226.5 794.5l6.2 -6.2M264.6 807v8.8M260.2 811.4h8.8M261.5 808.3l6.2 6.2M261.5 814.6l6.2 -6.2M247.7 812.4v8.8M243.3 816.8h8.8M244.6 813.7l6.2 6.2M244.6 819.9l6.2 -6.2M218.1 818.7v8.8M213.7 823.1h8.8M215 820l6.2 6.2M215 826.2l6.2 -6.2M251.5 850.1v8.8M247.1 854.5h8.8M248.4 851.4l6.2 6.2M248.4 857.6l6.2 -6.2M212.8 863v8.8M208.4 867.4h8.8M209.7 864.3l6.2 6.2M209.7 870.5l6.2 -6.2M210.9 874.7v8.8M206.5 879.1h8.8M207.8 876l6.2 6.2M207.8 882.2l6.2 -6.2M249.9 878v8.8M245.5 882.4h8.8M246.8 879.3l6.2 6.2M246.8 885.5l6.2 -6.2M225.2 894.7v8.8M220.8 899.1h8.8M222.1 896l6.2 6.2M222.1 902.2l6.2 -6.2M241.4 894.7v8.8M237 899.1h8.8M238.3 896l6.2 6.2M238.3 902.2l6.2 -6.2M213.8 918.1v8.8M209.4 922.5h8.8M210.7 919.4l6.2 6.2M210.7 925.6l6.2 -6.2M233.8 970.4v8.8M229.4 974.8h8.8M230.7 971.7l6.2 6.2M230.7 977.9l6.2 -6.2M222.7 978.1v8.8M218.3 982.5h8.8M219.6 979.3l6.2 6.2M219.6 985.6l6.2 -6.2M145.2 983.4v8.8M140.8 987.8h8.8M142.1 984.7l6.2 6.2M142.1 990.9l6.2 -6.2M166.7 993.1v8.8M162.3 997.5h8.8M163.6 994.4l6.2 6.2M163.6 1000.6l6.2 -6.2M240.4 995.9v8.8M236 1000.3h8.8M237.3 997.2l6.2 6.2M237.3 1003.4l6.2 -6.2M84.9 1001.8v8.8M80.5 1006.2h8.8M81.7 1003.1l6.2 6.2M81.7 1009.3l6.2 -6.2M185.2 1025.5v8.8M180.8 1029.9h8.8M182.1 1026.8l6.2 6.2M182.1 1033l6.2 -6.2M84.9 1056.9v8.8M80.5 1061.3h8.8M81.7 1058.2l6.2 6.2M81.7 1064.4l6.2 -6.2" stroke="#0072bd" stroke-width="1.1" fill="none"/><rect x="117.7" y="758.1" width="16.6" height="23.2" rx="5.8" fill="#a2142f"/><rect x="221.3" y="859.9" width="16.6" height="16.6" rx="5.8" fill="#a2142f"/><polygon points="251.2,893.2 270.2,892.3 271.9,909.6 264.1,922.5 245.1,924.3 231.3,919.9 229.6,926.9 222.7,937.2 226.1,950 204.6,950 204.6,937.2 212.3,930.3 215.8,919.9 219.2,911.3 226.1,906.1 239.9,904.4 248.6,902.7" fill="#a2142f" stroke="#a2142f" stroke-width="3" stroke-linejoin="round"/><polygon points="204.6,926.8 222.7,918.1 230.5,925.9 227,943.2 221,954.4 209.7,952.7 204.6,943.2" fill="#a2142f" stroke="#a2142f" stroke-width="3" stroke-linejoin="round"/><path d="M127.7 768.3v8.8M123.3 772.7h8.8M124.6 769.6l6.2 6.2M124.6 775.8l6.2 -6.2M226.1 863v8.8M221.7 867.4h8.8M223 864.3l6.2 6.2M223 870.5l6.2 -6.2M254.3 896.4v8.8M249.9 900.8h8.8M251.2 897.7l6.2 6.2M251.2 903.9l6.2 -6.2M226.1 905.6v8.8M221.7 910h8.8M223 906.9l6.2 6.2M223 913.1l6.2 -6.2M243.3 906.4v8.8M238.9 910.8h8.8M240.2 907.7l6.2 6.2M240.2 913.9l6.2 -6.2M220.4 921.4v8.8M216 925.8h8.8M217.3 922.7l6.2 6.2M217.3 929l6.2 -6.2M220.4 921.6v8.8M216 926h8.8M217.3 922.9l6.2 6.2M217.3 929.1l6.2 -6.2M198.5 930.8v8.8M194.1 935.2h8.8M195.4 932.1l6.2 6.2M195.4 938.3l6.2 -6.2" stroke="#20ee20" stroke-width="1.1" fill="none"/><path d="M210.4 834v8.4M206.2 838.2h8.4M208.5 838.6v8.4M204.3 842.8h8.4M210.9 838.6v8.4M206.7 842.8h8.4M208.8 840.7v8.4M204.6 844.9h8.4M211.4 841.6v8.4M207.2 845.8h8.4M209.7 843.4v8.4M205.5 847.6h8.4M210.2 845v8.4M206 849.2h8.4M210.3 846.5v8.4M206.1 850.7h8.4M210.2 848v8.4M206 852.2h8.4M210 849.5v8.4M205.8 853.7h8.4M209.8 851v8.4M205.6 855.2h8.4M209.6 852.6v8.4M205.4 856.8h8.4M209.3 854.1v8.4M205.1 858.3h8.4M209.2 855.6v8.4M205 859.8h8.4M209.4 857.4v8.4M205.2 861.6h8.4M205.4 877.2v8.4M201.2 881.4h8.4M199.9 882.3v8.4M195.7 886.5h8.4M204.3 883.5v8.4M200.1 887.7h8.4M206.8 883.5v8.4M202.6 887.7h8.4M200.9 886.3v8.4M196.7 890.5h8.4M200.4 887.8v8.4M196.2 892h8.4M199.9 889v8.4M195.7 893.2h8.4M203.4 888.1v8.4M199.2 892.3h8.4M205.3 889v8.4M201.1 893.2h8.4M206.6 888.7v8.4M202.4 892.9h8.4M199 890.2v8.4M194.8 894.4h8.4M201 890.5v8.4M196.8 894.7h8.4M201.9 892.1v8.4M197.7 896.3h8.4M205.1 893v8.4M200.9 897.2h8.4M198.5 892.4v8.4M194.3 896.6h8.4M199.2 893.9v8.4M195 898.1h8.4M202.2 894.2v8.4M198 898.4h8.4M205.8 893.6v8.4M201.6 897.8h8.4M199.5 895.7v8.4M195.3 899.9h8.4M203.4 898.1v8.4M199.2 902.3h8.4M197.8 899.7v8.4M193.6 903.9h8.4M199.3 899.7v8.4M195.1 903.9h8.4M210.6 845.3v8.4M206.4 849.5h8.4M209.9 847.2v8.4M205.7 851.4h8.4M209.7 851.8v8.4M205.5 856h8.4M209.5 855v8.4M205.3 859.2h8.4M199.3 894.5v8.4M195.1 898.7h8.4M202 894.5v8.4M197.8 898.7h8.4M198 899.7v8.4M193.8 903.9h8.4M199.6 898.9v8.4M195.4 903.1h8.4M203.3 898.3v8.4M199.1 902.5h8.4M198.8 908.7v8.4M194.6 912.9h8.4M176.6 932.7v8.4M172.4 936.9h8.4M174.9 936.8v8.4M170.7 941h8.4M184.3 934.5v8.4M180.1 938.7h8.4M185.1 937.9v8.4M180.9 942.1h8.4M173.5 942.8v8.4M169.3 947h8.4M177 942.6v8.4M172.8 946.8h8.4M178 941.4v8.4M173.8 945.6h8.4M176.4 944.3v8.4M172.2 948.5h8.4M178.6 944.3v8.4M174.4 948.5h8.4M180.6 942v8.4M176.4 946.2h8.4M181.2 940.2v8.4M177 944.4h8.4M184.1 944.3v8.4M179.9 948.5h8.4M184.4 945.7v8.4M180.2 949.9h8.4M187.3 945.7v8.4M183.1 949.9h8.4M174.3 947.5v8.4M170.1 951.7h8.4M178 946.6v8.4M173.8 950.8h8.4M180.3 948.1v8.4M176.1 952.3h8.4M180.4 950.4v8.4M176.2 954.6h8.4M184 949.2v8.4M179.8 953.4h8.4M175.3 951.2v8.4M171.1 955.4h8.4M178.5 951.8v8.4M174.3 956h8.4M181.2 953.6v8.4M177 957.8h8.4M182.5 952.4v8.4M178.3 956.6h8.4M174.1 954.1v8.4M169.9 958.3h8.4M176.6 956.2v8.4M172.4 960.4h8.4M178.5 957.9v8.4M174.3 962.1h8.4M175.6 959.6v8.4M171.4 963.8h8.4M177.4 945.5v8.4M173.2 949.7h8.4M179.3 943.1v8.4M175.1 947.3h8.4M179 948.3v8.4M174.8 952.5h8.4M176.1 948.9v8.4M171.9 953.1h8.4M174.9 953v8.4M170.7 957.2h8.4M181.9 939.1v8.4M177.7 943.3h8.4M200 881.1v8.4M195.8 885.3h8.4M203.7 882.9v8.4M199.5 887.1h8.4M207.6 883.5v8.4M203.4 887.7h8.4M201 886.9v8.4M196.8 891.1h8.4M199.8 886.6v8.4M195.6 890.8h8.4M200.7 888.4v8.4M196.5 892.6h8.4M203.5 888.1v8.4M199.3 892.3h8.4M204.7 889.6v8.4M200.5 893.8h8.4M207.5 887.5v8.4M203.3 891.7h8.4M199.2 889.6v8.4M195 893.8h8.4M200.5 890.5v8.4M196.3 894.7h8.4M202.7 892.7v8.4M198.5 896.9h8.4M205.2 891.7v8.4M201 895.9h8.4M197.9 891.7v8.4M193.7 895.9h8.4M200 893.9v8.4M195.8 898.1h8.4M202.4 894.8v8.4M198.2 899h8.4M205.2 892.4v8.4M201 896.6h8.4M200.4 895.1v8.4M196.2 899.3h8.4M203.5 898.1v8.4M199.3 902.3h8.4M197.3 900.3v8.4M193.1 904.5h8.4M200.2 898.4v8.4M196 902.6h8.4M200.1 893.3v8.4M195.9 897.5h8.4M202.1 893.9v8.4M197.9 898.1h8.4M197.4 899.7v8.4M193.2 903.9h8.4M200.4 899.5v8.4M196.2 903.7h8.4M203.4 897.1v8.4M199.2 901.3h8.4M175.5 937.5v8.4M171.3 941.7h8.4M184.4 934.8v8.4M180.2 939h8.4M183 933.2v8.4M178.8 937.4h8.4M186.1 937.8v8.4M181.9 942h8.4M174.1 944.5v8.4M169.9 948.7h8.4M172.8 941.6v8.4M168.6 945.8h8.4M177.2 943.8v8.4M173 948h8.4M179 942.2v8.4M174.8 946.4h8.4M176.7 940.2v8.4M172.5 944.4h8.4M177 944.6v8.4M172.8 948.8h8.4M178.8 944.1v8.4M174.6 948.3h8.4M177.9 943.1v8.4M173.7 947.3h8.4M181.6 943.7v8.4M177.4 947.9h8.4M181.8 941.5v8.4M177.6 945.7h8.4M180 939v8.4M175.8 943.2h8.4M184.3 945.1v8.4M180.1 949.3h8.4M185.4 946v8.4M181.2 950.2h8.4M183.7 944.5v8.4M179.5 948.7h8.4M187.9 945.6v8.4M183.7 949.8h8.4M174.4 949.2v8.4M170.2 953.4h8.4M173 946.3v8.4M168.8 950.5h8.4M179 947.8v8.4M174.8 952h8.4M180.8 948.8v8.4M176.6 953h8.4M179.6 946.8v8.4M175.4 951h8.4M180.6 950.7v8.4M176.4 954.9h8.4M184.9 949.1v8.4M180.7 953.3h8.4M182.7 948v8.4M178.5 952.2h8.4M175.8 952.9v8.4M171.6 957.1h8.4M178.6 953v8.4M174.4 957.2h8.4M177.8 950.6v8.4M173.6 954.8h8.4M182.2 954.3v8.4M178 958.5h8.4M183.1 952.7v8.4M178.9 956.9h8.4M181.2 951.2v8.4M177 955.4h8.4M174.3 954v8.4M170.1 958.2h8.4M177.5 957.8v8.4M173.3 962h8.4M175.9 954.9v8.4M171.7 959.1h8.4M179.1 959.1v8.4M174.9 963.3h8.4M175.7 960.4v8.4M171.5 964.6h8.4M174.3 958.4v8.4M170.1 962.6h8.4M178.3 945.8v8.4M174.1 950h8.4M179.9 943v8.4M175.7 947.2h8.4M178.6 941.9v8.4M174.4 946.1h8.4M179.1 950v8.4M174.9 954.2h8.4M177.1 950.1v8.4M172.9 954.3h8.4M174.8 947.7v8.4M170.6 951.9h8.4M175.5 953.7v8.4M171.3 957.9h8.4M182 939.4v8.4M177.8 943.6h8.4M181.2 937.9v8.4M177 942.1h8.4" stroke="#ff0000" stroke-width="2.2" fill="none"/><path d="M208.9 859.5v8.4M204.7 863.7h8.4M208.7 861.1v8.4M204.5 865.3h8.4M208.6 862.6v8.4M204.4 866.8h8.4M208.4 864.1v8.4M204.2 868.3h8.4M208.1 865.6v8.4M203.9 869.8h8.4M207.9 867.1v8.4M203.7 871.3h8.4M207.5 868.7v8.4M203.3 872.9h8.4M207 869.9v8.4M202.8 874.1h8.4M206.4 871.1v8.4M202.2 875.3h8.4M205.9 872.3v8.4M201.7 876.5h8.4M203.7 875.6v8.4M199.5 879.8h8.4M203.6 877.5v8.4M199.4 881.7h8.4M205.3 878.7v8.4M201.1 882.9h8.4M202.6 879.9v8.4M198.4 884.1h8.4M201.9 881.7v8.4M197.7 885.9h8.4M204.8 880.8v8.4M200.6 885h8.4M203.1 883.8v8.4M198.9 888h8.4M193.1 895.7v8.4M188.9 899.9h8.4M194.4 898.1v8.4M190.2 902.3h8.4M193.6 900.6v8.4M189.4 904.8h8.4M195.1 896.9v8.4M190.9 901.1h8.4M195.8 895.1v8.4M191.6 899.3h8.4M208.8 860.3v8.4M204.6 864.5h8.4M208.5 863.3v8.4M204.3 867.5h8.4M208.2 864.8v8.4M204 869h8.4M207.7 867.9v8.4M203.5 872.1h8.4M207.2 869.3v8.4M203 873.5h8.4M206.7 870.5v8.4M202.5 874.7h8.4M193.1 896v8.4M188.9 900.2h8.4M194.3 898v8.4M190.1 902.2h8.4M193.5 900.6v8.4M189.3 904.8h8.4M194.7 896.8v8.4M190.5 901h8.4M195.2 905.5v8.4M191 909.7h8.4M191.7 905.2v8.4M187.5 909.4h8.4M191.2 907v8.4M187 911.2h8.4M188.9 907.6v8.4M184.7 911.8h8.4M188.1 909v8.4M183.9 913.2h8.4M190.9 910.2v8.4M186.7 914.4h8.4M188.6 910.7v8.4M184.4 914.9h8.4M190.4 912.2v8.4M186.2 916.4h8.4M189.3 913.6v8.4M185.1 917.8h8.4M189.6 915.7v8.4M185.4 919.9h8.4M186.1 915.7v8.4M181.9 919.9h8.4M185.2 917.1v8.4M181 921.3h8.4M188.9 918.3v8.4M184.7 922.5h8.4M188.3 920.6v8.4M184.1 924.8h8.4M187.5 922.3v8.4M183.3 926.5h8.4M186.4 923.5v8.4M182.2 927.7h8.4M185.7 924.9v8.4M181.5 929.1h8.4M184.9 925.8v8.4M180.7 930h8.4M183.2 922.3v8.4M179 926.5h8.4M181.9 924v8.4M177.7 928.2h8.4M180.1 924.6v8.4M175.9 928.8h8.4M178.8 926.9v8.4M174.6 931.1h8.4M181.5 927.5v8.4M177.3 931.7h8.4M183.8 927.8v8.4M179.6 932h8.4M184.4 926.9v8.4M180.2 931.1h8.4M182.4 929.2v8.4M178.2 933.4h8.4M181.2 931.6v8.4M177 935.8h8.4M182.4 931.3v8.4M178.2 935.5h8.4M180.7 933.9v8.4M176.5 938.1h8.4M181.1 935.9v8.4M176.9 940.1h8.4M179.6 937.9v8.4M175.4 942.1h8.4M178.8 939.7v8.4M174.6 943.9h8.4M194.3 921.1v8.4M190.1 925.3h8.4M195.2 923.8v8.4M191 928h8.4M191 927.5v8.4M186.8 931.7h8.4M193.3 927.2v8.4M189.1 931.4h8.4M192 934.7v8.4M187.8 938.9h8.4M191.8 939.4v8.4M187.6 943.6h8.4M169.6 949.5v8.4M165.4 953.7h8.4M166.7 951.5v8.4M162.5 955.7h8.4M189.9 914.2v8.4M185.7 918.4h8.4M187.8 919.1v8.4M183.6 923.3h8.4M187 921.1v8.4M182.8 925.3h8.4M183.5 925.8v8.4M179.3 930h8.4M182.8 930.4v8.4M178.6 934.6h8.4M181.7 933.3v8.4M177.5 937.5h8.4M180.3 936.2v8.4M176.1 940.4h8.4M195.7 895.8v8.4M191.5 900h8.4M194.3 899.2v8.4M190.1 903.4h8.4M192.8 901.6v8.4M188.6 905.8h8.4M195.2 896v8.4M191 900.2h8.4M193.4 899.1v8.4M189.2 903.3h8.4M194.7 898.3v8.4M190.5 902.5h8.4M196.2 903.8v8.4M192 908h8.4M193 903.3v8.4M188.8 907.5h8.4M190.8 906.3v8.4M186.6 910.5h8.4M191.9 904.7v8.4M187.7 908.9h8.4M189.9 906.2v8.4M185.7 910.4h8.4M188.1 908.6v8.4M183.9 912.8h8.4M189.4 907.3v8.4M185.2 911.5h8.4M191.6 908.2v8.4M187.4 912.4h8.4M190 911.2v8.4M185.8 915.4h8.4M189.6 908.4v8.4M185.4 912.6h8.4M191.7 910.8v8.4M187.5 915h8.4M189.6 913.2v8.4M185.4 917.4h8.4M190 911.9v8.4M185.8 916.1h8.4M190.6 913.7v8.4M186.4 917.9h8.4M188.7 916.7v8.4M184.5 920.9h8.4M187.3 913.4v8.4M183.1 917.6h8.4M186 915.7v8.4M181.8 919.9h8.4M184.4 918.2v8.4M180.2 922.4h8.4M189.9 916.6v8.4M185.7 920.8h8.4M189.6 918.6v8.4M185.4 922.8h8.4M187.5 921.6v8.4M183.3 925.8h8.4M188.2 920v8.4M184 924.2h8.4M187.4 922.1v8.4M183.2 926.3h8.4M185.5 924.5v8.4M181.3 928.7h8.4M187 923.2v8.4M182.8 927.4h8.4M185.6 923.8v8.4M181.4 928h8.4M184.1 926.8v8.4M179.9 931h8.4M184.1 920v8.4M179.9 924.2h8.4M183.1 922.7v8.4M178.9 926.9h8.4M181 925.1v8.4M176.8 929.3h8.4M180.8 922.9v8.4M176.6 927.1h8.4M179.8 925v8.4M175.6 929.2h8.4M178 928v8.4M173.8 932.2h8.4M182.8 925.2v8.4M178.6 929.4h8.4M184.5 926.4v8.4M180.3 930.6h8.4M183 928.9v8.4M178.8 933.1h8.4M185.4 925.3v8.4M181.2 929.5h8.4M183.6 927.3v8.4M179.4 931.5h8.4M181.5 930.3v8.4M177.3 934.5h8.4M181.9 929.3v8.4M177.7 933.5h8.4M183.3 929.9v8.4M179.1 934.1h8.4M181.5 932.3v8.4M177.3 936.5h8.4M182 932.2v8.4M177.8 936.4h8.4M181.8 933.9v8.4M177.6 938.1h8.4M180.2 937v8.4M176 941.2h8.4M180.6 935.6v8.4M176.4 939.8h8.4M195 919.5v8.4M190.8 923.7h8.4M196.2 921.8v8.4M192 926h8.4M194.4 924.8v8.4M190.2 929h8.4M192.3 925.2v8.4M188.1 929.4h8.4M194 925.9v8.4M189.8 930.1h8.4M192.4 928.3v8.4M188.2 932.5h8.4M193 933.1v8.4M188.8 937.3h8.4M191.2 912.5v8.4M187 916.7h8.4M188.5 917.1v8.4M184.3 921.3h8.4M187 920.2v8.4M182.8 924.4h8.4M188 918.9v8.4M183.8 923.1h8.4M184.7 924.4v8.4M180.5 928.6h8.4M182.6 926.8v8.4M178.4 931h8.4M183.5 928.7v8.4M179.3 932.9h8.4M182.7 931.3v8.4M178.5 935.5h8.4M180.9 934.4v8.4M176.7 938.6h8.4M181.5 933.9v8.4M177.3 938.1h8.4" stroke="#00ff00" stroke-width="2.2" fill="none"/><path d="M196.7 921.4v8.4M192.5 925.6h8.4M198.1 922.9v8.4M193.9 927.1h8.4M197.3 925.8v8.4M193.1 930h8.4" stroke="#ff00ff" stroke-width="2.2" fill="none"/><path d="M202 827.6C205.4 824.5 217.1 823.1 221 824.1C224.8 825.1 224.6 829.1 225.3 833.6C226 838.1 225.4 845.7 225.3 850.9C225.1 856.1 225.3 860.4 224.4 864.7C223.5 869 221.5 872.2 220.1 876.8C218.7 881.4 216.6 887.4 215.8 892.3C214.9 897.2 215.5 901.8 214.9 906.1C214.3 910.5 213.3 914.8 212.3 918.2C211.3 921.7 210.5 924 208.9 926.9C207.3 929.7 204 932 202.8 935.5C201.7 938.9 202.4 945.1 202 947.6C201.5 950 201.4 947.1 200.2 950.1C199.1 953.1 197.1 961 195.1 965.6C193 970.2 190.2 974.8 188.1 977.7C186.1 980.6 185.8 982 183 982.9C180.1 983.8 174.3 983.8 170.9 982.9C167.4 982 164.5 980 162.2 977.7C159.9 975.4 157.9 972.8 157.1 969.1C156.2 965.3 156.5 959.6 157.1 955.3C157.6 950.9 158.8 946.9 160.5 943.2C162.2 939.4 165.1 936 167.4 932.8C169.7 929.6 172.3 927.3 174.3 924.2C176.3 921 178.4 916.2 179.5 913.8C180.7 911.4 180.1 912.2 181.2 909.6C182.4 907 184.1 901.8 186.4 898.4C188.7 894.9 193 892.5 195.1 888.9C197.1 885.3 197.6 881.4 198.5 876.8C199.4 872.2 199.9 867 200.2 861.2C200.5 855.5 199.9 847.9 200.2 842.2C200.5 836.6 198.5 830.6 202 827.6Z" fill="none" stroke="#000" stroke-width="2.6" stroke-linejoin="round"/></g><rect x="58.7" y="734.8" width="218.5" height="381.4" fill="none" stroke="#222" stroke-width="1"/><path d="M128.4 1116.2v-4M128.4 734.8v4M199.6 1116.2v-4M199.6 734.8v4M269.9 1116.2v-4M269.9 734.8v4M58.7 795.5h4M277.2 795.5h-4M58.7 872.3h4M277.2 872.3h-4M58.7 934h4M277.2 934h-4M58.7 995.4h4M277.2 995.4h-4M58.7 1057.6h4M277.2 1057.6h-4" stroke="#222" stroke-width="1" fill="none"/><rect x="277.7" y="734.8" width="143.3" height="230.4" fill="#fff" stroke="#222" stroke-width="1.1"/><ellipse cx="300.9" cy="748.2" rx="2" ry="2.6" fill="#0000ff" /><path d="M300.9 765.3v8.6M296.6 769.6h8.6M297.9 766.6l6.1 6.1M297.9 772.6l6.1 -6.1" stroke="#ff0000" stroke-width="1.2" fill="none"/><ellipse cx="300.9" cy="789.7" rx="2" ry="2.6" fill="#edb120" /><path d="M300.9 805.6v8.6M296.6 809.9h8.6M297.9 806.9l6.1 6.1M297.9 812.9l6.1 -6.1" stroke="#ff00ff" stroke-width="1.2" fill="none"/><ellipse cx="300.9" cy="830.8" rx="2" ry="2.6" fill="#00ffff" /><path d="M300.9 847.1v8.6M296.6 851.4h8.6M297.9 848.4l6.1 6.1M297.9 854.4l6.1 -6.1" stroke="#0072bd" stroke-width="1.2" fill="none"/><ellipse cx="300.9" cy="872.1" rx="2" ry="2.6" fill="#a2142f" /><path d="M300.9 888.1v8.6M296.6 892.4h8.6M297.9 889.4l6.1 6.1M297.9 895.4l6.1 -6.1" stroke="#20ee20" stroke-width="1.2" fill="none"/><path d="M300.9 909.3v8.6M296.6 913.6h8.6" stroke="#ff0000" stroke-width="1.8" fill="none"/><path d="M300.9 930.2v8.6M296.6 934.5h8.6" stroke="#00ff00" stroke-width="1.8" fill="none"/><path d="M300.9 950.8v8.6M296.6 955.1h8.6" stroke="#ff00ff" stroke-width="1.8" fill="none"/><text x="322.3" y="753.2" font-size="16" textLength="93.9" lengthAdjust="spacingAndGlyphs" class="lt">simulated granite</text><text x="322.3" y="774.6" font-size="16" textLength="88.2" lengthAdjust="spacingAndGlyphs" class="lt">borehole granite</text><text x="322.3" y="794.7" font-size="16" textLength="89.1" lengthAdjust="spacingAndGlyphs" class="lt">simulated quartz</text><text x="322.3" y="814.9" font-size="16" textLength="86.3" lengthAdjust="spacingAndGlyphs" class="lt">borehole quartz</text><text x="322.3" y="835.8" font-size="16" textLength="85.9" lengthAdjust="spacingAndGlyphs" class="lt">simulated basic</text><text x="322.3" y="856.4" font-size="16" textLength="80.7" lengthAdjust="spacingAndGlyphs" class="lt">borehole basic</text><text x="322.3" y="877.1" font-size="16" textLength="86.7" lengthAdjust="spacingAndGlyphs" class="lt">simulated aplite</text><text x="322.3" y="897.4" font-size="16" textLength="81.6" lengthAdjust="spacingAndGlyphs" class="lt">borehole aplite</text><text x="322.3" y="918.6" font-size="16" textLength="89.5" lengthAdjust="spacingAndGlyphs" class="lt">blasthole granite</text><text x="322.3" y="939.5" font-size="16" textLength="88.2" lengthAdjust="spacingAndGlyphs" class="lt">blasthole quartz</text><text x="322.3" y="960.1" font-size="16" textLength="82.5" lengthAdjust="spacingAndGlyphs" class="lt">blasthole basic</text><path d="M494.8 1022.8V1041.3M505.6 1022.8V1037.3M505.6 1074.3V1082.8M516.3 1022.8V1037.3M516.3 1074.3V1091.8M527.1 1019.3V1037.3M527.1 1069.3V1106.8M537.8 1014.8V1051.8M537.8 1064.3V1106.8M548.6 1010.3V1046.8M548.6 1057.8V1106.8M559.3 1009.8V1102.8M570.1 744.3V753.8M570.1 1016.3V1099.8M580.8 744.3V757.8M580.8 1020.8V1096.8M591.6 744.3V771.8M591.6 1014.8V1102.8M602.4 744.3V789.3M602.4 1014.8V1099.8M613.1 744.3V913.8M613.1 1009.8V1091.8M623.9 744.3V913.8M623.9 1004.8V1091.8M634.6 744.3V908.8M634.6 1004.8V1096.8M645.4 744.3V904.8M645.4 1000.3V1022.8M645.4 1054.8V1096.8M656.1 744.3V904.8M656.1 1003.3V1022.8M656.1 1059.8V1106.8M666.9 744.3V904.8M666.9 1000.3V1022.8M666.9 1059.8V1099.8M677.6 744.3V908.8M677.6 996.8V1003.3M677.6 1006.3V1022.8M677.6 1059.8V1102.8M688.4 744.3V830.8M688.4 859.3V946.8M688.4 1059.8V1106.8M699.1 744.3V830.8M699.1 859.3V946.8M699.1 1059.8V1106.8M709.9 744.3V826.3M709.9 871.8V932.8M709.9 944.8V946.8M709.9 974.3V982.3M709.9 1049.8V1106.8M720.7 744.3V794.3M720.7 866.8V945.3M720.7 1045.3V1106.8M731.4 744.3V790.3M731.4 865.3V945.3M731.4 974.3V977.8M731.4 1040.3V1106.8M742.2 744.3V789.3M742.2 860.3V945.3M742.2 1037.3V1106.8M752.9 744.3V789.3M752.9 853.8V945.3M752.9 1041.8V1106.8M763.7 744.3V790.8M763.7 856.8V945.3M763.7 1043.3V1106.8M774.4 744.3V789.3M774.4 899.8V948.8M774.4 1046.8V1106.8M785.2 744.3V790.8M785.2 900.8V945.3M785.2 1049.8V1106.8" stroke="#0000ff" stroke-width="4.5" fill="none" stroke-dasharray="0.1 1.7" stroke-linecap="round"/><path d="M494.8 1041.3V1106.8M505.6 1037.3V1074.3M505.6 1082.8V1106.8M516.3 1037.3V1074.3M516.3 1091.8V1106.8M527.1 1037.3V1069.3M537.8 1051.8V1064.3M548.6 1046.8V1057.8M559.3 1000.8V1009.8M570.1 996.8V1016.3M580.8 991.8V1020.8M591.6 973.3V1014.8M602.4 955.8V1014.8M613.1 913.8V1009.8M623.9 913.8V1004.8M634.6 908.8V1004.8M645.4 904.8V1000.3M645.4 1022.8V1054.8M656.1 904.8V1003.3M656.1 1022.8V1059.8M666.9 904.8V948.8M666.9 963.3V1000.3M666.9 1022.8V1059.8M677.6 908.8V946.8M677.6 964.8V996.8M677.6 1022.8V1059.8M688.4 830.8V859.3M688.4 966.3V993.8M688.4 1022.8V1059.8M699.1 830.8V859.3M699.1 966.3V988.8M699.1 1027.3V1059.8M709.9 826.3V871.8M709.9 932.8V944.8M709.9 967.8V974.3M709.9 1028.8V1049.8M720.7 794.3V866.8M720.7 972.8V980.8M720.7 1028.8V1045.3M731.4 790.3V865.3M731.4 1028.8V1040.3M742.2 789.3V860.3M742.2 1032.3V1037.3M752.9 789.3V853.8M763.7 790.8V856.8M774.4 789.3V824.8M785.2 790.8V821.3" stroke="#edb120" stroke-width="4.5" fill="none" stroke-dasharray="0.1 1.7" stroke-linecap="round"/><path d="M559.3 1102.8V1106.8M570.1 1099.8V1106.8M580.8 1096.8V1106.8M591.6 1102.8V1106.8M602.4 1099.8V1106.8M613.1 1091.8V1106.8M623.9 1091.8V1106.8M634.6 1096.8V1106.8M645.4 1096.8V1106.8M666.9 948.8V963.3M666.9 1099.8V1106.8M677.6 946.8V964.8M677.6 1102.8V1106.8M688.4 946.8V966.3M699.1 946.8V966.3M709.9 946.8V967.8M720.7 945.3V972.8M731.4 945.3V974.3M742.2 945.3V977.8M752.9 945.3V985.8M763.7 945.3V990.3M774.4 824.8V899.8M774.4 948.8V996.8M785.2 821.3V900.8M785.2 945.3V1000.3" stroke="#00ffff" stroke-width="4.5" fill="none" stroke-dasharray="0.1 1.7" stroke-linecap="round"/><path d="M677.6 1003.3V1006.3M688.4 993.8V1022.8M699.1 988.8V1027.3M709.9 982.3V1028.8M720.7 980.8V1028.8M731.4 977.8V1028.8M742.2 977.8V1032.3M752.9 985.8V1041.8M763.7 990.3V1043.3M774.4 996.8V1046.8M785.2 1000.3V1049.8" stroke="#a2142f" stroke-width="4.5" fill="none" stroke-dasharray="0.1 1.7" stroke-linecap="round"/><path d="M768.7 765.1v9.6M763.9 769.9h9.6M756.8 776.1v9.6M752 780.9h9.6M771.7 776.1v9.6M766.9 780.9h9.6M758.9 781.2v9.6M754.1 786h9.6M774.2 783.4v9.6M769.4 788.2h9.6M764 787.7v9.6M759.2 792.5h9.6M767 791.4v9.6M762.2 796.2h9.6M768.1 795v9.6M763.3 799.8h9.6M767 798.7v9.6M762.2 803.5h9.6M766 802.3v9.6M761.2 807.1h9.6M765 805.9v9.6M760.2 810.7h9.6M763.6 809.6v9.6M758.8 814.4h9.6M761.9 813.2v9.6M757.1 818h9.6M760.9 816.9v9.6M756.1 821.7h9.6M762.3 821.3v9.6M757.5 826.1h9.6M738.5 868.6v9.6M733.7 873.4h9.6M704.8 881v9.6M700 885.8h9.6M731.3 883.9v9.6M726.5 888.7h9.6M746.6 883.9v9.6M741.8 888.7h9.6M710.9 890.5v9.6M706.1 895.3h9.6M707.8 894.1v9.6M703 898.9h9.6M704.8 897v9.6M700 901.8h9.6M726.2 894.9v9.6M721.4 899.7h9.6M737.4 897v9.6M732.6 901.8h9.6M745.6 896.3v9.6M740.8 901.1h9.6M699.7 900v9.6M694.9 904.8h9.6M711.9 900.7v9.6M707.1 905.5h9.6M717 904.3v9.6M712.2 909.1h9.6M736.4 906.5v9.6M731.6 911.3h9.6M696.6 905.1v9.6M691.8 909.9h9.6M700.7 908.7v9.6M695.9 913.5h9.6M719.1 909.4v9.6M714.3 914.2h9.6M740.5 908v9.6M735.7 912.8h9.6M702.7 913.1v9.6M697.9 917.9h9.6M726.2 918.9v9.6M721.4 923.7h9.6M692.5 922.6v9.6M687.7 927.4h9.6M701.7 922.6v9.6M696.9 927.4h9.6M769.5 792.1v9.6M764.7 796.9h9.6M765.6 796.8v9.6M760.8 801.6h9.6M764.4 807.8v9.6M759.6 812.6h9.6M763 815.4v9.6M758.2 820.2h9.6M701.1 910.3v9.6M696.3 915.1h9.6M717.7 910.3v9.6M712.9 915.1h9.6M693.4 922.8v9.6M688.6 927.6h9.6M703.1 920.7v9.6M698.3 925.5h9.6M725.4 919.3v9.6M720.6 924.1h9.6M698.2 944.3v9.6M693.4 949.1h9.6M564.1 1001.9v9.6M559.3 1006.7h9.6M554.4 1011.6v9.6M549.6 1016.4h9.6M610.7 1006v9.6M605.9 1010.8h9.6M615.6 1014.4v9.6M610.8 1019.2h9.6M545.6 1026.2v9.6M540.8 1031h9.6M567 1025.5v9.6M562.2 1030.3h9.6M572.8 1022.7v9.6M568 1027.5h9.6M563.1 1029.6v9.6M558.3 1034.4h9.6M576.7 1029.6v9.6M571.9 1034.4h9.6M588.4 1024.1v9.6M583.6 1028.9h9.6M592.3 1019.9v9.6M587.5 1024.7h9.6M609.8 1029.6v9.6M605 1034.4h9.6M611.7 1033.1v9.6M606.9 1037.9h9.6M629.2 1033.1v9.6M624.4 1037.9h9.6M550.5 1037.3v9.6M545.7 1042.1h9.6M572.8 1035.2v9.6M568 1040h9.6M586.4 1038.7v9.6M581.6 1043.5h9.6M587.4 1044.2v9.6M582.6 1049h9.6M608.8 1041.4v9.6M604 1046.2h9.6M556.3 1046.3v9.6M551.5 1051.1h9.6M575.8 1047.7v9.6M571 1052.5h9.6M592.3 1051.8v9.6M587.5 1056.6h9.6M600.1 1049.1v9.6M595.3 1053.9h9.6M549.5 1053.2v9.6M544.7 1058h9.6M564.1 1058.1v9.6M559.3 1062.9h9.6M575.8 1062.2v9.6M571 1067h9.6M558.3 1066.4v9.6M553.5 1071.2h9.6M569 1032.4v9.6M564.2 1037.2h9.6M580.6 1026.9v9.6M575.8 1031.7h9.6M578.7 1039.3v9.6M573.9 1044.1h9.6M561.2 1040.7v9.6M556.4 1045.5h9.6M554.4 1050.4v9.6M549.6 1055.2h9.6M596.2 1017.1v9.6M591.4 1021.9h9.6M705.6 878.1v9.6M700.8 882.9h9.6M727.9 882.5v9.6M723.1 887.3h9.6M751.7 883.9v9.6M746.9 888.7h9.6M711.8 892v9.6M707 896.8h9.6M704.4 891.2v9.6M699.6 896h9.6M709.9 895.6v9.6M705.1 900.4h9.6M727.1 894.9v9.6M722.3 899.7h9.6M734 898.5v9.6M729.2 903.3h9.6M750.7 893.4v9.6M745.9 898.2h9.6M700.5 898.5v9.6M695.7 903.3h9.6M708.5 900.7v9.6M703.7 905.5h9.6M722.1 905.8v9.6M717.3 910.6h9.6M737.3 903.6v9.6M732.5 908.4h9.6M693.2 903.6v9.6M688.4 908.4h9.6M705.8 908.7v9.6M701 913.5h9.6M719.9 910.9v9.6M715.1 915.7h9.6M737.1 905.1v9.6M732.3 909.9h9.6M707.9 911.6v9.6M703.1 916.4h9.6M727.1 918.9v9.6M722.3 923.7h9.6M689.1 924v9.6M684.3 928.8h9.6M706.8 919.6v9.6M702 924.4h9.6M706.2 907.3v9.6M701.4 912.1h9.6M718.5 908.8v9.6M713.7 913.6h9.6M689.9 922.8v9.6M685.1 927.6h9.6M708.2 922.1v9.6M703.4 926.9h9.6M726.3 916.4v9.6M721.5 921.2h9.6M557.8 1013.4v9.6M553 1018.2h9.6M611.6 1006.8v9.6M606.8 1011.6h9.6M603.1 1003.1v9.6M598.3 1007.9h9.6M621.6 1014v9.6M616.8 1018.8h9.6M549 1030.2v9.6M544.2 1035h9.6M541.4 1023.2v9.6M536.6 1028h9.6M567.9 1028.4v9.6M563.1 1033.2h9.6M578.8 1024.5v9.6M574 1029.3h9.6M565.2 1019.8v9.6M560.4 1024.6h9.6M566.5 1030.4v9.6M561.7 1035.2h9.6M577.6 1029.3v9.6M572.8 1034.1h9.6M572.5 1026.7v9.6M567.7 1031.5h9.6M594.4 1028.1v9.6M589.6 1032.9h9.6M595.7 1022.8v9.6M590.9 1027.6h9.6M584.6 1017v9.6M579.8 1021.8h9.6M610.6 1031.5v9.6M605.8 1036.3h9.6M617.7 1033.8v9.6M612.9 1038.6h9.6M607.5 1030.2v9.6M602.7 1035h9.6M632.6 1032.7v9.6M627.8 1037.5h9.6M551.3 1041.3v9.6M546.5 1046.1h9.6M542.8 1034.3v9.6M538 1039.1h9.6M578.8 1038.1v9.6M574 1042.9h9.6M589.9 1040.5v9.6M585.1 1045.3h9.6M582.2 1035.7v9.6M577.4 1040.5h9.6M588.3 1044.9v9.6M583.5 1049.7h9.6M614.8 1041.1v9.6M610 1045.9h9.6M601.1 1038.5v9.6M596.3 1043.3h9.6M559.7 1050.3v9.6M554.9 1055.1h9.6M576.6 1050.6v9.6M571.8 1055.4h9.6M571.5 1044.7v9.6M566.7 1049.5h9.6M598.2 1053.7v9.6M593.4 1058.5h9.6M603.5 1049.8v9.6M598.7 1054.6h9.6M592.4 1046.1v9.6M587.6 1050.9h9.6M550.4 1052.9v9.6M545.6 1057.7h9.6M570.1 1062.1v9.6M565.3 1066.9h9.6M559.8 1055.2v9.6M555 1060h9.6M579.2 1065.2v9.6M574.4 1070h9.6M559.1 1068.2v9.6M554.3 1073h9.6M550.6 1063.5v9.6M545.8 1068.3h9.6M574.9 1033.1v9.6M570.1 1037.9h9.6M584 1026.5v9.6M579.2 1031.3h9.6M576.4 1023.9v9.6M571.6 1028.7h9.6M579.5 1043.4v9.6M574.7 1048.2h9.6M567.1 1043.7v9.6M562.3 1048.5h9.6M553.5 1037.8v9.6M548.7 1042.6h9.6M557.8 1052.3v9.6M553 1057.1h9.6M597 1017.9v9.6M592.2 1022.7h9.6M591.9 1014.2v9.6M587.1 1019h9.6" stroke="#ff0000" stroke-width="1.8" fill="none"/><path d="M759.5 826.4v9.6M754.7 831.2h9.6M758.5 830v9.6M753.7 834.8h9.6M757.4 833.6v9.6M752.6 838.4h9.6M756.2 837.3v9.6M751.4 842.1h9.6M754.8 840.9v9.6M750 845.7h9.6M753.4 844.6v9.6M748.6 849.4h9.6M750.7 848.2v9.6M745.9 853h9.6M747.6 851.1v9.6M742.8 855.9h9.6M744.6 854v9.6M739.8 858.8h9.6M741.5 857v9.6M736.7 861.8h9.6M728.3 865v9.6M723.5 869.8h9.6M727.2 869.4v9.6M722.4 874.2h9.6M737.4 872.3v9.6M732.6 877.1h9.6M721.1 875.2v9.6M716.3 880h9.6M717 879.6v9.6M712.2 884.4h9.6M734.4 877.4v9.6M729.6 882.2h9.6M724.2 884.7v9.6M719.4 889.5h9.6M663.9 913.1v9.6M659.1 917.9h9.6M672.1 918.9v9.6M667.3 923.7h9.6M667 924.7v9.6M662.2 929.5h9.6M676.2 916v9.6M671.4 920.8h9.6M680.3 911.6v9.6M675.5 916.4h9.6M758.9 828.2v9.6M754.1 833h9.6M756.8 835.4v9.6M752 840.2h9.6M755.4 839v9.6M750.6 843.8h9.6M752.1 846.3v9.6M747.3 851.1h9.6M749.1 849.7v9.6M744.3 854.5h9.6M746 852.6v9.6M741.2 857.4h9.6M664.2 913.7v9.6M659.4 918.5h9.6M671 918.6v9.6M666.2 923.4h9.6M666.1 924.8v9.6M661.3 929.6h9.6M673.9 915.8v9.6M669.1 920.6h9.6M676.8 936.6v9.6M672 941.4h9.6M655.5 936v9.6M650.7 940.8h9.6M652.5 940.1v9.6M647.7 944.9h9.6M638.9 941.5v9.6M634.1 946.3h9.6M634.1 945v9.6M629.3 949.8h9.6M650.6 947.7v9.6M645.8 952.5h9.6M637 949.1v9.6M632.2 953.9h9.6M647.7 952.6v9.6M642.9 957.4h9.6M640.9 956.1v9.6M636.1 960.9h9.6M642.8 960.9v9.6M638 965.7h9.6M621.4 960.9v9.6M616.6 965.7h9.6M616.6 964.4v9.6M611.8 969.2h9.6M638.9 967.2v9.6M634.1 972h9.6M635 972.7v9.6M630.2 977.5h9.6M630.2 976.9v9.6M625.4 981.7h9.6M623.4 979.7v9.6M618.6 984.5h9.6M619.5 983.1v9.6M614.7 987.9h9.6M614.6 985.2v9.6M609.8 990h9.6M603.9 976.9v9.6M599.1 981.7h9.6M596.2 981.1v9.6M591.4 985.9h9.6M585.5 982.4v9.6M580.7 987.2h9.6M577.7 988v9.6M572.9 992.8h9.6M594.2 989.4v9.6M589.4 994.2h9.6M607.8 990.1v9.6M603 994.9h9.6M611.7 988v9.6M606.9 992.8h9.6M599.1 993.5v9.6M594.3 998.3h9.6M592.3 999.1v9.6M587.5 1003.9h9.6M599.1 998.4v9.6M594.3 1003.2h9.6M589.4 1004.6v9.6M584.6 1009.4h9.6M591.3 1009.5v9.6M586.5 1014.3h9.6M582.6 1014.4v9.6M577.8 1019.2h9.6M577.7 1018.5v9.6M572.9 1023.3h9.6M671 974.1v9.6M666.2 978.9h9.6M676.8 980.4v9.6M672 985.2h9.6M651.6 989.4v9.6M646.8 994.2h9.6M665.2 988.7v9.6M660.4 993.5h9.6M657.4 1006.7v9.6M652.6 1011.5h9.6M656.4 1017.8v9.6M651.6 1022.6h9.6M522.3 1042.1v9.6M517.5 1046.9h9.6M504.8 1047v9.6M500 1051.8h9.6M644.8 957.5v9.6M640 962.3h9.6M632.1 969.3v9.6M627.3 974.1h9.6M627.3 974.1v9.6M622.5 978.9h9.6M605.9 985.2v9.6M601.1 990h9.6M602 996.3v9.6M597.2 1001.1h9.6M595.2 1003.3v9.6M590.4 1008.1h9.6M586.4 1010.2v9.6M581.6 1015h9.6M679.8 913.4v9.6M675 918.2h9.6M671.3 921.4v9.6M666.5 926.2h9.6M661.9 927.3v9.6M657.1 932.1h9.6M677 913.8v9.6M672.2 918.6h9.6M665.9 921.2v9.6M661.1 926h9.6M673.8 919.4v9.6M669 924.2h9.6M682.8 932.6v9.6M678 937.4h9.6M663.1 931.2v9.6M658.3 936h9.6M650.3 938.5v9.6M645.5 943.3h9.6M656.8 934.6v9.6M652 939.4h9.6M644.9 938.2v9.6M640.1 943h9.6M633.8 944.1v9.6M629 948.9h9.6M641.7 940.9v9.6M636.9 945.7h9.6M654.9 943v9.6M650.1 947.8h9.6M645.5 950.3v9.6M640.7 955.1h9.6M643 943.6v9.6M638.2 948.4h9.6M655.4 949.3v9.6M650.6 954.1h9.6M642.6 955.2v9.6M637.8 960h9.6M645.1 952v9.6M640.3 956.8h9.6M648.8 956.2v9.6M644 961h9.6M637.7 963.5v9.6M632.9 968.3h9.6M629.1 955.4v9.6M624.3 960.2h9.6M620.8 961.1v9.6M616 965.9h9.6M611.5 967v9.6M606.7 971.8h9.6M644.9 963.2v9.6M640.1 968h9.6M642.7 968v9.6M637.9 972.8h9.6M629.9 975.3v9.6M625.1 980.1h9.6M634.4 971.4v9.6M629.6 976.2h9.6M629.3 976.4v9.6M624.5 981.2h9.6M618.3 982.2v9.6M613.5 987h9.6M627.2 979.1v9.6M622.4 983.9h9.6M618.9 980.5v9.6M614.1 985.3h9.6M609.5 987.8v9.6M604.7 992.6h9.6M609.9 971.4v9.6M605.1 976.2h9.6M603.8 977.8v9.6M599 982.6h9.6M591.1 983.6v9.6M586.3 988.4h9.6M589.7 978.4v9.6M584.9 983.2h9.6M583.7 983.2v9.6M578.9 988h9.6M572.6 990.6v9.6M567.8 995.4h9.6M601.9 983.9v9.6M597.1 988.7h9.6M612.1 986.8v9.6M607.3 991.6h9.6M602.7 992.6v9.6M597.9 997.4h9.6M617.7 984v9.6M612.9 988.8h9.6M606.8 988.8v9.6M602 993.6h9.6M594 996.1v9.6M589.2 1000.9h9.6M596.5 993.6v9.6M591.7 998.4h9.6M605.1 995.1v9.6M600.3 999.9h9.6M594 1001v9.6M589.2 1005.8h9.6M597 1000.6v9.6M592.2 1005.4h9.6M595.6 1004.7v9.6M590.8 1009.5h9.6M586.2 1012.1v9.6M581.4 1016.9h9.6M588.5 1008.9v9.6M583.7 1013.7h9.6M675.3 970.1v9.6M670.5 974.9h9.6M682.8 975.6v9.6M678 980.4h9.6M671.7 982.9v9.6M666.9 987.7h9.6M659.2 983.9v9.6M654.4 988.7h9.6M669.4 985.4v9.6M664.6 990.2h9.6M660.1 991.3v9.6M655.3 996.1h9.6M663.4 1002.7v9.6M658.6 1007.5h9.6M652.4 953.4v9.6M647.6 958.2h9.6M636.4 964.5v9.6M631.6 969.3h9.6M627 971.8v9.6M622.2 976.6h9.6M633.2 968.6v9.6M628.4 973.4h9.6M613.6 981.9v9.6M608.8 986.7h9.6M600.8 987.8v9.6M596 992.6h9.6M606.3 992.3v9.6M601.5 997.1h9.6M601.2 998.5v9.6M596.4 1003.3h9.6M590.1 1005.8v9.6M585.3 1010.6h9.6M594.1 1004.7v9.6M589.3 1009.5h9.6" stroke="#00ff00" stroke-width="1.8" fill="none"/><path d="M685.6 974.8v9.6M680.8 979.6h9.6M694.3 978.3v9.6M689.5 983.1h9.6M689.5 985.2v9.6M684.7 990h9.6" stroke="#ff00ff" stroke-width="1.8" fill="none"/><rect x="491.9" y="741.5" width="298.4" height="365.5" fill="none" stroke="#222" stroke-width="1"/><path d="M534.5 1107v-3M534.5 741.5v3M577.2 1107v-3M577.2 741.5v3M619.8 1107v-3M619.8 741.5v3M662.4 1107v-3M662.4 741.5v3M705 1107v-3M705 741.5v3M747.7 1107v-3M747.7 741.5v3M491.9 778.1h3M790.3 778.1h-3M491.9 814.7h3M790.3 814.7h-3M491.9 851.3h3M790.3 851.3h-3M491.9 887.9h3M790.3 887.9h-3M491.9 924.5h3M790.3 924.5h-3M491.9 961.1h3M790.3 961.1h-3M491.9 997.7h3M790.3 997.7h-3M491.9 1034.3h3M790.3 1034.3h-3M491.9 1070.9h3M790.3 1070.9h-3" stroke="#222" stroke-width="1" fill="none"/><ellipse cx="760.3" cy="805.9" rx="29.7" ry="19.4" fill="none" stroke="#12a150" stroke-width="2.5"/><ellipse cx="727.8" cy="878.4" rx="17.8" ry="17.8" fill="none" stroke="#4048c8" stroke-width="2.5"/><ellipse cx="768.5" cy="877.6" rx="18.1" ry="19" fill="none" stroke="#00ffff" stroke-width="2.5"/><ellipse cx="702.4" cy="933" rx="15.5" ry="19" fill="none" stroke="#12a150" stroke-width="2.5"/><ellipse cx="722.2" cy="955.5" rx="50.7" ry="14.7" fill="none" stroke="#00ffff" stroke-width="2.5"/><ellipse cx="698.2" cy="978.2" rx="18.1" ry="9.3" fill="none" stroke="#12a150" stroke-width="2.5"/><ellipse cx="656.8" cy="1016.1" rx="22.7" ry="14.7" fill="none" stroke="#4048c8" stroke-width="2.5"/><ellipse cx="549.3" cy="1049.4" rx="14.7" ry="13.3" fill="none" stroke="#12a150" stroke-width="2.5"/><rect x="791.6" y="739.4" width="160.2" height="171" fill="#fff" stroke="#222" stroke-width="1.1"/><ellipse cx="816.2" cy="754" rx="2" ry="2.6" fill="#0000ff" /><ellipse cx="816.2" cy="778.9" rx="2" ry="2.6" fill="#edb120" /><ellipse cx="816.2" cy="802.9" rx="2" ry="2.6" fill="#00ffff" /><ellipse cx="816.2" cy="826.1" rx="2" ry="2.6" fill="#a2142f" /><path d="M816.2 845.5v9.2M811.6 850.1h9.2" stroke="#ff0000" stroke-width="1.3" fill="none"/><path d="M816.2 869.5v9.2M811.6 874.1h9.2" stroke="#00ff00" stroke-width="1.3" fill="none"/><path d="M816.2 893.6v9.2M811.6 898.2h9.2" stroke="#ff00ff" stroke-width="1.3" fill="none"/><text x="840.5" y="759.6" font-size="18" textLength="106.7" lengthAdjust="spacingAndGlyphs" class="lt">simulated granite</text><text x="840.5" y="784.5" font-size="18" textLength="101.5" lengthAdjust="spacingAndGlyphs" class="lt">simulated quartz</text><text x="840.5" y="808.5" font-size="18" textLength="95.5" lengthAdjust="spacingAndGlyphs" class="lt">simulated basic</text><text x="840.5" y="831.7" font-size="18" textLength="96.5" lengthAdjust="spacingAndGlyphs" class="lt">simulated aplite</text><text x="840.5" y="855.7" font-size="18" textLength="102" lengthAdjust="spacingAndGlyphs" class="lt">blasthole granite</text><text x="840.5" y="879.7" font-size="18" textLength="98.5" lengthAdjust="spacingAndGlyphs" class="lt">blasthole quartz</text><text x="840.5" y="903.8" font-size="18" textLength="92.5" lengthAdjust="spacingAndGlyphs" class="lt">blasthole basic</text><path d="M173.7 956.6C176.6 958.3 182.5 963.1 191.3 966.7C200.1 970.3 212.3 974.9 226.6 978C240.9 981.1 260.1 983.6 276.9 985.1C293.7 986.6 310.5 987 327.3 986.9C344.1 986.8 360.8 985.8 377.6 984.3C394.4 982.8 411.2 980.7 428 978C444.8 975.3 468.1 970.2 478.3 968C488.5 965.8 487.2 965.1 489 964.5L493.5 959.5L498.5 969L493.5 969.5C491 970.2 489.2 971 478.3 973.5C467.4 976 444.8 981.5 428 984.3C411.2 987.1 394.4 988.8 377.6 990.1C360.8 991.4 344.1 992 327.3 991.9C310.5 991.8 293.7 990.9 276.9 989.4C260.1 987.9 240.9 985.8 226.6 983.1C212.3 980.4 199.7 976.4 191.3 973C182.9 969.6 178.7 964.6 176.2 962.9Z" fill="#ff0000"/><text x="5" y="689" font-size="40" class="sf">(c)</text><text x="147.3" y="710.4" font-size="20.6" class="sf" text-anchor="middle">(i)</text><text x="653.6" y="718.8" font-size="22" class="sf" text-anchor="middle">(ii)</text><text x="51.6" y="741.6" font-size="16" text-anchor="end" textLength="27.7" lengthAdjust="spacingAndGlyphs" class="lt">7300</text><text x="51.6" y="802.3" font-size="16" text-anchor="end" textLength="27.7" lengthAdjust="spacingAndGlyphs" class="lt">6900</text><text x="51.6" y="879.1" font-size="16" text-anchor="end" textLength="27.7" lengthAdjust="spacingAndGlyphs" class="lt">6400</text><text x="51.6" y="940.8" font-size="16" text-anchor="end" textLength="27.7" lengthAdjust="spacingAndGlyphs" class="lt">6000</text><text x="51.6" y="1002.2" font-size="16" text-anchor="end" textLength="27.7" lengthAdjust="spacingAndGlyphs" class="lt">5600</text><text x="51.6" y="1064.4" font-size="16" text-anchor="end" textLength="27.7" lengthAdjust="spacingAndGlyphs" class="lt">5200</text><text x="51.6" y="1125.5" font-size="16" text-anchor="end" textLength="27.7" lengthAdjust="spacingAndGlyphs" class="lt">4800</text><text x="58.7" y="1141" font-size="16" text-anchor="middle" textLength="27.7" lengthAdjust="spacingAndGlyphs" class="lt">6000</text><text x="128.4" y="1141" font-size="16" text-anchor="middle" textLength="27.7" lengthAdjust="spacingAndGlyphs" class="lt">6500</text><text x="199.6" y="1141" font-size="16" text-anchor="middle" textLength="27.7" lengthAdjust="spacingAndGlyphs" class="lt">7000</text><text x="269.9" y="1141" font-size="16" text-anchor="middle" textLength="27.7" lengthAdjust="spacingAndGlyphs" class="lt">7500</text><text x="167.4" y="1164.8" font-size="18" text-anchor="middle" textLength="75.5" lengthAdjust="spacingAndGlyphs" class="lt">Easting (m)</text><text x="16.5" y="926.7" font-size="15" font-weight="bold" text-anchor="middle" textLength="108" lengthAdjust="spacingAndGlyphs" transform="rotate(-90 16.5 926.7)">Northing (m)</text><text x="483.4" y="750.1" font-size="16" text-anchor="end" textLength="29.9" lengthAdjust="spacingAndGlyphs" class="lt">6700</text><text x="483.4" y="786.7" font-size="16" text-anchor="end" textLength="29.9" lengthAdjust="spacingAndGlyphs" class="lt">6600</text><text x="483.4" y="823.3" font-size="16" text-anchor="end" textLength="29.9" lengthAdjust="spacingAndGlyphs" class="lt">6500</text><text x="483.4" y="859.9" font-size="16" text-anchor="end" textLength="29.9" lengthAdjust="spacingAndGlyphs" class="lt">6400</text><text x="483.4" y="896.5" font-size="16" text-anchor="end" textLength="29.9" lengthAdjust="spacingAndGlyphs" class="lt">6300</text><text x="483.4" y="933.1" font-size="16" text-anchor="end" textLength="29.9" lengthAdjust="spacingAndGlyphs" class="lt">6200</text><text x="483.4" y="969.7" font-size="16" text-anchor="end" textLength="29.9" lengthAdjust="spacingAndGlyphs" class="lt">6100</text><text x="483.4" y="1006.3" font-size="16" text-anchor="end" textLength="29.9" lengthAdjust="spacingAndGlyphs" class="lt">6000</text><text x="483.4" y="1042.9" font-size="16" text-anchor="end" textLength="29.9" lengthAdjust="spacingAndGlyphs" class="lt">5900</text><text x="483.4" y="1079.5" font-size="16" text-anchor="end" textLength="29.9" lengthAdjust="spacingAndGlyphs" class="lt">5800</text><text x="483.4" y="1116.1" font-size="16" text-anchor="end" textLength="29.9" lengthAdjust="spacingAndGlyphs" class="lt">5700</text><text x="491.9" y="1131.2" font-size="16" text-anchor="middle" textLength="29.9" lengthAdjust="spacingAndGlyphs" class="lt">6750</text><text x="534.5" y="1131.2" font-size="16" text-anchor="middle" textLength="29.9" lengthAdjust="spacingAndGlyphs" class="lt">6800</text><text x="577.2" y="1131.2" font-size="16" text-anchor="middle" textLength="29.9" lengthAdjust="spacingAndGlyphs" class="lt">6850</text><text x="619.8" y="1131.2" font-size="16" text-anchor="middle" textLength="29.9" lengthAdjust="spacingAndGlyphs" class="lt">6900</text><text x="662.4" y="1131.2" font-size="16" text-anchor="middle" textLength="29.9" lengthAdjust="spacingAndGlyphs" class="lt">6950</text><text x="705" y="1131.2" font-size="16" text-anchor="middle" textLength="29.9" lengthAdjust="spacingAndGlyphs" class="lt">7000</text><text x="747.7" y="1131.2" font-size="16" text-anchor="middle" textLength="29.9" lengthAdjust="spacingAndGlyphs" class="lt">7050</text><text x="790.3" y="1131.2" font-size="16" text-anchor="middle" textLength="29.9" lengthAdjust="spacingAndGlyphs" class="lt">7100</text><text x="640.8" y="1156.3" font-size="18" text-anchor="middle" textLength="83.3" lengthAdjust="spacingAndGlyphs" class="lt">Easting (m)</text><text x="446" y="926" font-size="15" font-weight="bold" text-anchor="middle" textLength="109.5" lengthAdjust="spacingAndGlyphs" transform="rotate(-90 446 926)">Northing (m)</text><clipPath id="cz"><rect x="300" y="1000" width="140" height="98.9"/></clipPath><g clip-path="url(#cz)"><text x="307.7" y="1024.6" font-size="16" class="sf" textLength="73" lengthAdjust="spacingAndGlyphs">Zoomed</text><text x="307.7" y="1049.8" font-size="16" class="sf" textLength="64.5" lengthAdjust="spacingAndGlyphs">view of</text><text x="307.7" y="1075" font-size="16" class="sf" textLength="90.1" lengthAdjust="spacingAndGlyphs">validation</text><text x="307.7" y="1100.6" font-size="16" class="sf" textLength="41" lengthAdjust="spacingAndGlyphs">zone</text></g><text x="457.5" y="1192.2" font-size="16" class="sf" textLength="134" lengthAdjust="spacingAndGlyphs">Misclassification</text><text x="457.5" y="1214.9" font-size="16" class="sf" textLength="74" lengthAdjust="spacingAndGlyphs">of quartz</text><clipPath id="cm"><rect x="600" y="1170" width="142.6" height="60"/></clipPath><g clip-path="url(#cm)"><text x="609.3" y="1192.2" font-size="16" class="sf" textLength="136" lengthAdjust="spacingAndGlyphs">Misclassification</text><text x="609.3" y="1214.9" font-size="16" class="sf" textLength="79" lengthAdjust="spacingAndGlyphs">of granite</text></g><text x="760.1" y="1199.4" font-size="16" class="sf" textLength="158.8" lengthAdjust="spacingAndGlyphs">Misclassification of</text><text x="760.1" y="1232.2" font-size="16" class="sf" textLength="40.8" lengthAdjust="spacingAndGlyphs">basic</text><line x1="741.7" y1="807.4" x2="559.9" y2="1146.5" stroke="#12a150" stroke-width="3.4"/><polygon points="553.3,1158.8 554.5,1141.3 567.2,1148.1" fill="#12a150" /><line x1="702.2" y1="931.5" x2="563" y2="1145.8" stroke="#12a150" stroke-width="3.4"/><polygon points="555.4,1157.5 558,1140.1 570.2,1148" fill="#12a150" /><line x1="687.5" y1="989.4" x2="566.7" y2="1145.1" stroke="#12a150" stroke-width="3.4"/><polygon points="558.1,1156.2 562.2,1139.1 573.6,1148" fill="#12a150" /><line x1="538.1" y1="1053.4" x2="549.6" y2="1144.9" stroke="#12a150" stroke-width="3.4"/><polygon points="551.4,1158.8 542.2,1143.8 556.6,1142" fill="#12a150" /><line x1="731.6" y1="880.8" x2="671.9" y2="1157.1" stroke="#1470c0" stroke-width="3.4"/><polygon points="668.9,1170.8 665.2,1153.6 679.4,1156.7" fill="#1470c0" /><line x1="642.2" y1="1020.1" x2="666.5" y2="1157" stroke="#1470c0" stroke-width="3.4"/><polygon points="668.9,1170.8 659,1156.3 673.2,1153.8" fill="#1470c0" /><line x1="779.1" y1="883.5" x2="779.6" y2="1156.8" stroke="#12a8ea" stroke-width="4.2"/><polygon points="779.6,1170.8 772.3,1154.8 786.8,1154.8" fill="#12a8ea" /><line x1="731.6" y1="960" x2="776.5" y2="1157.1" stroke="#3a9ae8" stroke-width="3.4"/><polygon points="779.6,1170.8 769,1156.8 783.1,1153.6" fill="#3a9ae8" /><circle cx="923.2" cy="993.7" r="1.8" fill="none" stroke="#00ffff" stroke-width="1"/>
<clipPath id="cd"><rect x="1088.4" y="733.8" width="234.9" height="384.7"/></clipPath><g clip-path="url(#cd)"><polygon points="1161.6,748.3 1187.6,748.3 1200.6,757.4 1210.6,756.6 1218.5,755.8 1228.5,752.4 1240.5,760.8 1257.5,748.3 1287.5,748.3 1311.5,784.9 1311.5,909.7 1304.5,920.6 1298.5,945.6 1285.5,962.2 1285.5,1008.8 1278.5,1003.8 1262.5,994.7 1246.5,1006.3 1239.5,1006.3 1239.5,1013.8 1230.5,1033.8 1230.5,1043.8 1206.6,1068.7 1190.6,1068.7 1185.6,1070.4 1168.6,1102.8 1132.6,1102.8 1113.6,1087 1089.7,1058.7 1089.7,1050.4 1107.7,1047.1 1108.7,1037.1 1114.6,1013.8 1114.6,1003 1136.6,1000.5 1156.6,979.7 1179.6,972.2 1185.6,967.2 1185.6,945.6 1194.6,945.6 1200.6,937.3 1210.6,924.6 1220.5,908 1227.5,898 1218.5,891.4 1218.5,854.8 1214.5,838.1 1184.6,802.3 1169.6,814 1155.6,814 1146.6,806.5 1132.6,806.5 1120.6,804.8 1120.6,781.5" fill="#0000ff" /><g fill="#ff0000"><circle cx="1168.6" cy="750.8" r="2.9"/><circle cx="1172.2" cy="770.7" r="2.9"/><circle cx="1167.6" cy="779.1" r="2.9"/><circle cx="1133.6" cy="783.5" r="2.9"/><circle cx="1148.2" cy="783.5" r="2.9"/><circle cx="1120.6" cy="792.4" r="2.9"/><circle cx="1161.2" cy="789.5" r="2.9"/><circle cx="1242.9" cy="768.6" r="2.9"/><circle cx="1244.9" cy="778.6" r="2.9"/><circle cx="1230.5" cy="782.4" r="2.9"/><circle cx="1210" cy="788.2" r="2.9"/><circle cx="1200.2" cy="798.2" r="2.9"/><circle cx="1227.9" cy="795.7" r="2.9"/><circle cx="1218.9" cy="806.5" r="2.9"/><circle cx="1222.5" cy="811.8" r="2.9"/><circle cx="1242.9" cy="811.5" r="2.9"/><circle cx="1265.5" cy="809.8" r="2.9"/><circle cx="1283.5" cy="767.4" r="2.9"/><circle cx="1302.1" cy="768.6" r="2.9"/><circle cx="1287.1" cy="799.8" r="2.9"/><circle cx="1274.5" cy="821" r="2.9"/><circle cx="1296.1" cy="815.7" r="2.9"/><circle cx="1244.1" cy="826.8" r="2.9"/><circle cx="1226.9" cy="830.6" r="2.9"/><circle cx="1226.9" cy="839.8" r="2.9"/><circle cx="1274.5" cy="840.9" r="2.9"/><circle cx="1309.5" cy="839.8" r="2.9"/><circle cx="1218.9" cy="856.1" r="2.9"/><circle cx="1229.5" cy="856.1" r="2.9"/><circle cx="1258.5" cy="856.4" r="2.9"/><circle cx="1279.5" cy="856.1" r="2.9"/><circle cx="1302.9" cy="854.8" r="2.9"/><circle cx="1220.5" cy="870.1" r="2.9"/><circle cx="1287.1" cy="870.1" r="2.9"/><circle cx="1295.5" cy="870.1" r="2.9"/><circle cx="1300.5" cy="870.1" r="2.9"/><circle cx="1285.5" cy="882.2" r="2.9"/><circle cx="1302.1" cy="881" r="2.9"/><circle cx="1267.5" cy="885" r="2.9"/><circle cx="1217.9" cy="890.9" r="2.9"/><circle cx="1252.5" cy="841.4" r="2.9"/><circle cx="1274.5" cy="933.1" r="2.9"/><circle cx="1286.1" cy="938.1" r="2.9"/><circle cx="1262.9" cy="953.1" r="2.9"/><circle cx="1248.5" cy="972.2" r="2.9"/><circle cx="1225.5" cy="968.1" r="2.9"/><circle cx="1240.5" cy="964.7" r="2.9"/><circle cx="1187.6" cy="965.6" r="2.9"/><circle cx="1193" cy="948.1" r="2.9"/><circle cx="1157.6" cy="979.7" r="2.9"/><circle cx="1169" cy="978" r="2.9"/><circle cx="1151.2" cy="988.9" r="2.9"/><circle cx="1193" cy="989.7" r="2.9"/><circle cx="1205" cy="988" r="2.9"/><circle cx="1242.5" cy="988.9" r="2.9"/><circle cx="1248.5" cy="996.3" r="2.9"/><circle cx="1177.6" cy="1001.3" r="2.9"/><circle cx="1134.2" cy="1007.5" r="2.9"/><circle cx="1150.6" cy="1008.8" r="2.9"/><circle cx="1170" cy="1009.7" r="2.9"/><circle cx="1185.6" cy="1011.3" r="2.9"/><circle cx="1195.6" cy="1005.5" r="2.9"/><circle cx="1121" cy="1015.1" r="2.9"/><circle cx="1142.2" cy="1020.1" r="2.9"/><circle cx="1159.2" cy="1020.1" r="2.9"/><circle cx="1206.6" cy="1015.5" r="2.9"/><circle cx="1210.6" cy="1018.8" r="2.9"/><circle cx="1198.2" cy="1023.8" r="2.9"/><circle cx="1130.6" cy="1028.8" r="2.9"/><circle cx="1110.6" cy="1027.1" r="2.9"/><circle cx="1137.2" cy="1038.8" r="2.9"/><circle cx="1176" cy="1037.9" r="2.9"/><circle cx="1197.6" cy="1036.3" r="2.9"/><circle cx="1158.6" cy="1042.9" r="2.9"/><circle cx="1107.3" cy="1047.9" r="2.9"/><circle cx="1123.6" cy="1046.3" r="2.9"/><circle cx="1092.3" cy="1054.2" r="2.9"/><circle cx="1146.2" cy="1051.2" r="2.9"/><circle cx="1221.5" cy="1046.3" r="2.9"/><circle cx="1209.2" cy="1050.1" r="2.9"/><circle cx="1100.7" cy="1062.9" r="2.9"/><circle cx="1133" cy="1057.9" r="2.9"/><circle cx="1154.2" cy="1062.1" r="2.9"/><circle cx="1170" cy="1058.7" r="2.9"/><circle cx="1190" cy="1056.2" r="2.9"/><circle cx="1197.6" cy="1065.4" r="2.9"/><circle cx="1140.6" cy="1068.7" r="2.9"/><circle cx="1176.6" cy="1067.4" r="2.9"/><circle cx="1163" cy="1076.2" r="2.9"/><circle cx="1113.6" cy="1084.5" r="2.9"/><circle cx="1150.6" cy="1084.5" r="2.9"/><circle cx="1173" cy="1089" r="2.9"/><circle cx="1158.6" cy="1095.3" r="2.9"/><circle cx="1143.6" cy="1100.3" r="2.9"/></g><ellipse cx="1221.6" cy="902.8" rx="3.5" ry="6.9" fill="#edb120" /><ellipse cx="1238" cy="866.6" rx="3.5" ry="10.4" fill="#edb120" /><rect x="1178.3" y="1018.9" width="10.6" height="12.6" rx="3.7" fill="#edb120"/><rect x="1146.1" y="1028.5" width="9.3" height="10.6" rx="3.2" fill="#edb120"/><polygon points="1181,977.7 1197.4,967.3 1200.9,974.2 1197.4,982 1187,984.6" fill="#edb120" stroke="#edb120" stroke-width="3" stroke-linejoin="round"/><polygon points="1156.8,998.4 1171.5,988.9 1173.2,996.7 1169.8,1006.2 1161.1,1007.9" fill="#edb120" stroke="#edb120" stroke-width="3" stroke-linejoin="round"/><polygon points="1280.3,1001.9 1284.1,1001.9 1284.1,1008.4" fill="#edb120" stroke="#edb120" stroke-width="3" stroke-linejoin="round"/><g fill="#ff00ff"><circle cx="1236.5" cy="800.7" r="2.9"/><circle cx="1295.5" cy="913.8" r="2.9"/><circle cx="1168" cy="992.5" r="2.9"/><circle cx="1150.6" cy="1030.8" r="2.9"/><circle cx="1193" cy="975.5" r="2.9"/><circle cx="1208.6" cy="968.9" r="2.9"/></g><rect x="1157" y="765" width="8.3" height="11.6" rx="2.9" fill="#00ffff"/><rect x="1207.1" y="790.8" width="11.6" height="9.9" rx="3.5" fill="#00ffff"/><rect x="1246.9" y="860.8" width="11.6" height="14.9" rx="4.1" fill="#00ffff"/><ellipse cx="1264.7" cy="868.3" rx="3.5" ry="5.2" fill="#00ffff" /><rect x="1286.6" y="836" width="13.3" height="24.9" rx="4.6" fill="#00ffff"/><polygon points="1198.3,759.5 1212.1,759.5 1217.3,769.9 1211.2,775.9 1204.3,782.8 1194.8,781.1 1193.1,771.6" fill="#00ffff" stroke="#00ffff" stroke-width="3" stroke-linejoin="round"/><polygon points="1259.6,750.9 1267.3,759.5 1271.6,769.9 1285.5,774.2 1295,778.9 1287.2,784.6 1275.1,793.2 1266.5,801 1259.6,811.3 1259.6,826 1253.5,827.7 1250.9,818.2 1252.7,807.9 1246.6,797.5 1248.3,787.2 1254.4,776.8 1253.5,759.5" fill="#00ffff" stroke="#00ffff" stroke-width="3" stroke-linejoin="round"/><polygon points="1250.9,881.2 1256.1,889 1259.6,901.1 1262.1,914.9 1256.1,927.9 1246.6,924.4 1241.4,918.4 1245.7,908 1249.2,894.2 1247.5,885.6" fill="#00ffff" stroke="#00ffff" stroke-width="3" stroke-linejoin="round"/><polygon points="1289.8,898.5 1300.1,898.5 1300.1,908 1292.4,914.1 1282.9,914.1 1281.1,908" fill="#00ffff" stroke="#00ffff" stroke-width="3" stroke-linejoin="round"/><rect x="1109.6" y="1020.3" width="11.6" height="14.9" rx="4.1" fill="#00ffff"/><rect x="1214.9" y="976.2" width="9.9" height="13.3" rx="3.5" fill="#00ffff"/><rect x="1197.7" y="995.2" width="13.3" height="9.9" rx="3.5" fill="#00ffff"/><rect x="1111.6" y="1057.4" width="9.3" height="13.3" rx="3.2" fill="#00ffff"/><rect x="1123.4" y="1073.8" width="9.9" height="13.3" rx="3.5" fill="#00ffff"/><rect x="1249.4" y="938.3" width="8.3" height="13.3" rx="2.9" fill="#00ffff"/><rect x="1247.7" y="920.9" width="9.9" height="9.9" rx="3.5" fill="#00ffff"/><polygon points="1271.6,958.7 1284.6,957.8 1284.1,1001.9 1270.8,993.2 1275.1,982.9 1268.2,981.1 1268.2,972.5" fill="#00ffff" stroke="#00ffff" stroke-width="3" stroke-linejoin="round"/><rect x="1245.4" y="785.8" width="9.3" height="16.6" rx="3.2" fill="#edb120"/><ellipse cx="1263" cy="791.5" rx="5.5" ry="3.8" fill="#edb120" /><ellipse cx="1274.2" cy="772.5" rx="5.2" ry="3.1" fill="#edb120" /><ellipse cx="1254.4" cy="810.5" rx="3.1" ry="4.3" fill="#edb120" /><ellipse cx="1289.8" cy="845.9" rx="2.8" ry="9.5" fill="#edb120" /><ellipse cx="1199.1" cy="782.3" rx="4.3" ry="2.4" fill="#edb120" /><ellipse cx="1159.1" cy="774.2" rx="2.4" ry="3.8" fill="#edb120" /><ellipse cx="1211.6" cy="793.2" rx="2.8" ry="2.4" fill="#edb120" /><ellipse cx="1269.9" cy="765.6" rx="2.1" ry="3.1" fill="#edb120" /><ellipse cx="1252.7" cy="821.7" rx="2.1" ry="3.5" fill="#edb120" /><ellipse cx="1295.8" cy="844.1" rx="1.7" ry="5.2" fill="#edb120" /><ellipse cx="1121.4" cy="1070.1" rx="3.5" ry="8.6" fill="#edb120" /><rect x="1269.6" y="969.1" width="9.3" height="8.6" rx="3" fill="#edb120"/><g fill="#008000"><circle cx="1159.6" cy="764.9" r="2.9"/><circle cx="1206.2" cy="767.1" r="2.9"/><circle cx="1183.6" cy="784.9" r="2.9"/><circle cx="1259.1" cy="762.4" r="2.9"/><circle cx="1285.5" cy="781" r="2.9"/><circle cx="1251.1" cy="791" r="2.9"/><circle cx="1268.1" cy="793.2" r="2.9"/><circle cx="1304.9" cy="813.2" r="2.9"/><circle cx="1287.1" cy="818.5" r="2.9"/><circle cx="1256.1" cy="824.8" r="2.9"/><circle cx="1291.1" cy="856.1" r="2.9"/><circle cx="1250.5" cy="868.9" r="2.9"/><circle cx="1248.5" cy="880.5" r="2.9"/><circle cx="1289.5" cy="883.9" r="2.9"/><circle cx="1263.5" cy="900.5" r="2.9"/><circle cx="1280.5" cy="900.5" r="2.9"/><circle cx="1251.5" cy="923.8" r="2.9"/><circle cx="1272.5" cy="975.9" r="2.9"/><circle cx="1260.9" cy="983.5" r="2.9"/><circle cx="1179.6" cy="988.9" r="2.9"/><circle cx="1202.2" cy="998.5" r="2.9"/><circle cx="1279.5" cy="1001.3" r="2.9"/><circle cx="1116.2" cy="1007.2" r="2.9"/><circle cx="1221.5" cy="1030.8" r="2.9"/><circle cx="1116.2" cy="1062.1" r="2.9"/></g><ellipse cx="1264.7" cy="868.3" rx="1.7" ry="2.6" fill="#a2142f" /><polygon points="1258.7,913.2 1273.4,911.5 1278.5,915.8 1291.5,917 1289.8,921.5 1273.4,923.2 1266.5,932.2 1263,945 1236.2,945 1236.2,927.9 1245.7,930.5 1257.8,927" fill="#a2142f" stroke="#a2142f" stroke-width="3" stroke-linejoin="round"/><polygon points="1236.2,929.4 1261.3,911.2 1269.1,916.4 1265.6,931.1 1250.9,944 1241.4,945.8" fill="#a2142f" stroke="#a2142f" stroke-width="3" stroke-linejoin="round"/><g fill="#00ffff"><circle cx="1161.2" cy="774.6" r="2.9"/><circle cx="1264.5" cy="868.9" r="2.9"/><circle cx="1294.1" cy="902.2" r="2.9"/><circle cx="1264.5" cy="911.3" r="2.9"/><circle cx="1282.5" cy="912.2" r="2.9"/><circle cx="1258.5" cy="927.1" r="2.9"/><circle cx="1258.5" cy="927.3" r="2.9"/><circle cx="1235.5" cy="936.4" r="2.9"/></g><path d="M1248 835.3v9M1243.5 839.8h9M1246 839.9v9M1241.5 844.4h9M1248.5 839.9v9M1244 844.4h9M1246.3 842v9M1241.8 846.5h9M1249 842.9v9M1244.5 847.4h9M1247.2 844.7v9M1242.7 849.2h9M1247.7 846.2v9M1243.2 850.7h9M1247.9 847.7v9M1243.4 852.2h9M1247.7 849.3v9M1243.2 853.8h9M1247.6 850.8v9M1243.1 855.3h9M1247.4 852.3v9M1242.9 856.8h9M1247.1 853.8v9M1242.6 858.3h9M1246.8 855.3v9M1242.3 859.8h9M1246.7 856.8v9M1242.2 861.3h9M1246.9 858.6v9M1242.4 863.1h9M1242.8 878.3v9M1238.3 882.8h9M1236.9 883.5v9M1232.4 888h9M1241.5 884.7v9M1237 889.2h9M1244.2 884.7v9M1239.7 889.2h9M1238 887.4v9M1233.5 891.9h9M1237.4 888.9v9M1232.9 893.4h9M1236.9 890.1v9M1232.4 894.6h9M1240.6 889.2v9M1236.1 893.7h9M1242.6 890.1v9M1238.1 894.6h9M1244 889.8v9M1239.5 894.3h9M1236 891.3v9M1231.5 895.8h9M1238.2 891.6v9M1233.7 896.1h9M1239 893.2v9M1234.5 897.7h9M1242.4 894.1v9M1237.9 898.6h9M1235.5 893.5v9M1231 898h9M1236.2 895v9M1231.7 899.5h9M1239.4 895.3v9M1234.9 899.8h9M1243.1 894.7v9M1238.6 899.2h9M1236.6 896.8v9M1232.1 901.3h9M1240.6 899.2v9M1236.1 903.7h9M1234.8 900.7v9M1230.3 905.2h9M1236.4 900.7v9M1231.9 905.2h9M1248.2 846.5v9M1243.7 851h9M1247.5 848.5v9M1243 853h9M1247.3 853.1v9M1242.8 857.6h9M1247 856.2v9M1242.5 860.7h9M1236.3 895.6v9M1231.8 900.1h9M1239.1 895.6v9M1234.6 900.1h9M1234.9 900.8v9M1230.4 905.3h9M1236.6 899.9v9M1232.1 904.4h9M1240.5 899.4v9M1236 903.9h9M1235.8 909.7v9M1231.3 914.2h9M1212.5 933.7v9M1208 938.2h9M1210.8 937.7v9M1206.3 942.2h9M1220.6 935.4v9M1216.1 939.9h9M1221.4 938.9v9M1216.9 943.4h9M1209.3 943.8v9M1204.8 948.3h9M1213 943.5v9M1208.5 948h9M1214 942.3v9M1209.5 946.8h9M1212.3 945.2v9M1207.8 949.7h9M1214.7 945.2v9M1210.2 949.7h9M1216.7 942.9v9M1212.2 947.4h9M1217.4 941.2v9M1212.9 945.7h9M1220.4 945.2v9M1215.9 949.7h9M1220.7 946.6v9M1216.2 951.1h9M1223.8 946.6v9M1219.3 951.1h9M1210.1 948.4v9M1205.6 952.9h9M1214 947.5v9M1209.5 952h9M1216.4 948.9v9M1211.9 953.4h9M1216.5 951.2v9M1212 955.7h9M1220.2 950.1v9M1215.7 954.6h9M1211.1 952.1v9M1206.6 956.6h9M1214.5 952.7v9M1210 957.2h9M1217.4 954.4v9M1212.9 958.9h9M1218.7 953.3v9M1214.2 957.8h9M1209.9 955v9M1205.4 959.5h9M1212.5 957v9M1208 961.5h9M1214.5 958.7v9M1210 963.2h9M1211.5 960.5v9M1207 965h9M1213.3 946.3v9M1208.8 950.8h9M1215.3 944v9M1210.8 948.5h9M1215 949.2v9M1210.5 953.7h9M1212 949.8v9M1207.5 954.3h9M1210.8 953.8v9M1206.3 958.3h9M1218 940v9M1213.5 944.5h9M1237.1 882.2v9M1232.6 886.7h9M1240.9 884.1v9M1236.4 888.6h9M1245.1 884.7v9M1240.6 889.2h9M1238.1 888v9M1233.6 892.5h9M1236.9 887.7v9M1232.4 892.2h9M1237.8 889.5v9M1233.3 894h9M1240.8 889.2v9M1236.3 893.7h9M1242 890.7v9M1237.5 895.2h9M1244.9 888.6v9M1240.4 893.1h9M1236.2 890.7v9M1231.7 895.2h9M1237.6 891.6v9M1233.1 896.1h9M1239.9 893.8v9M1235.4 898.3h9M1242.6 892.8v9M1238.1 897.3h9M1234.9 892.8v9M1230.4 897.3h9M1237.1 895v9M1232.6 899.5h9M1239.5 895.9v9M1235 900.4h9M1242.5 893.4v9M1238 897.9h9M1237.4 896.2v9M1232.9 900.7h9M1240.8 899.2v9M1236.3 903.7h9M1234.2 901.3v9M1229.7 905.8h9M1237.3 899.5v9M1232.8 904h9M1237.2 894.4v9M1232.7 898.9h9M1239.3 895v9M1234.8 899.5h9M1234.3 900.8v9M1229.8 905.3h9M1237.5 900.6v9M1233 905.1h9M1240.6 898.1v9M1236.1 902.6h9M1211.4 938.5v9M1206.9 943h9M1220.7 935.7v9M1216.2 940.2h9M1219.2 934.2v9M1214.7 938.7h9M1222.5 938.7v9M1218 943.2h9M1209.8 945.4v9M1205.3 949.9h9M1208.5 942.5v9M1204 947h9M1213.1 944.7v9M1208.6 949.2h9M1215 943.1v9M1210.5 947.6h9M1212.7 941.1v9M1208.2 945.6h9M1212.9 945.5v9M1208.4 950h9M1214.8 945v9M1210.3 949.5h9M1213.9 944v9M1209.4 948.5h9M1217.7 944.6v9M1213.2 949.1h9M1218 942.4v9M1213.5 946.9h9M1216 939.9v9M1211.5 944.4h9M1220.6 946v9M1216.1 950.5h9M1221.8 946.9v9M1217.3 951.4h9M1220 945.4v9M1215.5 949.9h9M1224.4 946.5v9M1219.9 951h9M1210.2 950v9M1205.7 954.5h9M1208.8 947.2v9M1204.3 951.7h9M1215 948.7v9M1210.5 953.2h9M1216.9 949.7v9M1212.4 954.2h9M1215.6 947.7v9M1211.1 952.2h9M1216.7 951.6v9M1212.2 956.1h9M1221.3 949.9v9M1216.8 954.4h9M1218.9 948.9v9M1214.4 953.4h9M1211.7 953.8v9M1207.2 958.3h9M1214.6 953.9v9M1210.1 958.4h9M1213.8 951.5v9M1209.3 956h9M1218.4 955.2v9M1213.9 959.7h9M1219.3 953.6v9M1214.8 958.1h9M1217.4 952.1v9M1212.9 956.6h9M1210.1 954.8v9M1205.6 959.3h9M1213.5 958.7v9M1209 963.2h9M1211.7 955.8v9M1207.2 960.3h9M1215.1 960v9M1210.6 964.5h9M1211.6 961.2v9M1207.1 965.7h9M1210.1 959.3v9M1205.6 963.8h9M1214.3 946.7v9M1209.8 951.2h9M1215.9 943.9v9M1211.4 948.4h9M1214.6 942.8v9M1210.1 947.3h9M1215.1 950.9v9M1210.6 955.4h9M1213 951v9M1208.5 955.5h9M1210.6 948.6v9M1206.1 953.1h9M1211.4 954.6v9M1206.9 959.1h9M1218.2 940.3v9M1213.7 944.8h9M1217.3 938.8v9M1212.8 943.3h9" stroke="#ff0000" stroke-width="3" fill="none"/><path d="M1246.4 860.8v9M1241.9 865.3h9M1246.2 862.3v9M1241.7 866.8h9M1246.1 863.8v9M1241.6 868.3h9M1245.9 865.3v9M1241.4 869.8h9M1245.6 866.8v9M1241.1 871.3h9M1245.4 868.3v9M1240.9 872.8h9M1244.9 869.8v9M1240.4 874.3h9M1244.4 871.1v9M1239.9 875.6h9M1243.8 872.3v9M1239.3 876.8h9M1243.3 873.5v9M1238.8 878h9M1241 876.8v9M1236.5 881.3h9M1240.8 878.6v9M1236.3 883.1h9M1242.6 879.8v9M1238.1 884.3h9M1239.8 881v9M1235.3 885.5h9M1239 882.9v9M1234.5 887.4h9M1242.1 882v9M1237.6 886.5h9M1240.3 885v9M1235.8 889.5h9M1229.8 896.8v9M1225.3 901.3h9M1231.2 899.2v9M1226.7 903.7h9M1230.3 901.6v9M1225.8 906.1h9M1231.9 898v9M1227.4 902.5h9M1232.7 896.2v9M1228.2 900.7h9M1246.3 861.5v9M1241.8 866h9M1246 864.5v9M1241.5 869h9M1245.7 866v9M1241.2 870.5h9M1245.1 869.1v9M1240.6 873.6h9M1244.6 870.4v9M1240.1 874.9h9M1244.1 871.7v9M1239.6 876.2h9M1229.9 897.1v9M1225.4 901.6h9M1231 899.1v9M1226.5 903.6h9M1230.2 901.7v9M1225.7 906.2h9M1231.6 897.9v9M1227.1 902.4h9M1232.1 906.6v9M1227.6 911.1h9M1228.3 906.3v9M1223.8 910.8h9M1227.8 908v9M1223.3 912.5h9M1225.5 908.6v9M1221 913.1h9M1224.6 910v9M1220.1 914.5h9M1227.5 911.2v9M1223 915.7h9M1225.1 911.8v9M1220.6 916.3h9M1227 913.2v9M1222.5 917.7h9M1225.8 914.6v9M1221.3 919.1h9M1226.1 916.7v9M1221.6 921.2h9M1222.4 916.7v9M1217.9 921.2h9M1221.6 918.1v9M1217.1 922.6h9M1225.5 919.3v9M1221 923.8h9M1224.8 921.6v9M1220.3 926.1h9M1224 923.3v9M1219.5 927.8h9M1222.8 924.4v9M1218.3 928.9h9M1222.1 925.9v9M1217.6 930.4h9M1221.2 926.7v9M1216.7 931.2h9M1219.4 923.3v9M1214.9 927.8h9M1218 925v9M1213.5 929.5h9M1216.2 925.6v9M1211.7 930.1h9M1214.8 927.9v9M1210.3 932.4h9M1217.7 928.5v9M1213.2 933h9M1220.1 928.8v9M1215.6 933.3h9M1220.7 927.9v9M1216.2 932.4h9M1218.5 930.2v9M1214 934.7h9M1217.4 932.5v9M1212.9 937h9M1218.5 932.2v9M1214 936.7h9M1216.9 934.8v9M1212.4 939.3h9M1217.2 936.8v9M1212.7 941.3h9M1215.7 938.9v9M1211.2 943.4h9M1214.8 940.6v9M1210.3 945.1h9M1231 922.1v9M1226.5 926.6h9M1232.1 924.7v9M1227.6 929.2h9M1227.7 928.5v9M1223.2 933h9M1230 928.2v9M1225.5 932.7h9M1228.7 935.7v9M1224.2 940.2h9M1228.5 940.3v9M1224 944.8h9M1205.2 950.4v9M1200.7 954.9h9M1202.2 952.4v9M1197.7 956.9h9M1226.5 915.2v9M1222 919.7h9M1224.3 920.1v9M1219.8 924.6h9M1223.4 922.1v9M1218.9 926.6h9M1219.7 926.7v9M1215.2 931.2h9M1219.1 931.4v9M1214.6 935.9h9M1217.9 934.2v9M1213.4 938.7h9M1216.4 937.1v9M1211.9 941.6h9M1232.6 896.9v9M1228.1 901.4h9M1231.1 900.3v9M1226.6 904.8h9M1229.5 902.7v9M1225 907.2h9M1232.1 897.1v9M1227.6 901.6h9M1230.2 900.1v9M1225.7 904.6h9M1231.5 899.4v9M1227 903.9h9M1233.1 904.9v9M1228.6 909.4h9M1229.7 904.3v9M1225.2 908.8h9M1227.5 907.3v9M1223 911.8h9M1228.6 905.7v9M1224.1 910.2h9M1226.5 907.2v9M1222 911.7h9M1224.6 909.7v9M1220.1 914.2h9M1226 908.4v9M1221.5 912.9h9M1228.2 909.2v9M1223.7 913.7h9M1226.6 912.2v9M1222.1 916.7h9M1226.2 909.5v9M1221.7 914h9M1228.3 911.8v9M1223.8 916.3h9M1226.1 914.3v9M1221.6 918.8h9M1226.5 913v9M1222 917.5h9M1227.2 914.7v9M1222.7 919.2h9M1225.3 917.7v9M1220.8 922.2h9M1223.8 914.4v9M1219.3 918.9h9M1222.3 916.7v9M1217.8 921.2h9M1220.7 919.2v9M1216.2 923.7h9M1226.5 917.6v9M1222 922.1h9M1226.1 919.6v9M1221.6 924.1h9M1223.9 922.6v9M1219.4 927.1h9M1224.7 921v9M1220.2 925.5h9M1223.8 923.1v9M1219.3 927.6h9M1221.9 925.5v9M1217.4 930h9M1223.4 924.2v9M1218.9 928.7h9M1222 924.8v9M1217.5 929.3h9M1220.4 927.8v9M1215.9 932.3h9M1220.4 921v9M1215.9 925.5h9M1219.4 923.7v9M1214.9 928.2h9M1217.2 926.1v9M1212.7 930.6h9M1216.9 923.9v9M1212.4 928.4h9M1215.9 925.9v9M1211.4 930.4h9M1213.9 929v9M1209.4 933.5h9M1219 926.2v9M1214.5 930.7h9M1220.8 927.4v9M1216.3 931.9h9M1219.2 929.8v9M1214.7 934.3h9M1221.8 926.2v9M1217.3 930.7h9M1219.9 928.2v9M1215.4 932.7h9M1217.7 931.3v9M1213.2 935.8h9M1218.1 930.2v9M1213.6 934.7h9M1219.6 930.9v9M1215.1 935.4h9M1217.7 933.3v9M1213.2 937.8h9M1218.2 933.1v9M1213.7 937.6h9M1217.9 934.9v9M1213.4 939.4h9M1216.3 937.9v9M1211.8 942.4h9M1216.7 936.6v9M1212.2 941.1h9M1231.8 920.5v9M1227.3 925h9M1233.1 922.8v9M1228.6 927.3h9M1231.2 925.8v9M1226.7 930.3h9M1229 926.2v9M1224.5 930.7h9M1230.8 926.8v9M1226.3 931.3h9M1229.1 929.3v9M1224.6 933.8h9M1229.7 934v9M1225.2 938.5h9M1227.8 913.5v9M1223.3 918h9M1225 918.1v9M1220.5 922.6h9M1223.4 921.2v9M1218.9 925.7h9M1224.5 919.9v9M1220 924.4h9M1221.1 925.4v9M1216.6 929.9h9M1218.8 927.8v9M1214.3 932.3h9M1219.8 929.7v9M1215.3 934.2h9M1218.9 932.3v9M1214.4 936.8h9M1217 935.3v9M1212.5 939.8h9M1217.7 934.8v9M1213.2 939.3h9" stroke="#00ff00" stroke-width="3" fill="none"/><path d="M1233.6 922.4v9M1229.1 926.9h9M1235.1 923.9v9M1230.6 928.4h9M1234.3 926.7v9M1229.8 931.2h9" stroke="#ff00ff" stroke-width="3" fill="none"/><path d="M1250.9 827.7C1252.9 828.3 1254.7 831.9 1256.1 835.5C1257.5 839.1 1258.8 844.7 1259.6 849.3C1260.3 853.9 1260.6 858.5 1260.4 863.1C1260.3 867.7 1259.6 872.3 1258.7 876.9C1257.8 881.5 1256.5 886.1 1255.2 890.7C1253.9 895.3 1252.5 900 1250.9 904.6C1249.3 909.2 1247.5 913.8 1245.7 918.4C1244 923 1242.6 926.9 1240.6 932.2C1238.6 937.5 1236 944.5 1233.7 950.1C1231.4 955.6 1228.8 961.7 1226.8 965.6C1224.7 969.5 1223.6 971.7 1221.6 973.4C1219.6 975.1 1217 976.3 1214.7 976C1212.4 975.7 1210.1 973.7 1207.8 971.7C1205.5 969.6 1202.9 966.6 1200.9 963.9C1198.8 961.1 1196.8 957.7 1195.7 955.2C1194.5 952.8 1193.1 952.1 1194 949.2C1194.8 946.3 1198 942.4 1200.9 938C1203.7 933.5 1207.8 927.3 1211.2 922.4C1214.7 917.6 1219.3 912.5 1221.6 908.6C1223.9 904.8 1223.7 902.6 1225 899.4C1226.3 896.1 1228.2 893.3 1229.3 889C1230.5 884.7 1231.2 878.4 1231.9 873.5C1232.7 868.6 1232.8 864.8 1233.7 859.7C1234.5 854.5 1235.4 847 1237.1 842.4C1238.8 837.8 1241.7 834.5 1244 832C1246.3 829.6 1248.9 827.2 1250.9 827.7Z" fill="none" stroke="#000" stroke-width="2.8" stroke-linejoin="round"/></g><rect x="1088.4" y="733.8" width="234.9" height="384.7" fill="none" stroke="#000" stroke-width="1.7"/><path d="M1161.2 1118.5v-3.5M1161.2 733.8v3.5M1235.2 1118.5v-3.5M1235.2 733.8v3.5M1308.7 1118.5v-3.5M1308.7 733.8v3.5M1088.4 796h3.5M1323.3 796h-3.5M1088.4 872.8h3.5M1323.3 872.8h-3.5M1088.4 934.3h3.5M1323.3 934.3h-3.5M1088.4 995.9h3.5M1323.3 995.9h-3.5M1088.4 1057.6h3.5M1323.3 1057.6h-3.5" stroke="#000" stroke-width="1.7" fill="none"/><rect x="1323.5" y="734.6" width="129.3" height="194" fill="#fff" stroke="#000" stroke-width="1.6"/><ellipse cx="1341.4" cy="745.7" rx="1.4" ry="1.4" fill="#0000ff" /><ellipse cx="1341.4" cy="762.8" rx="3.3" ry="3.3" fill="#ff0000" /><ellipse cx="1341.4" cy="780.2" rx="1.4" ry="1.4" fill="#edb120" /><ellipse cx="1341.4" cy="797.5" rx="3.3" ry="3.3" fill="#ff00ff" /><ellipse cx="1341.4" cy="814.9" rx="1.4" ry="1.4" fill="#00ffff" /><ellipse cx="1341.4" cy="832.5" rx="3.3" ry="3.3" fill="#008000" /><ellipse cx="1341.4" cy="849.6" rx="1.4" ry="1.4" fill="#a2142f" /><ellipse cx="1341.4" cy="866.8" rx="3.3" ry="3.3" fill="#00ffff" /><path d="M1341.4 880.1v9M1336.9 884.6h9" stroke="#ff0000" stroke-width="2.1" fill="none"/><path d="M1341.4 898.5v6.6M1338.1 901.8h6.6" stroke="#00ff00" stroke-width="2.1" fill="none"/><path d="M1341.4 915.7v6.4M1338.2 918.9h6.4" stroke="#ff00ff" stroke-width="2.1" fill="none"/><text x="1359.1" y="750.3" font-size="13.2" textLength="89.6" lengthAdjust="spacingAndGlyphs" class="lt2">simulated granite</text><text x="1359.1" y="767.4" font-size="13.2" textLength="84.8" lengthAdjust="spacingAndGlyphs" class="lt2">borehole granite</text><text x="1359.1" y="784.8" font-size="13.2" textLength="86.1" lengthAdjust="spacingAndGlyphs" class="lt2">simulated quartz</text><text x="1359.1" y="802.1" font-size="13.2" textLength="81.3" lengthAdjust="spacingAndGlyphs" class="lt2">borehole quartz</text><text x="1359.1" y="819.5" font-size="13.2" textLength="81.3" lengthAdjust="spacingAndGlyphs" class="lt2">simulated basic</text><text x="1359.1" y="837.1" font-size="13.2" textLength="76.4" lengthAdjust="spacingAndGlyphs" class="lt2">borehole basic</text><text x="1359.1" y="854.2" font-size="13.2" textLength="81.6" lengthAdjust="spacingAndGlyphs" class="lt2">simulated aplite</text><text x="1359.1" y="871.4" font-size="13.2" textLength="76.8" lengthAdjust="spacingAndGlyphs" class="lt2">borehole aplite</text><text x="1359.1" y="889.2" font-size="13.2" textLength="86.7" lengthAdjust="spacingAndGlyphs" class="lt2">blasthole granite</text><text x="1359.1" y="906.4" font-size="13.2" textLength="83.2" lengthAdjust="spacingAndGlyphs" class="lt2">blasthole quartz</text><text x="1359.1" y="923.5" font-size="13.2" textLength="78" lengthAdjust="spacingAndGlyphs" class="lt2">blasthole basic</text><path d="M1594.6 1029.65V1043.58M1594.6 1071.29V1089.85M1594.6 1112.93V1112.98M1603.4 1029.65V1048.20M1603.4 1071.29V1089.85M1603.4 1103.68V1112.98M1612.1 1029.65V1048.20M1612.1 1071.29V1112.98M1620.9 1025.02V1062.09M1620.9 1075.92V1112.98M1629.6 1020.39V1112.98M1638.4 1015.77V1112.98M1647.2 1015.77V1112.98M1655.9 747.40V752.08M1655.9 1015.77V1112.98M1664.7 747.40V756.70M1664.7 1020.39V1112.98M1673.4 747.40V770.58M1673.4 1015.77V1103.73M1682.2 747.40V789.09M1682.2 1011.14V1099.10M1691 747.40V914.02M1691 1011.14V1099.10M1699.7 747.40V918.65M1699.7 1011.14V1099.10M1708.5 747.40V909.39M1708.5 950.99V951.04M1708.5 1011.14V1099.10M1717.2 747.40V904.77M1717.2 1011.14V1103.73M1726 747.40V909.39M1726 923.23V923.28M1726 955.61V955.66M1726 992.63V992.68M1726 1011.14V1034.32M1726 1057.41V1112.98M1734.8 747.40V909.39M1734.8 1062.04V1112.98M1743.5 747.40V909.39M1743.5 1015.77V1020.44M1743.5 1057.41V1112.98M1752.3 747.40V839.99M1752.3 853.82V914.02M1752.3 955.61V955.66M1752.3 1020.39V1020.44M1752.3 1052.78V1112.98M1761 747.40V821.48M1761 853.82V932.53M1761 955.61V955.66M1761 983.38V1001.93M1761 1052.78V1112.98M1769.8 747.40V821.48M1769.8 863.07V946.41M1769.8 978.75V978.80M1769.8 1034.27V1038.95M1769.8 1048.15V1112.98M1778.6 747.40V816.85M1778.6 863.07V941.78M1778.6 1038.90V1112.98M1787.3 747.40V802.97M1787.3 844.57V844.62M1787.3 867.70V955.66M1787.3 1038.90V1112.98M1796.1 747.40V802.97M1796.1 872.33V955.66M1796.1 1038.90V1112.98M1804.8 747.40V798.35M1804.8 812.18V812.23M1804.8 886.21V951.04M1804.8 1038.90V1112.98M1813.6 747.40V798.35M1813.6 881.58V941.78M1813.6 1038.90V1112.98M1822.4 747.40V812.23M1822.4 900.09V941.78M1822.4 1038.90V1112.98M1831.1 747.40V812.23M1831.1 909.34V909.39M1831.1 927.85V937.16M1831.1 1043.53V1112.98" stroke="#0000ff" stroke-width="3.9" fill="none" stroke-dasharray="0 4.627" stroke-linecap="round"/><path d="M1594.6 1048.15V1066.71M1594.6 1094.42V1108.36M1603.4 1052.78V1066.71M1603.4 1094.42V1099.10M1612.1 1052.78V1066.71M1620.9 1066.66V1071.34M1647.2 1006.51V1011.19M1655.9 1001.88V1011.19M1664.7 997.26V1015.82M1673.4 978.75V1011.19M1682.2 960.24V1006.56M1691 918.60V1006.56M1699.7 923.23V1006.56M1708.5 913.97V946.41M1708.5 955.61V1006.56M1717.2 909.34V1006.56M1726 913.97V918.65M1726 927.85V951.04M1726 960.24V988.05M1726 997.26V1006.56M1726 1038.90V1052.83M1734.8 913.97V955.66M1734.8 964.87V1011.19M1734.8 1025.02V1057.46M1743.5 913.97V951.04M1743.5 964.87V1001.93M1743.5 1025.02V1052.83M1752.3 844.57V849.24M1752.3 918.60V951.04M1752.3 974.12V1001.93M1752.3 1025.02V1048.20M1761 826.06V849.24M1761 937.11V951.04M1761 974.12V978.80M1761 1034.27V1048.20M1769.8 826.06V858.50M1769.8 1043.53V1043.58M1778.6 821.43V858.50M1787.3 807.55V839.99M1787.3 849.19V863.12M1796.1 807.55V867.75M1804.8 802.92V807.60M1804.8 816.80V858.50M1813.6 802.92V844.62M1822.4 816.80V835.36M1831.1 816.80V826.11" stroke="#edb120" stroke-width="3.9" fill="none" stroke-dasharray="0 4.627" stroke-linecap="round"/><path d="M1673.4 1108.31V1112.98M1682.2 1103.68V1112.98M1691 1103.68V1112.98M1699.7 1103.68V1112.98M1708.5 1103.68V1112.98M1717.2 1108.31V1112.98M1734.8 960.24V960.29M1734.8 1015.77V1020.44M1743.5 955.61V960.29M1743.5 1006.51V1011.19M1752.3 960.24V969.55M1761 960.24V969.55M1769.8 950.99V974.17M1778.6 946.36V974.17M1787.3 960.24V974.17M1796.1 960.24V978.80M1804.8 863.07V881.63M1804.8 955.61V983.43M1813.6 849.19V877.01M1813.6 946.36V988.05M1822.4 839.94V895.51M1822.4 946.36V988.05M1831.1 830.69V904.77M1831.1 913.97V923.28M1831.1 941.73V988.05" stroke="#00ffff" stroke-width="3.9" fill="none" stroke-dasharray="0 4.627" stroke-linecap="round"/><path d="M1752.3 1006.51V1015.82M1761 1006.51V1029.70M1769.8 983.38V1029.70M1778.6 978.75V1034.32M1787.3 978.75V1034.32M1796.1 983.38V1034.32M1804.8 988.00V1034.32M1813.6 992.63V1034.32M1822.4 992.63V1034.32M1831.1 992.63V1038.95" stroke="#a2142f" stroke-width="3.9" fill="none" stroke-dasharray="0 4.627" stroke-linecap="round"/><path d="M1819.2 766.4v10M1814.2 771.4h10M1809.4 777.5v10M1804.4 782.5h10M1821.7 777.5v10M1816.7 782.5h10M1811.1 782.6v10M1806.1 787.6h10M1823.7 784.9v10M1818.7 789.9h10M1815.3 789.3v10M1810.3 794.3h10M1817.8 793v10M1812.8 798h10M1818.7 796.7v10M1813.7 801.7h10M1817.8 800.4v10M1812.8 805.4h10M1817 804v10M1812 809h10M1816.2 807.7v10M1811.2 812.7h10M1815 811.4v10M1810 816.4h10M1813.6 815.1v10M1808.6 820.1h10M1812.8 818.8v10M1807.8 823.8h10M1814 823.2v10M1809 828.2h10M1794.3 871.2v10M1789.3 876.2h10M1766.6 883.8v10M1761.6 888.8h10M1788.4 886.7v10M1783.4 891.7h10M1801 886.7v10M1796 891.7h10M1771.6 893.4v10M1766.6 898.4h10M1769.1 897.1v10M1764.1 902.1h10M1766.6 900v10M1761.6 905h10M1784.2 897.8v10M1779.2 902.8h10M1793.5 900v10M1788.5 905h10M1800.2 899.3v10M1795.2 904.3h10M1762.4 903v10M1757.4 908h10M1772.5 903.7v10M1767.5 908.7h10M1776.7 907.4v10M1771.7 912.4h10M1792.6 909.6v10M1787.6 914.6h10M1759.9 908.1v10M1754.9 913.1h10M1763.2 911.8v10M1758.2 916.8h10M1778.3 912.6v10M1773.3 917.6h10M1796 911.1v10M1791 916.1h10M1764.9 916.2v10M1759.9 921.2h10M1784.2 922.2v10M1779.2 927.2h10M1756.5 925.8v10M1751.5 930.8h10M1764.1 925.8v10M1759.1 930.8h10M1819.9 793.7v10M1814.9 798.7h10M1816.7 798.4v10M1811.7 803.4h10M1815.7 809.7v10M1810.7 814.7h10M1814.5 817.3v10M1809.5 822.3h10M1763.6 913.4v10M1758.6 918.4h10M1777.2 913.4v10M1772.2 918.4h10M1757.2 926.1v10M1752.2 931.1h10M1765.2 923.9v10M1760.2 928.9h10M1783.6 922.5v10M1778.6 927.5h10M1761.2 947.8v10M1756.2 952.8h10M1650.7 1006.2v10M1645.7 1011.2h10M1642.7 1016v10M1637.7 1021h10M1689.2 1010.4v10M1684.2 1015.4h10M1693.2 1018.8v10M1688.2 1023.8h10M1635.5 1030.8v10M1630.5 1035.8h10M1653.1 1030.1v10M1648.1 1035.1h10M1657.9 1027.3v10M1652.9 1032.3h10M1649.9 1034.3v10M1644.9 1039.3h10M1661.1 1034.3v10M1656.1 1039.3h10M1670.7 1028.7v10M1665.7 1033.7h10M1674 1024.5v10M1669 1029.5h10M1688.4 1034.3v10M1683.4 1039.3h10M1690 1037.8v10M1685 1042.8h10M1704.4 1037.8v10M1699.4 1042.8h10M1639.5 1042v10M1634.5 1047h10M1657.9 1039.9v10M1652.9 1044.9h10M1669.1 1043.4v10M1664.1 1048.4h10M1669.9 1049.1v10M1664.9 1054.1h10M1687.6 1046.2v10M1682.6 1051.2h10M1644.3 1051.2v10M1639.3 1056.2h10M1660.3 1052.6v10M1655.3 1057.6h10M1674 1056.8v10M1669 1061.8h10M1680.4 1054v10M1675.4 1059h10M1638.7 1058.2v10M1633.7 1063.2h10M1650.7 1063.1v10M1645.7 1068.1h10M1660.3 1067.3v10M1655.3 1072.3h10M1645.9 1071.5v10M1640.9 1076.5h10M1654.7 1037.1v10M1649.7 1042.1h10M1664.3 1031.5v10M1659.3 1036.5h10M1662.7 1044.1v10M1657.7 1049.1h10M1648.3 1045.5v10M1643.3 1050.5h10M1642.7 1055.4v10M1637.7 1060.4h10M1677.2 1021.6v10M1672.2 1026.6h10M1767.3 880.8v10M1762.3 885.8h10M1785.6 885.2v10M1780.6 890.2h10M1805.2 886.7v10M1800.2 891.7h10M1772.3 894.8v10M1767.3 899.8h10M1766.3 894.1v10M1761.3 899.1h10M1770.8 898.5v10M1765.8 903.5h10M1784.9 897.8v10M1779.9 902.8h10M1790.7 901.5v10M1785.7 906.5h10M1804.4 896.3v10M1799.4 901.3h10M1763.1 901.5v10M1758.1 906.5h10M1769.7 903.7v10M1764.7 908.7h10M1780.9 908.9v10M1775.9 913.9h10M1793.3 906.6v10M1788.3 911.6h10M1757 906.6v10M1752 911.6h10M1767.4 911.8v10M1762.4 916.8h10M1779 914v10M1774 919h10M1793.2 908.1v10M1788.2 913.1h10M1769.1 914.8v10M1764.1 919.8h10M1784.9 922.2v10M1779.9 927.2h10M1753.7 927.3v10M1748.7 932.3h10M1768.3 922.9v10M1763.3 927.9h10M1767.8 910.4v10M1762.8 915.4h10M1777.9 911.9v10M1772.9 916.9h10M1754.4 926.1v10M1749.4 931.1h10M1769.4 925.4v10M1764.4 930.4h10M1784.3 919.6v10M1779.3 924.6h10M1645.6 1017.9v10M1640.6 1022.9h10M1689.9 1011.1v10M1684.9 1016.1h10M1682.8 1007.4v10M1677.8 1012.4h10M1698.1 1018.5v10M1693.1 1023.5h10M1638.3 1034.9v10M1633.3 1039.9h10M1632 1027.8v10M1627 1032.8h10M1653.8 1033v10M1648.8 1038h10M1662.9 1029.1v10M1657.9 1034.1h10M1651.6 1024.3v10M1646.6 1029.3h10M1652.8 1035v10M1647.8 1040h10M1661.8 1033.9v10M1656.8 1038.9h10M1657.6 1031.3v10M1652.6 1036.3h10M1675.7 1032.7v10M1670.7 1037.7h10M1676.8 1027.4v10M1671.8 1032.4h10M1667.6 1021.5v10M1662.6 1026.5h10M1689.1 1036.1v10M1684.1 1041.1h10M1694.9 1038.5v10M1689.9 1043.5h10M1686.4 1034.8v10M1681.4 1039.8h10M1707.2 1037.4v10M1702.2 1042.4h10M1640.2 1046.1v10M1635.2 1051.1h10M1633.2 1039.1v10M1628.2 1044.1h10M1662.9 1042.9v10M1657.9 1047.9h10M1672 1045.3v10M1667 1050.3h10M1665.6 1040.5v10M1660.6 1045.5h10M1670.7 1049.8v10M1665.7 1054.8h10M1692.5 1045.9v10M1687.5 1050.9h10M1681.2 1043.3v10M1676.2 1048.3h10M1647.2 1055.2v10M1642.2 1060.2h10M1661 1055.5v10M1656 1060.5h10M1656.8 1049.6v10M1651.8 1054.6h10M1678.9 1058.6v10M1673.9 1063.6h10M1683.2 1054.7v10M1678.2 1059.7h10M1674 1051v10M1669 1056h10M1639.4 1057.8v10M1634.4 1062.8h10M1655.7 1067.2v10M1650.7 1072.2h10M1647.2 1060.1v10M1642.2 1065.1h10M1663.2 1070.3v10M1658.2 1075.3h10M1646.6 1073.4v10M1641.6 1078.4h10M1639.6 1068.6v10M1634.6 1073.6h10M1659.7 1037.8v10M1654.7 1042.8h10M1667.2 1031.1v10M1662.2 1036.1h10M1660.8 1028.5v10M1655.8 1033.5h10M1663.4 1048.2v10M1658.4 1053.2h10M1653.3 1048.5v10M1648.3 1053.5h10M1642 1042.6v10M1637 1047.6h10M1645.6 1057.2v10M1640.6 1062.2h10M1677.9 1022.4v10M1672.9 1027.4h10M1673.6 1018.7v10M1668.6 1023.7h10" stroke="#ff0000" stroke-width="2" fill="none"/><path d="M1811.6 830v6.8M1808.2 833.4h6.8M1810.8 833.7v6.8M1807.4 837.1h6.8M1809.9 837.4v6.8M1806.5 840.8h6.8M1808.9 841.1v6.8M1805.5 844.5h6.8M1807.8 844.8v6.8M1804.4 848.2h6.8M1806.6 848.5v6.8M1803.2 851.9h6.8M1804.4 852.1v6.8M1801 855.5h6.8M1801.9 855.1v6.8M1798.5 858.5h6.8M1799.4 858.1v6.8M1796 861.5h6.8M1796.8 861v6.8M1793.4 864.4h6.8M1785.9 869.1v6.8M1782.5 872.5h6.8M1785.1 873.6v6.8M1781.7 877h6.8M1793.5 876.5v6.8M1790.1 879.9h6.8M1780 879.5v6.8M1776.6 882.9h6.8M1776.7 883.9v6.8M1773.3 887.3h6.8M1790.9 881.7v6.8M1787.5 885.1h6.8M1782.5 889.1v6.8M1779.1 892.5h6.8M1733 917.8v6.8M1729.6 921.2h6.8M1739.7 923.8v6.8M1736.3 927.2h6.8M1735.5 929.7v6.8M1732.1 933.1h6.8M1743 920.8v6.8M1739.6 924.2h6.8M1746.4 916.4v6.8M1743 919.8h6.8M1811.1 831.9v6.8M1807.7 835.3h6.8M1809.4 839.2v6.8M1806 842.6h6.8M1808.3 842.8v6.8M1804.9 846.2h6.8M1805.6 850.2v6.8M1802.2 853.6h6.8M1803.1 853.6v6.8M1799.7 857h6.8M1800.5 856.6v6.8M1797.1 860h6.8M1733.2 918.5v6.8M1729.8 921.9h6.8M1738.8 923.4v6.8M1735.4 926.8h6.8M1734.8 929.8v6.8M1731.4 933.2h6.8M1741.2 920.6v6.8M1737.8 924h6.8M1743.6 941.7v6.8M1740.2 945.1h6.8M1726 941v6.8M1722.6 944.4h6.8M1723.6 945.2v6.8M1720.2 948.6h6.8M1712.4 946.6v6.8M1709 950h6.8M1708.4 950.1v6.8M1705 953.5h6.8M1722 953v6.8M1718.6 956.4h6.8M1710.8 954.4v6.8M1707.4 957.8h6.8M1719.6 957.9v6.8M1716.2 961.3h6.8M1714 961.4v6.8M1710.6 964.8h6.8M1715.6 966.3v6.8M1712.2 969.7h6.8M1698 966.3v6.8M1694.6 969.7h6.8M1694 969.8v6.8M1690.6 973.2h6.8M1712.4 972.6v6.8M1709 976h6.8M1709.2 978.3v6.8M1705.8 981.7h6.8M1705.2 982.5v6.8M1701.8 985.9h6.8M1699.6 985.3v6.8M1696.2 988.7h6.8M1696.4 988.8v6.8M1693 992.2h6.8M1692.4 990.9v6.8M1689 994.3h6.8M1683.6 982.5v6.8M1680.2 985.9h6.8M1677.2 986.7v6.8M1673.8 990.1h6.8M1668.3 988.1v6.8M1664.9 991.5h6.8M1661.9 993.7v6.8M1658.5 997.1h6.8M1675.6 995.1v6.8M1672.2 998.5h6.8M1686.8 995.8v6.8M1683.4 999.2h6.8M1690 993.7v6.8M1686.6 997.1h6.8M1679.6 999.3v6.8M1676.2 1002.7h6.8M1674 1005v6.8M1670.6 1008.4h6.8M1679.6 1004.3v6.8M1676.2 1007.7h6.8M1671.5 1010.6v6.8M1668.1 1014h6.8M1673.1 1015.5v6.8M1669.7 1018.9h6.8M1665.9 1020.4v6.8M1662.5 1023.8h6.8M1661.9 1024.6v6.8M1658.5 1028h6.8M1738.8 979.7v6.8M1735.4 983.1h6.8M1743.6 986v6.8M1740.2 989.4h6.8M1722.8 995.1v6.8M1719.4 998.5h6.8M1734 994.4v6.8M1730.6 997.8h6.8M1727.6 1012.7v6.8M1724.2 1016.1h6.8M1726.8 1023.9v6.8M1723.4 1027.3h6.8M1616.3 1048.5v6.8M1612.9 1051.9h6.8M1601.9 1053.5v6.8M1598.5 1056.9h6.8M1717.2 962.8v6.8M1713.8 966.2h6.8M1706.8 974.7v6.8M1703.4 978.1h6.8M1702.8 979.7v6.8M1699.4 983.1h6.8M1685.2 990.9v6.8M1681.8 994.3h6.8M1682 1002.2v6.8M1678.6 1005.6h6.8M1676.4 1009.2v6.8M1673 1012.6h6.8M1669.1 1016.2v6.8M1665.7 1019.6h6.8M1746 918.2v6.8M1742.6 921.6h6.8M1739 926.3v6.8M1735.6 929.7h6.8M1731.3 932.3v6.8M1727.9 935.7h6.8M1743.7 918.6v6.8M1740.3 922h6.8M1734.6 926v6.8M1731.2 929.4h6.8M1741.1 924.2v6.8M1737.7 927.6h6.8M1748.5 937.6v6.8M1745.1 941h6.8M1732.3 936.2v6.8M1728.9 939.6h6.8M1721.8 943.6v6.8M1718.4 947h6.8M1727.1 939.7v6.8M1723.7 943.1h6.8M1717.3 943.3v6.8M1713.9 946.7h6.8M1708.1 949.2v6.8M1704.7 952.6h6.8M1714.7 946.1v6.8M1711.3 949.5h6.8M1725.5 948.1v6.8M1722.1 951.5h6.8M1717.8 955.6v6.8M1714.4 959h6.8M1715.7 948.8v6.8M1712.3 952.2h6.8M1725.9 954.5v6.8M1722.5 957.9h6.8M1715.3 960.5v6.8M1711.9 963.9h6.8M1717.5 957.3v6.8M1714.1 960.7h6.8M1720.5 961.5v6.8M1717.1 964.9h6.8M1711.3 968.9v6.8M1707.9 972.3h6.8M1704.3 960.8v6.8M1700.9 964.2h6.8M1697.5 966.5v6.8M1694.1 969.9h6.8M1689.7 972.4v6.8M1686.3 975.8h6.8M1717.3 968.6v6.8M1713.9 972h6.8M1715.5 973.4v6.8M1712.1 976.8h6.8M1704.9 980.9v6.8M1701.5 984.3h6.8M1708.7 976.9v6.8M1705.3 980.3h6.8M1704.5 982v6.8M1701.1 985.4h6.8M1695.3 987.9v6.8M1691.9 991.3h6.8M1702.7 984.7v6.8M1699.3 988.1h6.8M1695.9 986.1v6.8M1692.5 989.5h6.8M1688.1 993.5v6.8M1684.7 996.9h6.8M1688.5 976.9v6.8M1685.1 980.3h6.8M1683.5 983.4v6.8M1680.1 986.8h6.8M1672.9 989.3v6.8M1669.5 992.7h6.8M1671.9 984v6.8M1668.5 987.4h6.8M1666.9 988.9v6.8M1663.5 992.3h6.8M1657.7 996.3v6.8M1654.3 999.7h6.8M1681.9 989.6v6.8M1678.5 993h6.8M1690.3 992.5v6.8M1686.9 995.9h6.8M1682.5 998.4v6.8M1679.1 1001.8h6.8M1694.9 989.6v6.8M1691.5 993h6.8M1685.9 994.5v6.8M1682.5 997.9h6.8M1675.3 1001.9v6.8M1671.9 1005.3h6.8M1677.5 999.4v6.8M1674.1 1002.8h6.8M1684.5 1000.9v6.8M1681.1 1004.3h6.8M1675.3 1006.9v6.8M1671.9 1010.3h6.8M1677.9 1006.5v6.8M1674.5 1009.9h6.8M1676.7 1010.7v6.8M1673.3 1014.1h6.8M1668.9 1018.1v6.8M1665.5 1021.5h6.8M1670.9 1014.9v6.8M1667.5 1018.3h6.8M1742.3 975.6v6.8M1738.9 979h6.8M1748.5 981.2v6.8M1745.1 984.6h6.8M1739.4 988.6v6.8M1736 992h6.8M1729.1 989.6v6.8M1725.7 993h6.8M1737.5 991.1v6.8M1734.1 994.5h6.8M1729.8 997v6.8M1726.4 1000.4h6.8M1732.5 1008.6v6.8M1729.1 1012h6.8M1723.5 958.7v6.8M1720.1 962.1h6.8M1710.3 969.9v6.8M1706.9 973.3h6.8M1702.5 977.3v6.8M1699.1 980.7h6.8M1707.7 974.1v6.8M1704.3 977.5h6.8M1691.5 987.6v6.8M1688.1 991h6.8M1680.9 993.5v6.8M1677.5 996.9h6.8M1685.5 998.1v6.8M1682.1 1001.5h6.8M1681.3 1004.4v6.8M1677.9 1007.8h6.8M1672.1 1011.8v6.8M1668.7 1015.2h6.8M1675.5 1010.7v6.8M1672.1 1014.1h6.8" stroke="#00ff00" stroke-width="2.1" fill="none"/><path d="M1750.8 980.4v6.8M1747.4 983.8h6.8M1758 983.9v6.8M1754.6 987.3h6.8M1754 990.9v6.8M1750.6 994.3h6.8" stroke="#ff00ff" stroke-width="2.1" fill="none"/><rect x="1591.3" y="742.6" width="245.7" height="370.8" fill="none" stroke="#000" stroke-width="1.7"/><path d="M1626.4 1113.4v-3.5M1626.4 742.6v3.5M1661.5 1113.4v-3.5M1661.5 742.6v3.5M1696.6 1113.4v-3.5M1696.6 742.6v3.5M1731.7 1113.4v-3.5M1731.7 742.6v3.5M1766.8 1113.4v-3.5M1766.8 742.6v3.5M1801.9 1113.4v-3.5M1801.9 742.6v3.5M1591.3 779.7h3.5M1837 779.7h-3.5M1591.3 816.7h3.5M1837 816.7h-3.5M1591.3 853.8h3.5M1837 853.8h-3.5M1591.3 890.9h3.5M1837 890.9h-3.5M1591.3 928h3.5M1837 928h-3.5M1591.3 965h3.5M1837 965h-3.5M1591.3 1002.1h3.5M1837 1002.1h-3.5M1591.3 1039.2h3.5M1837 1039.2h-3.5M1591.3 1076.2h3.5M1837 1076.2h-3.5" stroke="#000" stroke-width="1.7" fill="none"/><ellipse cx="1814.4" cy="810" rx="21.4" ry="15.7" fill="none" stroke="#12a150" stroke-width="2.9"/><ellipse cx="1780.1" cy="880" rx="17.3" ry="14" fill="none" stroke="#3a2aa8" stroke-width="2.9"/><ellipse cx="1758.9" cy="936" rx="17.1" ry="12.2" fill="none" stroke="#12a150" stroke-width="2.9"/><ellipse cx="1774.3" cy="967" rx="28" ry="11.4" fill="none" stroke="#12a8ea" stroke-width="2.9"/><ellipse cx="1752.6" cy="991" rx="22.1" ry="11.8" fill="none" stroke="#12a150" stroke-width="2.9"/><ellipse cx="1675" cy="998.4" rx="14.8" ry="10.3" fill="none" stroke="#3a2aa8" stroke-width="2.9"/><ellipse cx="1613.9" cy="1053" rx="17.1" ry="9.7" fill="none" stroke="#3a2aa8" stroke-width="2.9"/><rect x="1838.5" y="742.6" width="146.3" height="130.4" fill="#fff" stroke="#000" stroke-width="1.6"/><ellipse cx="1858.5" cy="754.9" rx="1.8" ry="1.8" fill="#0000ff" /><ellipse cx="1858.5" cy="772.7" rx="1.8" ry="1.8" fill="#edb120" /><ellipse cx="1858.5" cy="791.1" rx="1.8" ry="1.8" fill="#00ffff" /><ellipse cx="1858.5" cy="809.4" rx="1.8" ry="1.8" fill="#a2142f" /><path d="M1858.5 822.5v10M1853.5 827.5h10" stroke="#ff0000" stroke-width="2.1" fill="none"/><path d="M1858.5 841.9v7M1855 845.4h7" stroke="#00ff00" stroke-width="2.1" fill="none"/><path d="M1858.5 860v6.6M1855.2 863.3h6.6" stroke="#ff00ff" stroke-width="2.1" fill="none"/><text x="1878.1" y="759.9" font-size="14.5" textLength="102" lengthAdjust="spacingAndGlyphs" class="lt2">simulated granite</text><text x="1878.1" y="777.7" font-size="14.5" textLength="98" lengthAdjust="spacingAndGlyphs" class="lt2">simulated quartz</text><text x="1878.1" y="796.1" font-size="14.5" textLength="92.5" lengthAdjust="spacingAndGlyphs" class="lt2">simulated basic</text><text x="1878.1" y="814.4" font-size="14.5" textLength="93" lengthAdjust="spacingAndGlyphs" class="lt2">simulated aplite</text><text x="1878.1" y="832.5" font-size="14.5" textLength="98.7" lengthAdjust="spacingAndGlyphs" class="lt2">blasthole granite</text><text x="1878.1" y="850.4" font-size="14.5" textLength="94.7" lengthAdjust="spacingAndGlyphs" class="lt2">blasthole quartz</text><text x="1878.1" y="868.3" font-size="14.5" textLength="89" lengthAdjust="spacingAndGlyphs" class="lt2">blasthole basic</text><path d="M1222.2 936.9C1224.1 937.2 1228.7 935.4 1233.8 938.6C1238.9 941.8 1244.4 950.9 1252.9 955.9C1261.3 961 1272.2 965.3 1284.6 968.6C1296.9 972 1312.8 974.2 1326.9 976C1341 977.9 1355.1 978.9 1369.2 979.6C1383.3 980.3 1397.4 980.6 1411.5 980.3C1425.6 979.9 1439.7 978.9 1453.8 977.5C1467.9 976.1 1481.9 974.7 1496 971.8C1510.1 968.9 1527.8 963.5 1538.3 960.2C1548.9 956.8 1554.4 953.8 1559.5 951.7C1564.6 949.6 1567.4 948.2 1569 947.5L1562.7 947.1L1584.9 935.9L1589.1 948.5L1578.5 951.3C1575.3 952.6 1566.2 956.5 1559.5 959.1C1552.8 961.7 1548.9 964.1 1538.3 966.9C1527.8 969.8 1510.1 973.7 1496 976C1481.9 978.4 1467.9 979.7 1453.8 980.9C1439.7 982.1 1425.6 982.8 1411.5 983C1397.4 983.3 1383.3 983 1369.2 982.4C1355.1 981.7 1341 980.8 1326.9 979.2C1312.8 977.6 1296.9 975.7 1284.6 972.9C1272.2 970 1261.3 966.5 1252.9 962.3C1244.4 958.1 1238.6 951 1233.8 947.5C1229.1 944 1225.9 942.2 1224.3 941.1Z" fill="#ff0000"/><text x="1038.8" y="690.3" font-size="40" class="sf">(d)</text><text x="1223.9" y="716" font-size="22.7" class="sf" text-anchor="middle">(i)</text><text x="1718.6" y="715.7" font-size="22.8" class="sf" text-anchor="middle">(ii)</text><text x="1082.9" y="739.1" font-size="12.2" font-weight="bold" text-anchor="end" textLength="27" lengthAdjust="spacingAndGlyphs">7300</text><text x="1082.9" y="801.3" font-size="12.2" font-weight="bold" text-anchor="end" textLength="27" lengthAdjust="spacingAndGlyphs">6900</text><text x="1082.9" y="878.1" font-size="12.2" font-weight="bold" text-anchor="end" textLength="27" lengthAdjust="spacingAndGlyphs">6400</text><text x="1082.9" y="939.6" font-size="12.2" font-weight="bold" text-anchor="end" textLength="27" lengthAdjust="spacingAndGlyphs">6000</text><text x="1082.9" y="1001.2" font-size="12.2" font-weight="bold" text-anchor="end" textLength="27" lengthAdjust="spacingAndGlyphs">5600</text><text x="1082.9" y="1062.9" font-size="12.2" font-weight="bold" text-anchor="end" textLength="27" lengthAdjust="spacingAndGlyphs">5500</text><text x="1082.9" y="1123.8" font-size="12.2" font-weight="bold" text-anchor="end" textLength="27" lengthAdjust="spacingAndGlyphs">4800</text><text x="1088.4" y="1140.3" font-size="12.2" font-weight="bold" text-anchor="middle" textLength="27" lengthAdjust="spacingAndGlyphs">6000</text><text x="1161.2" y="1140.3" font-size="12.2" font-weight="bold" text-anchor="middle" textLength="27" lengthAdjust="spacingAndGlyphs">6500</text><text x="1235.2" y="1140.3" font-size="12.2" font-weight="bold" text-anchor="middle" textLength="27" lengthAdjust="spacingAndGlyphs">7000</text><text x="1308.7" y="1140.3" font-size="12.2" font-weight="bold" text-anchor="middle" textLength="27" lengthAdjust="spacingAndGlyphs">7500</text><text x="1205.5" y="1159.8" font-size="12.5" font-weight="bold" text-anchor="middle" textLength="70.7" lengthAdjust="spacingAndGlyphs">Easting (m)</text><text x="1050.8" y="926.7" font-size="12.5" font-weight="bold" text-anchor="middle" textLength="92.6" lengthAdjust="spacingAndGlyphs" transform="rotate(-90 1050.8 926.7)">Northing (m)</text><text x="1584.4" y="748.8" font-size="13" font-weight="bold" text-anchor="end" textLength="28.6" lengthAdjust="spacingAndGlyphs">6700</text><text x="1584.4" y="785.9" font-size="13" font-weight="bold" text-anchor="end" textLength="28.6" lengthAdjust="spacingAndGlyphs">6600</text><text x="1584.4" y="822.9" font-size="13" font-weight="bold" text-anchor="end" textLength="28.6" lengthAdjust="spacingAndGlyphs">6500</text><text x="1584.4" y="860" font-size="13" font-weight="bold" text-anchor="end" textLength="28.6" lengthAdjust="spacingAndGlyphs">6400</text><text x="1584.4" y="897.1" font-size="13" font-weight="bold" text-anchor="end" textLength="28.6" lengthAdjust="spacingAndGlyphs">6300</text><text x="1584.4" y="934.2" font-size="13" font-weight="bold" text-anchor="end" textLength="28.6" lengthAdjust="spacingAndGlyphs">6200</text><text x="1584.4" y="971.2" font-size="13" font-weight="bold" text-anchor="end" textLength="28.6" lengthAdjust="spacingAndGlyphs">6100</text><text x="1584.4" y="1008.3" font-size="13" font-weight="bold" text-anchor="end" textLength="28.6" lengthAdjust="spacingAndGlyphs">6000</text><text x="1584.4" y="1045.4" font-size="13" font-weight="bold" text-anchor="end" textLength="28.6" lengthAdjust="spacingAndGlyphs">5900</text><text x="1584.4" y="1082.4" font-size="13" font-weight="bold" text-anchor="end" textLength="28.6" lengthAdjust="spacingAndGlyphs">5800</text><text x="1584.4" y="1119.5" font-size="13" font-weight="bold" text-anchor="end" textLength="28.6" lengthAdjust="spacingAndGlyphs">5700</text><text x="1591.3" y="1135" font-size="13" font-weight="bold" text-anchor="middle" textLength="28.6" lengthAdjust="spacingAndGlyphs">6750</text><text x="1626.4" y="1135" font-size="13" font-weight="bold" text-anchor="middle" textLength="28.6" lengthAdjust="spacingAndGlyphs">6800</text><text x="1661.5" y="1135" font-size="13" font-weight="bold" text-anchor="middle" textLength="28.6" lengthAdjust="spacingAndGlyphs">6850</text><text x="1696.6" y="1135" font-size="13" font-weight="bold" text-anchor="middle" textLength="28.6" lengthAdjust="spacingAndGlyphs">6900</text><text x="1731.7" y="1135" font-size="13" font-weight="bold" text-anchor="middle" textLength="28.6" lengthAdjust="spacingAndGlyphs">6950</text><text x="1766.8" y="1135" font-size="13" font-weight="bold" text-anchor="middle" textLength="28.6" lengthAdjust="spacingAndGlyphs">7000</text><text x="1801.9" y="1135" font-size="13" font-weight="bold" text-anchor="middle" textLength="28.6" lengthAdjust="spacingAndGlyphs">7050</text><text x="1837" y="1135" font-size="13" font-weight="bold" text-anchor="middle" textLength="28.6" lengthAdjust="spacingAndGlyphs">7100</text><text x="1713.4" y="1155.8" font-size="13.5" font-weight="bold" text-anchor="middle" textLength="79.7" lengthAdjust="spacingAndGlyphs">Easting (m)</text><text x="1549.3" y="928.6" font-size="13.3" font-weight="bold" text-anchor="middle" textLength="98" lengthAdjust="spacingAndGlyphs" transform="rotate(-90 1549.3 928.6)">Northing (m)</text><text x="1354" y="1015.8" font-size="20" class="sf" textLength="121.6" lengthAdjust="spacingAndGlyphs">Zoomed view</text><text x="1354" y="1052.8" font-size="20" class="sf" textLength="121.6" lengthAdjust="spacingAndGlyphs">of  validation</text><text x="1354" y="1089.3" font-size="20" class="sf">zone</text><text x="1440.4" y="1205.6" font-size="21.2" class="sf" textLength="150.8" lengthAdjust="spacingAndGlyphs">Misclassification</text><text x="1440.4" y="1242.5" font-size="21.2" class="sf">of quartz</text><text x="1615.4" y="1211.5" font-size="21.2" class="sf" textLength="150.8" lengthAdjust="spacingAndGlyphs">Misclassification</text><text x="1615.4" y="1248.4" font-size="21.2" class="sf">of granite</text><text x="1792.4" y="1219.4" font-size="21.2" class="sf" textLength="150.8" lengthAdjust="spacingAndGlyphs">Misclassification</text><text x="1792.4" y="1256.3" font-size="21.2" class="sf">of basic</text><line x1="1807.1" y1="817.8" x2="1568.2" y2="1163.9" stroke="#12a150" stroke-width="3.1"/><polygon points="1560.8,1174.6 1564,1158.6 1574.7,1165.9" fill="#12a150" /><line x1="1762.4" y1="944.5" x2="1573.7" y2="1163.3" stroke="#12a150" stroke-width="3.1"/><polygon points="1565.2,1173.1 1570.1,1157.5 1579.9,1166" fill="#12a150" /><line x1="1748.2" y1="997.5" x2="1579" y2="1162.5" stroke="#12a150" stroke-width="3.1"/><polygon points="1569.7,1171.6 1575.9,1156.5 1585,1165.8" fill="#12a150" /><line x1="1791.2" y1="885.8" x2="1713.3" y2="1163.6" stroke="#1470c0" stroke-width="3.1"/><polygon points="1709.8,1176.1 1707.6,1159.9 1720.1,1163.4" fill="#1470c0" /><line x1="1678.8" y1="1006.4" x2="1703.4" y2="1164.7" stroke="#1470c0" stroke-width="3.1"/><polygon points="1705.4,1177.5 1696.7,1163.7 1709.5,1161.7" fill="#1470c0" /><line x1="1606.6" y1="1061" x2="1692.8" y2="1166" stroke="#1470c0" stroke-width="3.1"/><polygon points="1701,1176.1 1686.5,1168.6 1696.5,1160.4" fill="#1470c0" /><line x1="1783.6" y1="978.4" x2="1828.5" y2="1173.7" stroke="#12a8ea" stroke-width="3.1"/><polygon points="1831.4,1186.4 1821.7,1173.2 1834.4,1170.3" fill="#12a8ea" />
</svg></body></html>
